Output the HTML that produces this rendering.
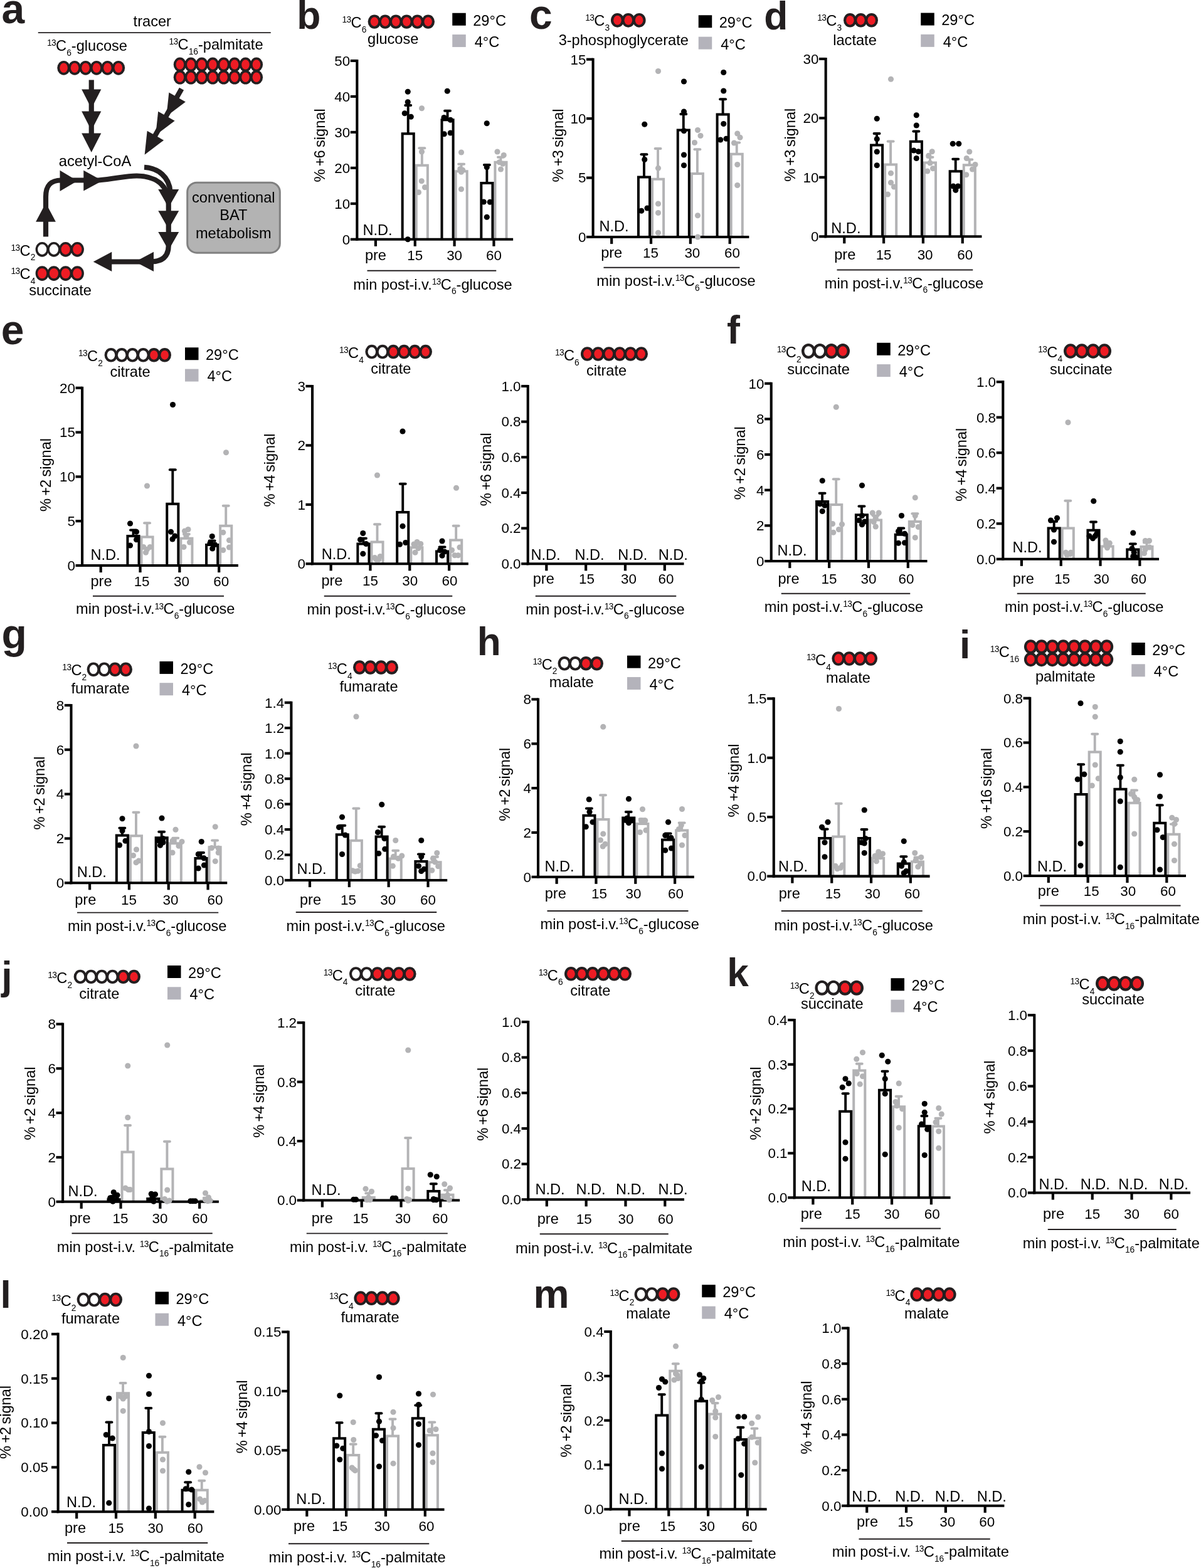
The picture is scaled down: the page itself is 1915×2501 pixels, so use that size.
<!DOCTYPE html>
<html lang="en"><head><meta charset="utf-8"><title>Figure</title>
<style>
html,body{margin:0;padding:0;background:#fff;}
body{width:1915px;height:2501px;overflow:hidden;}
svg{display:block;font-family:'Liberation Sans', 'Helvetica', 'Arial', sans-serif;}
svg text{white-space:pre;}
</style></head><body>
<svg xmlns="http://www.w3.org/2000/svg" width="1915" height="2501" viewBox="0 0 1915 2501" font-family="'Liberation Sans', 'Helvetica', 'Arial', sans-serif">
<rect width="1915" height="2501" fill="#fff"/>
<text x="242.75" y="42" font-size="23.6" text-anchor="middle">tracer</text>
<line x1="60.75" y1="52.2" x2="431.75" y2="52.2" stroke="#231f20" stroke-width="1.8" stroke-linecap="butt"/>
<text x="75" y="81.25" font-size="23.6"><tspan font-size="13.76" dy="-7.86" letter-spacing="-0.6">13</tspan><tspan dy="7.86">C</tspan><tspan font-size="13.76" dy="7.86">6</tspan><tspan dy="-7.86">-glucose</tspan></text>
<text x="269.5" y="78.75" font-size="23.6"><tspan font-size="13.76" dy="-7.86" letter-spacing="-0.6">13</tspan><tspan dy="7.86">C</tspan><tspan font-size="13.76" dy="7.86">16</tspan><tspan dy="-7.86">-palmitate</tspan></text>
<ellipse cx="101.6" cy="108.3" rx="10.3" ry="11.4" fill="#231f20"/>
<ellipse cx="119.05" cy="108.3" rx="10.3" ry="11.4" fill="#231f20"/>
<ellipse cx="136.5" cy="108.3" rx="10.3" ry="11.4" fill="#231f20"/>
<ellipse cx="153.95" cy="108.3" rx="10.3" ry="11.4" fill="#231f20"/>
<ellipse cx="171.4" cy="108.3" rx="10.3" ry="11.4" fill="#231f20"/>
<ellipse cx="188.85" cy="108.3" rx="10.3" ry="11.4" fill="#231f20"/>
<ellipse cx="101.6" cy="108.3" rx="6.3" ry="7.8" fill="#ed1c24"/>
<ellipse cx="119.05" cy="108.3" rx="6.3" ry="7.8" fill="#ed1c24"/>
<ellipse cx="136.5" cy="108.3" rx="6.3" ry="7.8" fill="#ed1c24"/>
<ellipse cx="153.95" cy="108.3" rx="6.3" ry="7.8" fill="#ed1c24"/>
<ellipse cx="171.4" cy="108.3" rx="6.3" ry="7.8" fill="#ed1c24"/>
<ellipse cx="188.85" cy="108.3" rx="6.3" ry="7.8" fill="#ed1c24"/>
<ellipse cx="286.9" cy="103" rx="10.2" ry="11.4" fill="#231f20"/>
<ellipse cx="304.33" cy="103" rx="10.2" ry="11.4" fill="#231f20"/>
<ellipse cx="321.76" cy="103" rx="10.2" ry="11.4" fill="#231f20"/>
<ellipse cx="339.19" cy="103" rx="10.2" ry="11.4" fill="#231f20"/>
<ellipse cx="356.62" cy="103" rx="10.2" ry="11.4" fill="#231f20"/>
<ellipse cx="374.05" cy="103" rx="10.2" ry="11.4" fill="#231f20"/>
<ellipse cx="391.48" cy="103" rx="10.2" ry="11.4" fill="#231f20"/>
<ellipse cx="408.91" cy="103" rx="10.2" ry="11.4" fill="#231f20"/>
<ellipse cx="286.9" cy="103" rx="6.3" ry="7.7" fill="#ed1c24"/>
<ellipse cx="304.33" cy="103" rx="6.3" ry="7.7" fill="#ed1c24"/>
<ellipse cx="321.76" cy="103" rx="6.3" ry="7.7" fill="#ed1c24"/>
<ellipse cx="339.19" cy="103" rx="6.3" ry="7.7" fill="#ed1c24"/>
<ellipse cx="356.62" cy="103" rx="6.3" ry="7.7" fill="#ed1c24"/>
<ellipse cx="374.05" cy="103" rx="6.3" ry="7.7" fill="#ed1c24"/>
<ellipse cx="391.48" cy="103" rx="6.3" ry="7.7" fill="#ed1c24"/>
<ellipse cx="408.91" cy="103" rx="6.3" ry="7.7" fill="#ed1c24"/>
<ellipse cx="286.9" cy="123.2" rx="10.2" ry="11.4" fill="#231f20"/>
<ellipse cx="304.33" cy="123.2" rx="10.2" ry="11.4" fill="#231f20"/>
<ellipse cx="321.76" cy="123.2" rx="10.2" ry="11.4" fill="#231f20"/>
<ellipse cx="339.19" cy="123.2" rx="10.2" ry="11.4" fill="#231f20"/>
<ellipse cx="356.62" cy="123.2" rx="10.2" ry="11.4" fill="#231f20"/>
<ellipse cx="374.05" cy="123.2" rx="10.2" ry="11.4" fill="#231f20"/>
<ellipse cx="391.48" cy="123.2" rx="10.2" ry="11.4" fill="#231f20"/>
<ellipse cx="408.91" cy="123.2" rx="10.2" ry="11.4" fill="#231f20"/>
<ellipse cx="286.9" cy="123.2" rx="6.3" ry="7.7" fill="#ed1c24"/>
<ellipse cx="304.33" cy="123.2" rx="6.3" ry="7.7" fill="#ed1c24"/>
<ellipse cx="321.76" cy="123.2" rx="6.3" ry="7.7" fill="#ed1c24"/>
<ellipse cx="339.19" cy="123.2" rx="6.3" ry="7.7" fill="#ed1c24"/>
<ellipse cx="356.62" cy="123.2" rx="6.3" ry="7.7" fill="#ed1c24"/>
<ellipse cx="374.05" cy="123.2" rx="6.3" ry="7.7" fill="#ed1c24"/>
<ellipse cx="391.48" cy="123.2" rx="6.3" ry="7.7" fill="#ed1c24"/>
<ellipse cx="408.91" cy="123.2" rx="6.3" ry="7.7" fill="#ed1c24"/>
<line x1="145.75" y1="127.5" x2="145.75" y2="225" stroke="#231f20" stroke-width="8.2" stroke-linecap="butt"/>
<polygon points="130.15,142.5 161.35,142.5 145.75,173" fill="#231f20"/>
<polygon points="130.15,177.5 161.35,177.5 145.75,208" fill="#231f20"/>
<polygon points="130.15,212.5 161.35,212.5 145.75,243" fill="#231f20"/>
<line x1="289.5" y1="141.75" x2="242.66" y2="224.4" stroke="#231f20" stroke-width="8.2" stroke-linecap="butt"/>
<polygon points="269.38,147.51 295.82,162.49 265.35,185.45" fill="#231f20"/>
<polygon points="252.18,177.76 278.62,192.74 248.14,215.7" fill="#231f20"/>
<polygon points="234.68,208.76 261.12,223.74 230.65,246.7" fill="#231f20"/>
<text x="151.5" y="264.5" font-size="23.6" text-anchor="middle">acetyl-CoA</text>
<path d="M73 377.5V314C73 296 80 287.5 98 287.5H157C185 285 200 280.5 218 280.5C250 281 268.75 296 268.75 326V392C268.75 410 258 417.5 240 417.5H176" fill="none" stroke="#231f20" stroke-width="8.2" stroke-linejoin="round"/>
<path d="M230 266.75C252 268 270 282 271.5 306" fill="none" stroke="#231f20" stroke-width="8.2"/>
<polygon points="88.9,353.75 57.1,353.75 73,323.75" fill="#231f20"/>
<polygon points="95.5,305 95.5,271.8 123.5,288.4" fill="#231f20"/>
<polygon points="133.25,304.6 133.25,271.8 163.25,288.2" fill="#231f20"/>
<polygon points="252.25,302 285.25,302 268.75,331" fill="#231f20"/>
<polygon points="252.25,336.25 285.25,336.25 268.75,365.25" fill="#231f20"/>
<polygon points="252.25,370 285.25,370 268.75,399" fill="#231f20"/>
<polygon points="245,401.7 245,433.1 215.5,417.4" fill="#231f20"/>
<polygon points="178.25,401.7 178.25,433.1 148.75,417.4" fill="#231f20"/>
<rect x="298.7" y="291.2" width="147.6" height="112" fill="#b3b3b3" stroke="#808080" stroke-width="3" rx="15"/>
<text x="372.3" y="322.5" font-size="23.6" text-anchor="middle">conventional</text>
<text x="372.3" y="351" font-size="23.6" text-anchor="middle">BAT</text>
<text x="372.3" y="380" font-size="23.6" text-anchor="middle">metabolism</text>
<text x="17.5" y="407.5" font-size="23.6"><tspan font-size="13.76" dy="-7.86" letter-spacing="-0.6">13</tspan><tspan dy="7.86">C</tspan><tspan font-size="13.76" dy="7.86">2</tspan></text>
<ellipse cx="67.2" cy="397.8" rx="10.6" ry="11.9" fill="#231f20"/>
<ellipse cx="85.9" cy="397.8" rx="10.6" ry="11.9" fill="#231f20"/>
<ellipse cx="104.6" cy="397.8" rx="10.6" ry="11.9" fill="#231f20"/>
<ellipse cx="123.3" cy="397.8" rx="10.6" ry="11.9" fill="#231f20"/>
<ellipse cx="67.2" cy="397.8" rx="7.1" ry="8.2" fill="#fff"/>
<ellipse cx="85.9" cy="397.8" rx="7.1" ry="8.2" fill="#fff"/>
<ellipse cx="104.6" cy="397.8" rx="7.1" ry="8.2" fill="#ed1c24"/>
<ellipse cx="123.3" cy="397.8" rx="7.1" ry="8.2" fill="#ed1c24"/>
<text x="17.5" y="445" font-size="23.6"><tspan font-size="13.76" dy="-7.86" letter-spacing="-0.6">13</tspan><tspan dy="7.86">C</tspan><tspan font-size="13.76" dy="7.86">4</tspan></text>
<ellipse cx="67.2" cy="436.1" rx="10.6" ry="11.9" fill="#231f20"/>
<ellipse cx="85.9" cy="436.1" rx="10.6" ry="11.9" fill="#231f20"/>
<ellipse cx="104.6" cy="436.1" rx="10.6" ry="11.9" fill="#231f20"/>
<ellipse cx="123.3" cy="436.1" rx="10.6" ry="11.9" fill="#231f20"/>
<ellipse cx="67.2" cy="436.1" rx="7.1" ry="8.2" fill="#ed1c24"/>
<ellipse cx="85.9" cy="436.1" rx="7.1" ry="8.2" fill="#ed1c24"/>
<ellipse cx="104.6" cy="436.1" rx="7.1" ry="8.2" fill="#ed1c24"/>
<ellipse cx="123.3" cy="436.1" rx="7.1" ry="8.2" fill="#ed1c24"/>
<text x="96" y="471" font-size="23.6" text-anchor="middle">succinate</text>
<text x="2.55" y="37.18" font-size="66" font-weight="bold" fill="#231f20">a</text>
<text x="473.14" y="46.37" font-size="62.4" font-weight="bold" fill="#231f20">b</text>
<text x="843.89" y="46.45" font-size="66" font-weight="bold" fill="#231f20">c</text>
<text x="1218.2" y="46.86" font-size="62.4" font-weight="bold" fill="#231f20">d</text>
<text x="1.67" y="548.81" font-size="66" font-weight="bold" fill="#231f20">e</text>
<text x="1158.91" y="548" font-size="62.8" font-weight="bold" fill="#231f20">f</text>
<text x="2.61" y="1034.11" font-size="66" font-weight="bold" fill="#231f20">g</text>
<text x="760.64" y="1045" font-size="62.2" font-weight="bold" fill="#231f20">h</text>
<text x="1529.94" y="1049.8" font-size="62.3" font-weight="bold" fill="#231f20">i</text>
<text x="2.17" y="1578" font-size="62.3" font-weight="bold" fill="#231f20">j</text>
<text x="1159.34" y="1573.2" font-size="62.2" font-weight="bold" fill="#231f20">k</text>
<text x="0.45" y="2086" font-size="62" font-weight="bold" fill="#231f20">l</text>
<text x="850.52" y="2086" font-size="64.2" font-weight="bold" fill="#231f20">m</text>
<line x1="672.82" y1="236.25" x2="672.82" y2="262.75" stroke="#b3b3b5" stroke-width="3.9" stroke-linecap="butt"/>
<line x1="668.32" y1="236.25" x2="677.32" y2="236.25" stroke="#b3b3b5" stroke-width="3.9" stroke-linecap="round"/>
<path d="M663.77 381.75V263.75H681.87V381.75" fill="none" stroke="#b3b3b5" stroke-width="4"/>
<line x1="735.65" y1="261.75" x2="735.65" y2="272.25" stroke="#b3b3b5" stroke-width="3.9" stroke-linecap="butt"/>
<line x1="731.15" y1="261.75" x2="740.15" y2="261.75" stroke="#b3b3b5" stroke-width="3.9" stroke-linecap="round"/>
<path d="M726.6 381.75V273.25H744.7V381.75" fill="none" stroke="#b3b3b5" stroke-width="4"/>
<line x1="798.48" y1="250.75" x2="798.48" y2="257.75" stroke="#b3b3b5" stroke-width="3.9" stroke-linecap="butt"/>
<line x1="793.98" y1="250.75" x2="802.98" y2="250.75" stroke="#b3b3b5" stroke-width="3.9" stroke-linecap="round"/>
<path d="M789.43 381.75V258.75H807.53V381.75" fill="none" stroke="#b3b3b5" stroke-width="4"/>
<line x1="650.72" y1="168" x2="650.72" y2="212.25" stroke="#000" stroke-width="3.9" stroke-linecap="butt"/>
<line x1="646.22" y1="168" x2="655.22" y2="168" stroke="#000" stroke-width="3.9" stroke-linecap="round"/>
<path d="M641.67 381.75V213.25H659.77V381.75" fill="none" stroke="#000" stroke-width="4"/>
<line x1="713.55" y1="176.75" x2="713.55" y2="190.25" stroke="#000" stroke-width="3.9" stroke-linecap="butt"/>
<line x1="709.05" y1="176.75" x2="718.05" y2="176.75" stroke="#000" stroke-width="3.9" stroke-linecap="round"/>
<path d="M704.5 381.75V191.25H722.6V381.75" fill="none" stroke="#000" stroke-width="4"/>
<line x1="776.38" y1="263" x2="776.38" y2="291" stroke="#000" stroke-width="3.9" stroke-linecap="butt"/>
<line x1="771.88" y1="263" x2="780.88" y2="263" stroke="#000" stroke-width="3.9" stroke-linecap="round"/>
<path d="M767.33 381.75V292H785.43V381.75" fill="none" stroke="#000" stroke-width="4"/>
<line x1="569.34" y1="94.9" x2="569.34" y2="383.8" stroke="#000" stroke-width="4.1" stroke-linecap="butt"/>
<line x1="567.29" y1="381.75" x2="818.13" y2="381.75" stroke="#000" stroke-width="4.1" stroke-linecap="butt"/>
<line x1="558.74" y1="381.75" x2="569.34" y2="381.75" stroke="#000" stroke-width="4.1" stroke-linecap="butt"/>
<text x="558.14" y="389.63" font-size="22.4" text-anchor="end" letter-spacing="0.0">0</text>
<line x1="558.74" y1="324.79" x2="569.34" y2="324.79" stroke="#000" stroke-width="4.1" stroke-linecap="butt"/>
<text x="558.14" y="332.67" font-size="22.4" text-anchor="end" letter-spacing="0.0">10</text>
<line x1="558.74" y1="267.83" x2="569.34" y2="267.83" stroke="#000" stroke-width="4.1" stroke-linecap="butt"/>
<text x="558.14" y="275.71" font-size="22.4" text-anchor="end" letter-spacing="0.0">20</text>
<line x1="558.74" y1="210.87" x2="569.34" y2="210.87" stroke="#000" stroke-width="4.1" stroke-linecap="butt"/>
<text x="558.14" y="218.75" font-size="22.4" text-anchor="end" letter-spacing="0.0">30</text>
<line x1="558.74" y1="153.91" x2="569.34" y2="153.91" stroke="#000" stroke-width="4.1" stroke-linecap="butt"/>
<text x="558.14" y="161.79" font-size="22.4" text-anchor="end" letter-spacing="0.0">40</text>
<line x1="558.74" y1="96.95" x2="569.34" y2="96.95" stroke="#000" stroke-width="4.1" stroke-linecap="butt"/>
<text x="558.14" y="104.83" font-size="22.4" text-anchor="end" letter-spacing="0.0">50</text>
<line x1="598.94" y1="381.75" x2="598.94" y2="392.85" stroke="#000" stroke-width="4.2" stroke-linecap="butt"/>
<text x="598.94" y="415" font-size="23.6" text-anchor="middle">pre</text>
<line x1="661.77" y1="381.75" x2="661.77" y2="392.85" stroke="#000" stroke-width="4.2" stroke-linecap="butt"/>
<text x="661.77" y="415" font-size="22.4" text-anchor="middle" letter-spacing="0.0">15</text>
<line x1="724.6" y1="381.75" x2="724.6" y2="392.85" stroke="#000" stroke-width="4.2" stroke-linecap="butt"/>
<text x="724.6" y="415" font-size="22.4" text-anchor="middle" letter-spacing="0.0">30</text>
<line x1="787.43" y1="381.75" x2="787.43" y2="392.85" stroke="#000" stroke-width="4.2" stroke-linecap="butt"/>
<text x="787.43" y="415" font-size="22.4" text-anchor="middle" letter-spacing="0.0">60</text>
<circle cx="672.5" cy="172.75" r="4.55" fill="#b3b3b5"/>
<circle cx="672.5" cy="242" r="4.55" fill="#b3b3b5"/>
<circle cx="672.25" cy="288.75" r="4.55" fill="#b3b3b5"/>
<circle cx="677.5" cy="298.75" r="4.55" fill="#b3b3b5"/>
<circle cx="667.5" cy="306.75" r="4.55" fill="#b3b3b5"/>
<circle cx="735.5" cy="243" r="4.55" fill="#b3b3b5"/>
<circle cx="733.75" cy="269.5" r="4.55" fill="#b3b3b5"/>
<circle cx="737.75" cy="271.25" r="4.55" fill="#b3b3b5"/>
<circle cx="735.5" cy="274.25" r="4.55" fill="#b3b3b5"/>
<circle cx="735.5" cy="301.75" r="4.55" fill="#b3b3b5"/>
<circle cx="793" cy="242" r="4.55" fill="#b3b3b5"/>
<circle cx="803.25" cy="247.5" r="4.55" fill="#b3b3b5"/>
<circle cx="796.25" cy="258.75" r="4.55" fill="#b3b3b5"/>
<circle cx="801.75" cy="261.25" r="4.55" fill="#b3b3b5"/>
<circle cx="798.5" cy="270" r="4.55" fill="#b3b3b5"/>
<circle cx="650.25" cy="146.25" r="4.55" fill="#000"/>
<circle cx="650.25" cy="162.75" r="4.55" fill="#000"/>
<circle cx="645.25" cy="180.75" r="4.55" fill="#000"/>
<circle cx="655.25" cy="186.25" r="4.55" fill="#000"/>
<circle cx="650.25" cy="381.75" r="4.55" fill="#000"/>
<circle cx="713.25" cy="145.25" r="4.55" fill="#000"/>
<circle cx="708" cy="187.5" r="4.55" fill="#000"/>
<circle cx="718.25" cy="191.25" r="4.55" fill="#000"/>
<circle cx="708.25" cy="213.75" r="4.55" fill="#000"/>
<circle cx="718.25" cy="212" r="4.55" fill="#000"/>
<circle cx="776.25" cy="196.75" r="4.55" fill="#000"/>
<circle cx="776.25" cy="266.75" r="4.55" fill="#000"/>
<circle cx="771.25" cy="322" r="4.55" fill="#000"/>
<circle cx="781.25" cy="322.25" r="4.55" fill="#000"/>
<circle cx="776.25" cy="346.25" r="4.55" fill="#000"/>
<text x="602" y="375.15" font-size="23.6" text-anchor="middle">N.D.</text>
<line x1="585.5" y1="431.75" x2="791.25" y2="431.75" stroke="#231f20" stroke-width="1.8" stroke-linecap="butt"/>
<text x="690" y="461.5" font-size="23.6" text-anchor="middle">min post-i.v.<tspan font-size="13.76" dy="-7.86" letter-spacing="-0.6">13</tspan><tspan dy="7.86">C</tspan><tspan font-size="13.76" dy="7.86">6</tspan><tspan dy="-7.86">-glucose</tspan></text>
<text x="518.3" y="173.3" font-size="23.6" text-anchor="end" transform="rotate(-90 518.3 173.3)"><tspan letter-spacing="-1.1">% +6 </tspan>signal</text>
<text x="545.5" y="44.15" font-size="23.6"><tspan font-size="13.76" dy="-7.86" letter-spacing="-0.6">13</tspan><tspan dy="7.86">C</tspan><tspan font-size="13.76" dy="7.86">6</tspan></text>
<ellipse cx="596.99" cy="34.6" rx="10.39" ry="11.22" fill="#231f20"/>
<ellipse cx="614.12" cy="34.6" rx="10.39" ry="11.22" fill="#231f20"/>
<ellipse cx="631.24" cy="34.6" rx="10.39" ry="11.22" fill="#231f20"/>
<ellipse cx="648.36" cy="34.6" rx="10.39" ry="11.22" fill="#231f20"/>
<ellipse cx="665.48" cy="34.6" rx="10.39" ry="11.22" fill="#231f20"/>
<ellipse cx="682.61" cy="34.6" rx="10.39" ry="11.22" fill="#231f20"/>
<ellipse cx="596.99" cy="34.6" rx="6.27" ry="7.36" fill="#ed1c24"/>
<ellipse cx="614.12" cy="34.6" rx="6.27" ry="7.36" fill="#ed1c24"/>
<ellipse cx="631.24" cy="34.6" rx="6.27" ry="7.36" fill="#ed1c24"/>
<ellipse cx="648.36" cy="34.6" rx="6.27" ry="7.36" fill="#ed1c24"/>
<ellipse cx="665.48" cy="34.6" rx="6.27" ry="7.36" fill="#ed1c24"/>
<ellipse cx="682.61" cy="34.6" rx="6.27" ry="7.36" fill="#ed1c24"/>
<text x="626.75" y="69.6" font-size="23.6" text-anchor="middle">glucose</text>
<rect x="721.25" y="20.75" width="21.5" height="20" fill="#000"/>
<rect x="721.25" y="55.05" width="21.5" height="20" fill="#b4b3bb"/>
<text x="754.25" y="40.65" font-size="23.6">29°C</text>
<text x="756.75" y="74.95" font-size="23.6">4°C</text>
<line x1="1049.07" y1="237" x2="1049.07" y2="284.75" stroke="#b3b3b5" stroke-width="3.9" stroke-linecap="butt"/>
<line x1="1044.57" y1="237" x2="1053.57" y2="237" stroke="#b3b3b5" stroke-width="3.9" stroke-linecap="round"/>
<path d="M1040.02 378V285.75H1058.12V378" fill="none" stroke="#b3b3b5" stroke-width="4"/>
<line x1="1111.9" y1="238.25" x2="1111.9" y2="276" stroke="#b3b3b5" stroke-width="3.9" stroke-linecap="butt"/>
<line x1="1107.4" y1="238.25" x2="1116.4" y2="238.25" stroke="#b3b3b5" stroke-width="3.9" stroke-linecap="round"/>
<path d="M1102.85 378V277H1120.95V378" fill="none" stroke="#b3b3b5" stroke-width="4"/>
<line x1="1174.73" y1="227.5" x2="1174.73" y2="244.75" stroke="#b3b3b5" stroke-width="3.9" stroke-linecap="butt"/>
<line x1="1170.23" y1="227.5" x2="1179.23" y2="227.5" stroke="#b3b3b5" stroke-width="3.9" stroke-linecap="round"/>
<path d="M1165.68 378V245.75H1183.78V378" fill="none" stroke="#b3b3b5" stroke-width="4"/>
<line x1="1026.97" y1="246.25" x2="1026.97" y2="281.5" stroke="#000" stroke-width="3.9" stroke-linecap="butt"/>
<line x1="1022.47" y1="246.25" x2="1031.47" y2="246.25" stroke="#000" stroke-width="3.9" stroke-linecap="round"/>
<path d="M1017.92 378V282.5H1036.02V378" fill="none" stroke="#000" stroke-width="4"/>
<line x1="1089.8" y1="182" x2="1089.8" y2="206.5" stroke="#000" stroke-width="3.9" stroke-linecap="butt"/>
<line x1="1085.3" y1="182" x2="1094.3" y2="182" stroke="#000" stroke-width="3.9" stroke-linecap="round"/>
<path d="M1080.75 378V207.5H1098.85V378" fill="none" stroke="#000" stroke-width="4"/>
<line x1="1152.63" y1="158.25" x2="1152.63" y2="181.5" stroke="#000" stroke-width="3.9" stroke-linecap="butt"/>
<line x1="1148.13" y1="158.25" x2="1157.13" y2="158.25" stroke="#000" stroke-width="3.9" stroke-linecap="round"/>
<path d="M1143.58 378V182.5H1161.68V378" fill="none" stroke="#000" stroke-width="4"/>
<line x1="945.59" y1="92.65" x2="945.59" y2="380.05" stroke="#000" stroke-width="4.1" stroke-linecap="butt"/>
<line x1="943.54" y1="378" x2="1194.38" y2="378" stroke="#000" stroke-width="4.1" stroke-linecap="butt"/>
<line x1="934.99" y1="378" x2="945.59" y2="378" stroke="#000" stroke-width="4.1" stroke-linecap="butt"/>
<text x="934.39" y="385.88" font-size="22.4" text-anchor="end" letter-spacing="0.0">0</text>
<line x1="934.99" y1="283.57" x2="945.59" y2="283.57" stroke="#000" stroke-width="4.1" stroke-linecap="butt"/>
<text x="934.39" y="291.45" font-size="22.4" text-anchor="end" letter-spacing="0.0">5</text>
<line x1="934.99" y1="189.13" x2="945.59" y2="189.13" stroke="#000" stroke-width="4.1" stroke-linecap="butt"/>
<text x="934.39" y="197.02" font-size="22.4" text-anchor="end" letter-spacing="0.0">10</text>
<line x1="934.99" y1="94.7" x2="945.59" y2="94.7" stroke="#000" stroke-width="4.1" stroke-linecap="butt"/>
<text x="934.39" y="102.58" font-size="22.4" text-anchor="end" letter-spacing="0.0">15</text>
<line x1="975.19" y1="378" x2="975.19" y2="389.1" stroke="#000" stroke-width="4.2" stroke-linecap="butt"/>
<text x="975.19" y="410.75" font-size="23.6" text-anchor="middle">pre</text>
<line x1="1038.02" y1="378" x2="1038.02" y2="389.1" stroke="#000" stroke-width="4.2" stroke-linecap="butt"/>
<text x="1037.52" y="410.75" font-size="22.4" text-anchor="middle" letter-spacing="0.0">15</text>
<line x1="1100.85" y1="378" x2="1100.85" y2="389.1" stroke="#000" stroke-width="4.2" stroke-linecap="butt"/>
<text x="1103.85" y="410.75" font-size="22.4" text-anchor="middle" letter-spacing="0.0">30</text>
<line x1="1163.68" y1="378" x2="1163.68" y2="389.1" stroke="#000" stroke-width="4.2" stroke-linecap="butt"/>
<text x="1167.48" y="410.75" font-size="22.4" text-anchor="middle" letter-spacing="0.0">60</text>
<circle cx="1049.5" cy="113.5" r="4.55" fill="#b3b3b5"/>
<circle cx="1049.5" cy="268.25" r="4.55" fill="#b3b3b5"/>
<circle cx="1049.5" cy="325" r="4.55" fill="#b3b3b5"/>
<circle cx="1049.5" cy="339.5" r="4.55" fill="#b3b3b5"/>
<circle cx="1049.5" cy="371.25" r="4.55" fill="#b3b3b5"/>
<circle cx="1112.5" cy="207.5" r="4.55" fill="#b3b3b5"/>
<circle cx="1117" cy="216.5" r="4.55" fill="#b3b3b5"/>
<circle cx="1107.5" cy="227.5" r="4.55" fill="#b3b3b5"/>
<circle cx="1112.5" cy="343.75" r="4.55" fill="#b3b3b5"/>
<circle cx="1112.5" cy="378" r="4.55" fill="#b3b3b5"/>
<circle cx="1175.75" cy="213" r="4.55" fill="#b3b3b5"/>
<circle cx="1180" cy="219.25" r="4.55" fill="#b3b3b5"/>
<circle cx="1170.5" cy="228" r="4.55" fill="#b3b3b5"/>
<circle cx="1175.75" cy="262.5" r="4.55" fill="#b3b3b5"/>
<circle cx="1175.75" cy="295.5" r="4.55" fill="#b3b3b5"/>
<circle cx="1027.75" cy="198.25" r="4.55" fill="#000"/>
<circle cx="1027.75" cy="254.5" r="4.55" fill="#000"/>
<circle cx="1022.75" cy="336.25" r="4.55" fill="#000"/>
<circle cx="1032" cy="332" r="4.55" fill="#000"/>
<circle cx="1090.5" cy="130" r="4.55" fill="#000"/>
<circle cx="1090.5" cy="178" r="4.55" fill="#000"/>
<circle cx="1090.5" cy="208.75" r="4.55" fill="#000"/>
<circle cx="1090.5" cy="247" r="4.55" fill="#000"/>
<circle cx="1090.5" cy="263.75" r="4.55" fill="#000"/>
<circle cx="1153.75" cy="115.5" r="4.55" fill="#000"/>
<circle cx="1153.75" cy="145" r="4.55" fill="#000"/>
<circle cx="1153.75" cy="197.5" r="4.55" fill="#000"/>
<circle cx="1148.75" cy="223" r="4.55" fill="#000"/>
<circle cx="1158" cy="221.25" r="4.55" fill="#000"/>
<text x="979" y="369.1" font-size="23.6" text-anchor="middle">N.D.</text>
<line x1="962.5" y1="426.75" x2="1179.5" y2="426.75" stroke="#231f20" stroke-width="1.8" stroke-linecap="butt"/>
<text x="1078" y="455.9" font-size="23.6" text-anchor="middle">min post-i.v.<tspan font-size="13.76" dy="-7.86" letter-spacing="-0.6">13</tspan><tspan dy="7.86">C</tspan><tspan font-size="13.76" dy="7.86">6</tspan><tspan dy="-7.86">-glucose</tspan></text>
<text x="898" y="232" font-size="23.6" text-anchor="middle" transform="rotate(-90 898 232)"><tspan letter-spacing="-1.1">% +3 </tspan>signal</text>
<text x="933.25" y="40.85" font-size="23.6"><tspan font-size="13.76" dy="-7.86" letter-spacing="-0.6">13</tspan><tspan dy="7.86">C</tspan><tspan font-size="13.76" dy="7.86">3</tspan></text>
<ellipse cx="984.5" cy="32.3" rx="10.5" ry="11.33" fill="#231f20"/>
<ellipse cx="1001.8" cy="32.3" rx="10.5" ry="11.33" fill="#231f20"/>
<ellipse cx="1019.1" cy="32.3" rx="10.5" ry="11.33" fill="#231f20"/>
<ellipse cx="984.5" cy="32.3" rx="6.33" ry="7.44" fill="#ed1c24"/>
<ellipse cx="1001.8" cy="32.3" rx="6.33" ry="7.44" fill="#ed1c24"/>
<ellipse cx="1019.1" cy="32.3" rx="6.33" ry="7.44" fill="#ed1c24"/>
<text x="994.25" y="72.45" font-size="23.6" text-anchor="middle">3-phosphoglycerate</text>
<rect x="1113.75" y="24.25" width="21.5" height="20" fill="#000"/>
<rect x="1113.75" y="58.65" width="21.5" height="20" fill="#b4b3bb"/>
<text x="1146.75" y="44.15" font-size="23.6">29°C</text>
<text x="1149.25" y="78.55" font-size="23.6">4°C</text>
<line x1="1420.13" y1="225.5" x2="1420.13" y2="261.5" stroke="#b3b3b5" stroke-width="3.9" stroke-linecap="butt"/>
<line x1="1415.63" y1="225.5" x2="1424.63" y2="225.5" stroke="#b3b3b5" stroke-width="3.9" stroke-linecap="round"/>
<path d="M1411.09 377.25V262.5H1429.18V377.25" fill="none" stroke="#b3b3b5" stroke-width="4"/>
<line x1="1482.97" y1="250.75" x2="1482.97" y2="258.5" stroke="#b3b3b5" stroke-width="3.9" stroke-linecap="butt"/>
<line x1="1478.47" y1="250.75" x2="1487.47" y2="250.75" stroke="#b3b3b5" stroke-width="3.9" stroke-linecap="round"/>
<path d="M1473.92 377.25V259.5H1492.02V377.25" fill="none" stroke="#b3b3b5" stroke-width="4"/>
<line x1="1545.8" y1="254.5" x2="1545.8" y2="262.25" stroke="#b3b3b5" stroke-width="3.9" stroke-linecap="butt"/>
<line x1="1541.3" y1="254.5" x2="1550.3" y2="254.5" stroke="#b3b3b5" stroke-width="3.9" stroke-linecap="round"/>
<path d="M1536.75 377.25V263.25H1554.85V377.25" fill="none" stroke="#b3b3b5" stroke-width="4"/>
<line x1="1398.04" y1="213" x2="1398.04" y2="230.5" stroke="#000" stroke-width="3.9" stroke-linecap="butt"/>
<line x1="1393.54" y1="213" x2="1402.54" y2="213" stroke="#000" stroke-width="3.9" stroke-linecap="round"/>
<path d="M1388.99 377.25V231.5H1407.09V377.25" fill="none" stroke="#000" stroke-width="4"/>
<line x1="1460.87" y1="209.5" x2="1460.87" y2="224.75" stroke="#000" stroke-width="3.9" stroke-linecap="butt"/>
<line x1="1456.37" y1="209.5" x2="1465.37" y2="209.5" stroke="#000" stroke-width="3.9" stroke-linecap="round"/>
<path d="M1451.82 377.25V225.75H1469.92V377.25" fill="none" stroke="#000" stroke-width="4"/>
<line x1="1523.7" y1="253.75" x2="1523.7" y2="272.25" stroke="#000" stroke-width="3.9" stroke-linecap="butt"/>
<line x1="1519.2" y1="253.75" x2="1528.2" y2="253.75" stroke="#000" stroke-width="3.9" stroke-linecap="round"/>
<path d="M1514.65 377.25V273.25H1532.75V377.25" fill="none" stroke="#000" stroke-width="4"/>
<line x1="1316.66" y1="91.9" x2="1316.66" y2="379.3" stroke="#000" stroke-width="4.1" stroke-linecap="butt"/>
<line x1="1314.61" y1="377.25" x2="1565.45" y2="377.25" stroke="#000" stroke-width="4.1" stroke-linecap="butt"/>
<line x1="1306.06" y1="377.25" x2="1316.66" y2="377.25" stroke="#000" stroke-width="4.1" stroke-linecap="butt"/>
<text x="1305.46" y="385.13" font-size="22.4" text-anchor="end" letter-spacing="0.0">0</text>
<line x1="1306.06" y1="282.82" x2="1316.66" y2="282.82" stroke="#000" stroke-width="4.1" stroke-linecap="butt"/>
<text x="1305.46" y="290.7" font-size="22.4" text-anchor="end" letter-spacing="0.0">10</text>
<line x1="1306.06" y1="188.38" x2="1316.66" y2="188.38" stroke="#000" stroke-width="4.1" stroke-linecap="butt"/>
<text x="1305.46" y="196.27" font-size="22.4" text-anchor="end" letter-spacing="0.0">20</text>
<line x1="1306.06" y1="93.95" x2="1316.66" y2="93.95" stroke="#000" stroke-width="4.1" stroke-linecap="butt"/>
<text x="1305.46" y="101.83" font-size="22.4" text-anchor="end" letter-spacing="0.0">30</text>
<line x1="1346.26" y1="377.25" x2="1346.26" y2="388.35" stroke="#000" stroke-width="4.2" stroke-linecap="butt"/>
<text x="1347.26" y="414.35" font-size="23.6" text-anchor="middle">pre</text>
<line x1="1409.09" y1="377.25" x2="1409.09" y2="388.35" stroke="#000" stroke-width="4.2" stroke-linecap="butt"/>
<text x="1409.09" y="414.35" font-size="22.4" text-anchor="middle" letter-spacing="0.0">15</text>
<line x1="1471.92" y1="377.25" x2="1471.92" y2="388.35" stroke="#000" stroke-width="4.2" stroke-linecap="butt"/>
<text x="1475.12" y="414.35" font-size="22.4" text-anchor="middle" letter-spacing="0.0">30</text>
<line x1="1534.75" y1="377.25" x2="1534.75" y2="388.35" stroke="#000" stroke-width="4.2" stroke-linecap="butt"/>
<text x="1538.75" y="414.35" font-size="22.4" text-anchor="middle" letter-spacing="0.0">60</text>
<circle cx="1420.5" cy="126.25" r="4.55" fill="#b3b3b5"/>
<circle cx="1420.5" cy="276.25" r="4.55" fill="#b3b3b5"/>
<circle cx="1420.5" cy="291.25" r="4.55" fill="#b3b3b5"/>
<circle cx="1425.5" cy="298" r="4.55" fill="#b3b3b5"/>
<circle cx="1415.5" cy="310" r="4.55" fill="#b3b3b5"/>
<circle cx="1486.25" cy="241.75" r="4.55" fill="#b3b3b5"/>
<circle cx="1480.75" cy="248.25" r="4.55" fill="#b3b3b5"/>
<circle cx="1487.5" cy="268.75" r="4.55" fill="#b3b3b5"/>
<circle cx="1478.75" cy="273" r="4.55" fill="#b3b3b5"/>
<circle cx="1483" cy="260" r="4.55" fill="#b3b3b5"/>
<circle cx="1545.75" cy="242" r="4.55" fill="#b3b3b5"/>
<circle cx="1541.25" cy="252.5" r="4.55" fill="#b3b3b5"/>
<circle cx="1555" cy="262.5" r="4.55" fill="#b3b3b5"/>
<circle cx="1550.5" cy="270" r="4.55" fill="#b3b3b5"/>
<circle cx="1540.75" cy="278.75" r="4.55" fill="#b3b3b5"/>
<circle cx="1398.25" cy="189.25" r="4.55" fill="#000"/>
<circle cx="1398.25" cy="221.75" r="4.55" fill="#000"/>
<circle cx="1398.25" cy="242" r="4.55" fill="#000"/>
<circle cx="1398.25" cy="263.75" r="4.55" fill="#000"/>
<circle cx="1461.25" cy="183.75" r="4.55" fill="#000"/>
<circle cx="1461.25" cy="200" r="4.55" fill="#000"/>
<circle cx="1457" cy="240" r="4.55" fill="#000"/>
<circle cx="1464.5" cy="241.75" r="4.55" fill="#000"/>
<circle cx="1461.25" cy="252.5" r="4.55" fill="#000"/>
<circle cx="1519.25" cy="229.25" r="4.55" fill="#000"/>
<circle cx="1528.75" cy="229.25" r="4.55" fill="#000"/>
<circle cx="1520" cy="297" r="4.55" fill="#000"/>
<circle cx="1527.5" cy="297" r="4.55" fill="#000"/>
<circle cx="1523.75" cy="303.25" r="4.55" fill="#000"/>
<text x="1348.85" y="371.6" font-size="23.6" text-anchor="middle">N.D.</text>
<line x1="1334.5" y1="430.5" x2="1551.25" y2="430.5" stroke="#231f20" stroke-width="1.8" stroke-linecap="butt"/>
<text x="1441.5" y="459.5" font-size="23.6" text-anchor="middle">min post-i.v.<tspan font-size="13.76" dy="-7.86" letter-spacing="-0.6">13</tspan><tspan dy="7.86">C</tspan><tspan font-size="13.76" dy="7.86">6</tspan><tspan dy="-7.86">-glucose</tspan></text>
<text x="1268.25" y="231.25" font-size="23.6" text-anchor="middle" transform="rotate(-90 1268.25 231.25)"><tspan letter-spacing="-1.1">% +3 </tspan>signal</text>
<text x="1303.25" y="40.85" font-size="23.6"><tspan font-size="13.76" dy="-7.86" letter-spacing="-0.6">13</tspan><tspan dy="7.86">C</tspan><tspan font-size="13.76" dy="7.86">3</tspan></text>
<ellipse cx="1355.39" cy="32.3" rx="10.39" ry="11.21" fill="#231f20"/>
<ellipse cx="1372.5" cy="32.3" rx="10.39" ry="11.21" fill="#231f20"/>
<ellipse cx="1389.61" cy="32.3" rx="10.39" ry="11.21" fill="#231f20"/>
<ellipse cx="1355.39" cy="32.3" rx="6.26" ry="7.36" fill="#ed1c24"/>
<ellipse cx="1372.5" cy="32.3" rx="6.26" ry="7.36" fill="#ed1c24"/>
<ellipse cx="1389.61" cy="32.3" rx="6.26" ry="7.36" fill="#ed1c24"/>
<text x="1363" y="72.15" font-size="23.6" text-anchor="middle">lactate</text>
<rect x="1468.25" y="20.55" width="21.5" height="20" fill="#000"/>
<rect x="1468.25" y="54.85" width="21.5" height="20" fill="#b4b3bb"/>
<text x="1501.25" y="40.45" font-size="23.6">29°C</text>
<text x="1503.75" y="74.75" font-size="23.6">4°C</text>
<line x1="234.57" y1="834.25" x2="234.57" y2="855.5" stroke="#b3b3b5" stroke-width="3.9" stroke-linecap="butt"/>
<line x1="230.07" y1="834.25" x2="239.07" y2="834.25" stroke="#b3b3b5" stroke-width="3.9" stroke-linecap="round"/>
<path d="M225.52 902V856.5H243.62V902" fill="none" stroke="#b3b3b5" stroke-width="4"/>
<line x1="297.4" y1="852" x2="297.4" y2="857.75" stroke="#b3b3b5" stroke-width="3.9" stroke-linecap="butt"/>
<line x1="292.9" y1="852" x2="301.9" y2="852" stroke="#b3b3b5" stroke-width="3.9" stroke-linecap="round"/>
<path d="M288.35 902V858.75H306.45V902" fill="none" stroke="#b3b3b5" stroke-width="4"/>
<line x1="360.23" y1="806.75" x2="360.23" y2="837.75" stroke="#b3b3b5" stroke-width="3.9" stroke-linecap="butt"/>
<line x1="355.73" y1="806.75" x2="364.73" y2="806.75" stroke="#b3b3b5" stroke-width="3.9" stroke-linecap="round"/>
<path d="M351.18 902V838.75H369.28V902" fill="none" stroke="#b3b3b5" stroke-width="4"/>
<line x1="212.47" y1="845.5" x2="212.47" y2="854" stroke="#000" stroke-width="3.9" stroke-linecap="butt"/>
<line x1="207.97" y1="845.5" x2="216.97" y2="845.5" stroke="#000" stroke-width="3.9" stroke-linecap="round"/>
<path d="M203.42 902V855H221.52V902" fill="none" stroke="#000" stroke-width="4"/>
<line x1="275.3" y1="749.25" x2="275.3" y2="802.75" stroke="#000" stroke-width="3.9" stroke-linecap="butt"/>
<line x1="270.8" y1="749.25" x2="279.8" y2="749.25" stroke="#000" stroke-width="3.9" stroke-linecap="round"/>
<path d="M266.25 902V803.75H284.35V902" fill="none" stroke="#000" stroke-width="4"/>
<line x1="338.13" y1="862.5" x2="338.13" y2="868" stroke="#000" stroke-width="3.9" stroke-linecap="butt"/>
<line x1="333.63" y1="862.5" x2="342.63" y2="862.5" stroke="#000" stroke-width="3.9" stroke-linecap="round"/>
<path d="M329.08 902V869H347.18V902" fill="none" stroke="#000" stroke-width="4"/>
<line x1="131.09" y1="616.65" x2="131.09" y2="904.05" stroke="#000" stroke-width="4.1" stroke-linecap="butt"/>
<line x1="129.04" y1="902" x2="379.88" y2="902" stroke="#000" stroke-width="4.1" stroke-linecap="butt"/>
<line x1="120.49" y1="902" x2="131.09" y2="902" stroke="#000" stroke-width="4.1" stroke-linecap="butt"/>
<text x="119.89" y="909.88" font-size="22.4" text-anchor="end" letter-spacing="0.0">0</text>
<line x1="120.49" y1="831.17" x2="131.09" y2="831.17" stroke="#000" stroke-width="4.1" stroke-linecap="butt"/>
<text x="119.89" y="839.06" font-size="22.4" text-anchor="end" letter-spacing="0.0">5</text>
<line x1="120.49" y1="760.35" x2="131.09" y2="760.35" stroke="#000" stroke-width="4.1" stroke-linecap="butt"/>
<text x="119.89" y="768.23" font-size="22.4" text-anchor="end" letter-spacing="0.0">10</text>
<line x1="120.49" y1="689.53" x2="131.09" y2="689.53" stroke="#000" stroke-width="4.1" stroke-linecap="butt"/>
<text x="119.89" y="697.41" font-size="22.4" text-anchor="end" letter-spacing="0.0">15</text>
<line x1="120.49" y1="618.7" x2="131.09" y2="618.7" stroke="#000" stroke-width="4.1" stroke-linecap="butt"/>
<text x="119.89" y="626.58" font-size="22.4" text-anchor="end" letter-spacing="0.0">20</text>
<line x1="160.69" y1="902" x2="160.69" y2="913.1" stroke="#000" stroke-width="4.2" stroke-linecap="butt"/>
<text x="161.49" y="935" font-size="23.6" text-anchor="middle">pre</text>
<line x1="223.52" y1="902" x2="223.52" y2="913.1" stroke="#000" stroke-width="4.2" stroke-linecap="butt"/>
<text x="226.12" y="935" font-size="22.4" text-anchor="middle" letter-spacing="0.0">15</text>
<line x1="286.35" y1="902" x2="286.35" y2="913.1" stroke="#000" stroke-width="4.2" stroke-linecap="butt"/>
<text x="289.55" y="935" font-size="22.4" text-anchor="middle" letter-spacing="0.0">30</text>
<line x1="349.18" y1="902" x2="349.18" y2="913.1" stroke="#000" stroke-width="4.2" stroke-linecap="butt"/>
<text x="352.78" y="935" font-size="22.4" text-anchor="middle" letter-spacing="0.0">60</text>
<circle cx="234.5" cy="775" r="4.55" fill="#b3b3b5"/>
<circle cx="228.75" cy="872.5" r="4.55" fill="#b3b3b5"/>
<circle cx="239.25" cy="872.5" r="4.55" fill="#b3b3b5"/>
<circle cx="232.5" cy="881.25" r="4.55" fill="#b3b3b5"/>
<circle cx="234.5" cy="876.25" r="4.55" fill="#b3b3b5"/>
<circle cx="300" cy="844.5" r="4.55" fill="#b3b3b5"/>
<circle cx="294.5" cy="847" r="4.55" fill="#b3b3b5"/>
<circle cx="297" cy="855" r="4.55" fill="#b3b3b5"/>
<circle cx="302.5" cy="865" r="4.55" fill="#b3b3b5"/>
<circle cx="293" cy="872.5" r="4.55" fill="#b3b3b5"/>
<circle cx="360.5" cy="721.75" r="4.55" fill="#b3b3b5"/>
<circle cx="355.75" cy="849.25" r="4.55" fill="#b3b3b5"/>
<circle cx="365.5" cy="861.75" r="4.55" fill="#b3b3b5"/>
<circle cx="365.5" cy="873" r="4.55" fill="#b3b3b5"/>
<circle cx="355.75" cy="877.5" r="4.55" fill="#b3b3b5"/>
<circle cx="207.5" cy="835" r="4.55" fill="#000"/>
<circle cx="217.5" cy="848.25" r="4.55" fill="#000"/>
<circle cx="217.5" cy="860.75" r="4.55" fill="#000"/>
<circle cx="207.5" cy="870" r="4.55" fill="#000"/>
<circle cx="275.5" cy="645.5" r="4.55" fill="#000"/>
<circle cx="272.5" cy="848.25" r="4.55" fill="#000"/>
<circle cx="278.75" cy="855" r="4.55" fill="#000"/>
<circle cx="275" cy="860" r="4.55" fill="#000"/>
<circle cx="338.25" cy="855.5" r="4.55" fill="#000"/>
<circle cx="335" cy="866.25" r="4.55" fill="#000"/>
<circle cx="342.5" cy="868.75" r="4.55" fill="#000"/>
<circle cx="338.75" cy="875" r="4.55" fill="#000"/>
<text x="168" y="892.85" font-size="23.6" text-anchor="middle">N.D.</text>
<line x1="148" y1="950.75" x2="357" y2="950.75" stroke="#231f20" stroke-width="1.8" stroke-linecap="butt"/>
<text x="247.75" y="979.4" font-size="23.6" text-anchor="middle">min post-i.v.<tspan font-size="13.76" dy="-7.86" letter-spacing="-0.6">13</tspan><tspan dy="7.86">C</tspan><tspan font-size="13.76" dy="7.86">6</tspan><tspan dy="-7.86">-glucose</tspan></text>
<text x="80.5" y="757.5" font-size="23.6" text-anchor="middle" transform="rotate(-90 80.5 757.5)"><tspan letter-spacing="-1.1">% +2 </tspan>signal</text>
<text x="125" y="575.7" font-size="23.6"><tspan font-size="13.76" dy="-7.86" letter-spacing="-0.6">13</tspan><tspan dy="7.86">C</tspan><tspan font-size="13.76" dy="7.86">2</tspan></text>
<ellipse cx="176.99" cy="566.3" rx="10.39" ry="11.22" fill="#231f20"/>
<ellipse cx="194.12" cy="566.3" rx="10.39" ry="11.22" fill="#231f20"/>
<ellipse cx="211.24" cy="566.3" rx="10.39" ry="11.22" fill="#231f20"/>
<ellipse cx="228.36" cy="566.3" rx="10.39" ry="11.22" fill="#231f20"/>
<ellipse cx="245.48" cy="566.3" rx="10.39" ry="11.22" fill="#231f20"/>
<ellipse cx="262.61" cy="566.3" rx="10.39" ry="11.22" fill="#231f20"/>
<ellipse cx="176.99" cy="566.3" rx="6.27" ry="7.36" fill="#fff"/>
<ellipse cx="194.12" cy="566.3" rx="6.27" ry="7.36" fill="#fff"/>
<ellipse cx="211.24" cy="566.3" rx="6.27" ry="7.36" fill="#fff"/>
<ellipse cx="228.36" cy="566.3" rx="6.27" ry="7.36" fill="#fff"/>
<ellipse cx="245.48" cy="566.3" rx="6.27" ry="7.36" fill="#ed1c24"/>
<ellipse cx="262.61" cy="566.3" rx="6.27" ry="7.36" fill="#ed1c24"/>
<text x="207.5" y="600.7" font-size="23.6" text-anchor="middle">citrate</text>
<rect x="295" y="554.25" width="21.5" height="20" fill="#000"/>
<rect x="295" y="588.55" width="21.5" height="20" fill="#b4b3bb"/>
<text x="328" y="574.15" font-size="23.6">29°C</text>
<text x="330.5" y="608.45" font-size="23.6">4°C</text>
<line x1="601.51" y1="836.25" x2="601.51" y2="863.5" stroke="#b3b3b5" stroke-width="3.9" stroke-linecap="butt"/>
<line x1="597.01" y1="836.25" x2="606.01" y2="836.25" stroke="#b3b3b5" stroke-width="3.9" stroke-linecap="round"/>
<path d="M592.46 899.25V864.5H610.56V899.25" fill="none" stroke="#b3b3b5" stroke-width="4"/>
<line x1="664.34" y1="867.5" x2="664.34" y2="872.25" stroke="#b3b3b5" stroke-width="3.9" stroke-linecap="butt"/>
<line x1="659.84" y1="867.5" x2="668.84" y2="867.5" stroke="#b3b3b5" stroke-width="3.9" stroke-linecap="round"/>
<path d="M655.29 899.25V873.25H673.39V899.25" fill="none" stroke="#b3b3b5" stroke-width="4"/>
<line x1="727.17" y1="838.75" x2="727.17" y2="860.5" stroke="#b3b3b5" stroke-width="3.9" stroke-linecap="butt"/>
<line x1="722.67" y1="838.75" x2="731.67" y2="838.75" stroke="#b3b3b5" stroke-width="3.9" stroke-linecap="round"/>
<path d="M718.12 899.25V861.5H736.22V899.25" fill="none" stroke="#b3b3b5" stroke-width="4"/>
<line x1="579.41" y1="858.75" x2="579.41" y2="866.5" stroke="#000" stroke-width="3.9" stroke-linecap="butt"/>
<line x1="574.91" y1="858.75" x2="583.91" y2="858.75" stroke="#000" stroke-width="3.9" stroke-linecap="round"/>
<path d="M570.36 899.25V867.5H588.46V899.25" fill="none" stroke="#000" stroke-width="4"/>
<line x1="642.24" y1="771.75" x2="642.24" y2="816" stroke="#000" stroke-width="3.9" stroke-linecap="butt"/>
<line x1="637.74" y1="771.75" x2="646.74" y2="771.75" stroke="#000" stroke-width="3.9" stroke-linecap="round"/>
<path d="M633.19 899.25V817H651.29V899.25" fill="none" stroke="#000" stroke-width="4"/>
<line x1="705.07" y1="872.5" x2="705.07" y2="878.5" stroke="#000" stroke-width="3.9" stroke-linecap="butt"/>
<line x1="700.57" y1="872.5" x2="709.57" y2="872.5" stroke="#000" stroke-width="3.9" stroke-linecap="round"/>
<path d="M696.02 899.25V879.5H714.12V899.25" fill="none" stroke="#000" stroke-width="4"/>
<line x1="498.03" y1="613.9" x2="498.03" y2="901.3" stroke="#000" stroke-width="4.1" stroke-linecap="butt"/>
<line x1="495.98" y1="899.25" x2="746.82" y2="899.25" stroke="#000" stroke-width="4.1" stroke-linecap="butt"/>
<line x1="487.43" y1="899.25" x2="498.03" y2="899.25" stroke="#000" stroke-width="4.1" stroke-linecap="butt"/>
<text x="486.83" y="907.13" font-size="22.4" text-anchor="end" letter-spacing="0.0">0</text>
<line x1="487.43" y1="804.82" x2="498.03" y2="804.82" stroke="#000" stroke-width="4.1" stroke-linecap="butt"/>
<text x="486.83" y="812.7" font-size="22.4" text-anchor="end" letter-spacing="0.0">1</text>
<line x1="487.43" y1="710.38" x2="498.03" y2="710.38" stroke="#000" stroke-width="4.1" stroke-linecap="butt"/>
<text x="486.83" y="718.27" font-size="22.4" text-anchor="end" letter-spacing="0.0">2</text>
<line x1="487.43" y1="615.95" x2="498.03" y2="615.95" stroke="#000" stroke-width="4.1" stroke-linecap="butt"/>
<text x="486.83" y="623.83" font-size="22.4" text-anchor="end" letter-spacing="0.0">3</text>
<line x1="527.63" y1="899.25" x2="527.63" y2="910.35" stroke="#000" stroke-width="4.2" stroke-linecap="butt"/>
<text x="529.43" y="934.35" font-size="23.6" text-anchor="middle">pre</text>
<line x1="590.46" y1="899.25" x2="590.46" y2="910.35" stroke="#000" stroke-width="4.2" stroke-linecap="butt"/>
<text x="590.46" y="934.35" font-size="22.4" text-anchor="middle" letter-spacing="0.0">15</text>
<line x1="653.29" y1="899.25" x2="653.29" y2="910.35" stroke="#000" stroke-width="4.2" stroke-linecap="butt"/>
<text x="653.69" y="934.35" font-size="22.4" text-anchor="middle" letter-spacing="0.0">30</text>
<line x1="716.12" y1="899.25" x2="716.12" y2="910.35" stroke="#000" stroke-width="4.2" stroke-linecap="butt"/>
<text x="716.92" y="934.35" font-size="22.4" text-anchor="middle" letter-spacing="0.0">60</text>
<circle cx="601.5" cy="758" r="4.55" fill="#b3b3b5"/>
<circle cx="597.5" cy="889.5" r="4.55" fill="#b3b3b5"/>
<circle cx="606.25" cy="887.5" r="4.55" fill="#b3b3b5"/>
<circle cx="600" cy="892.5" r="4.55" fill="#b3b3b5"/>
<circle cx="603.75" cy="892.5" r="4.55" fill="#b3b3b5"/>
<circle cx="665" cy="864.5" r="4.55" fill="#b3b3b5"/>
<circle cx="660" cy="868" r="4.55" fill="#b3b3b5"/>
<circle cx="670.75" cy="867.5" r="4.55" fill="#b3b3b5"/>
<circle cx="667" cy="874.5" r="4.55" fill="#b3b3b5"/>
<circle cx="662" cy="881.25" r="4.55" fill="#b3b3b5"/>
<circle cx="727.5" cy="778.25" r="4.55" fill="#b3b3b5"/>
<circle cx="733" cy="873" r="4.55" fill="#b3b3b5"/>
<circle cx="720.5" cy="877.5" r="4.55" fill="#b3b3b5"/>
<circle cx="725" cy="885.75" r="4.55" fill="#b3b3b5"/>
<circle cx="730.5" cy="885.75" r="4.55" fill="#b3b3b5"/>
<circle cx="578.75" cy="850.5" r="4.55" fill="#000"/>
<circle cx="574.5" cy="860.75" r="4.55" fill="#000"/>
<circle cx="583.75" cy="867.5" r="4.55" fill="#000"/>
<circle cx="578.75" cy="883.25" r="4.55" fill="#000"/>
<circle cx="642" cy="688" r="4.55" fill="#000"/>
<circle cx="642" cy="839.25" r="4.55" fill="#000"/>
<circle cx="637.5" cy="868.25" r="4.55" fill="#000"/>
<circle cx="646.75" cy="865.5" r="4.55" fill="#000"/>
<circle cx="705" cy="863" r="4.55" fill="#000"/>
<circle cx="701.75" cy="877.5" r="4.55" fill="#000"/>
<circle cx="708.75" cy="880" r="4.55" fill="#000"/>
<circle cx="705" cy="886.25" r="4.55" fill="#000"/>
<text x="536.25" y="891.55" font-size="23.6" text-anchor="middle">N.D.</text>
<line x1="516.75" y1="950.75" x2="721.25" y2="950.75" stroke="#231f20" stroke-width="1.8" stroke-linecap="butt"/>
<text x="616.25" y="980.2" font-size="23.6" text-anchor="middle">min post-i.v.<tspan font-size="13.76" dy="-7.86" letter-spacing="-0.6">13</tspan><tspan dy="7.86">C</tspan><tspan font-size="13.76" dy="7.86">6</tspan><tspan dy="-7.86">-glucose</tspan></text>
<text x="437.5" y="750" font-size="23.6" text-anchor="middle" transform="rotate(-90 437.5 750)"><tspan letter-spacing="-1.1">% +4 </tspan>signal</text>
<text x="541" y="571.1" font-size="23.6"><tspan font-size="13.76" dy="-7.86" letter-spacing="-0.6">13</tspan><tspan dy="7.86">C</tspan><tspan font-size="13.76" dy="7.86">4</tspan></text>
<ellipse cx="592.81" cy="561.1" rx="10.41" ry="11.24" fill="#231f20"/>
<ellipse cx="609.97" cy="561.1" rx="10.41" ry="11.24" fill="#231f20"/>
<ellipse cx="627.12" cy="561.1" rx="10.41" ry="11.24" fill="#231f20"/>
<ellipse cx="644.28" cy="561.1" rx="10.41" ry="11.24" fill="#231f20"/>
<ellipse cx="661.43" cy="561.1" rx="10.41" ry="11.24" fill="#231f20"/>
<ellipse cx="678.59" cy="561.1" rx="10.41" ry="11.24" fill="#231f20"/>
<ellipse cx="592.81" cy="561.1" rx="6.28" ry="7.38" fill="#fff"/>
<ellipse cx="609.97" cy="561.1" rx="6.28" ry="7.38" fill="#fff"/>
<ellipse cx="627.12" cy="561.1" rx="6.28" ry="7.38" fill="#ed1c24"/>
<ellipse cx="644.28" cy="561.1" rx="6.28" ry="7.38" fill="#ed1c24"/>
<ellipse cx="661.43" cy="561.1" rx="6.28" ry="7.38" fill="#ed1c24"/>
<ellipse cx="678.59" cy="561.1" rx="6.28" ry="7.38" fill="#ed1c24"/>
<text x="623.25" y="596.3" font-size="23.6" text-anchor="middle">citrate</text>
<line x1="841.72" y1="613.9" x2="841.72" y2="901.3" stroke="#000" stroke-width="4.1" stroke-linecap="butt"/>
<line x1="839.67" y1="899.25" x2="1090.51" y2="899.25" stroke="#000" stroke-width="4.1" stroke-linecap="butt"/>
<line x1="831.12" y1="899.25" x2="841.72" y2="899.25" stroke="#000" stroke-width="4.1" stroke-linecap="butt"/>
<text x="830.52" y="907.13" font-size="22.4" text-anchor="end" letter-spacing="0.0">0.0</text>
<line x1="831.12" y1="842.59" x2="841.72" y2="842.59" stroke="#000" stroke-width="4.1" stroke-linecap="butt"/>
<text x="830.52" y="850.47" font-size="22.4" text-anchor="end" letter-spacing="0.0">0.2</text>
<line x1="831.12" y1="785.93" x2="841.72" y2="785.93" stroke="#000" stroke-width="4.1" stroke-linecap="butt"/>
<text x="830.52" y="793.81" font-size="22.4" text-anchor="end" letter-spacing="0.0">0.4</text>
<line x1="831.12" y1="729.27" x2="841.72" y2="729.27" stroke="#000" stroke-width="4.1" stroke-linecap="butt"/>
<text x="830.52" y="737.15" font-size="22.4" text-anchor="end" letter-spacing="0.0">0.6</text>
<line x1="831.12" y1="672.61" x2="841.72" y2="672.61" stroke="#000" stroke-width="4.1" stroke-linecap="butt"/>
<text x="830.52" y="680.49" font-size="22.4" text-anchor="end" letter-spacing="0.0">0.8</text>
<line x1="831.12" y1="615.95" x2="841.72" y2="615.95" stroke="#000" stroke-width="4.1" stroke-linecap="butt"/>
<text x="830.52" y="623.83" font-size="22.4" text-anchor="end" letter-spacing="0.0">1.0</text>
<line x1="871.32" y1="899.25" x2="871.32" y2="910.35" stroke="#000" stroke-width="4.2" stroke-linecap="butt"/>
<text x="866.75" y="930.5" font-size="23.6" text-anchor="middle">pre</text>
<line x1="934.15" y1="899.25" x2="934.15" y2="910.35" stroke="#000" stroke-width="4.2" stroke-linecap="butt"/>
<text x="935.5" y="930.5" font-size="22.4" text-anchor="middle" letter-spacing="0.0">15</text>
<line x1="996.98" y1="899.25" x2="996.98" y2="910.35" stroke="#000" stroke-width="4.2" stroke-linecap="butt"/>
<text x="1002.5" y="930.5" font-size="22.4" text-anchor="middle" letter-spacing="0.0">30</text>
<line x1="1059.81" y1="899.25" x2="1059.81" y2="910.35" stroke="#000" stroke-width="4.2" stroke-linecap="butt"/>
<text x="1062" y="930.5" font-size="22.4" text-anchor="middle" letter-spacing="0.0">60</text>
<text x="870" y="893.15" font-size="23.6" text-anchor="middle">N.D.</text>
<text x="940" y="893.15" font-size="23.6" text-anchor="middle">N.D.</text>
<text x="1008.75" y="893.15" font-size="23.6" text-anchor="middle">N.D.</text>
<text x="1073.25" y="893.15" font-size="23.6" text-anchor="middle">N.D.</text>
<line x1="853.75" y1="950.75" x2="1078.25" y2="950.75" stroke="#231f20" stroke-width="1.8" stroke-linecap="butt"/>
<text x="965" y="979.6" font-size="23.6" text-anchor="middle">min post-i.v.<tspan font-size="13.76" dy="-7.86" letter-spacing="-0.6">13</tspan><tspan dy="7.86">C</tspan><tspan font-size="13.76" dy="7.86">6</tspan><tspan dy="-7.86">-glucose</tspan></text>
<text x="783" y="748.75" font-size="23.6" text-anchor="middle" transform="rotate(-90 783 748.75)"><tspan letter-spacing="-1.1">% +6 </tspan>signal</text>
<text x="884.95" y="574.75" font-size="23.6"><tspan font-size="13.76" dy="-7.86" letter-spacing="-0.6">13</tspan><tspan dy="7.86">C</tspan><tspan font-size="13.76" dy="7.86">6</tspan></text>
<ellipse cx="936.45" cy="564.5" rx="10.45" ry="11.28" fill="#231f20"/>
<ellipse cx="953.67" cy="564.5" rx="10.45" ry="11.28" fill="#231f20"/>
<ellipse cx="970.89" cy="564.5" rx="10.45" ry="11.28" fill="#231f20"/>
<ellipse cx="988.11" cy="564.5" rx="10.45" ry="11.28" fill="#231f20"/>
<ellipse cx="1005.33" cy="564.5" rx="10.45" ry="11.28" fill="#231f20"/>
<ellipse cx="1022.55" cy="564.5" rx="10.45" ry="11.28" fill="#231f20"/>
<ellipse cx="936.45" cy="564.5" rx="6.3" ry="7.4" fill="#ed1c24"/>
<ellipse cx="953.67" cy="564.5" rx="6.3" ry="7.4" fill="#ed1c24"/>
<ellipse cx="970.89" cy="564.5" rx="6.3" ry="7.4" fill="#ed1c24"/>
<ellipse cx="988.11" cy="564.5" rx="6.3" ry="7.4" fill="#ed1c24"/>
<ellipse cx="1005.33" cy="564.5" rx="6.3" ry="7.4" fill="#ed1c24"/>
<ellipse cx="1022.55" cy="564.5" rx="6.3" ry="7.4" fill="#ed1c24"/>
<text x="967" y="599.05" font-size="23.6" text-anchor="middle">citrate</text>
<line x1="1333.2" y1="764.25" x2="1333.2" y2="804" stroke="#b3b3b5" stroke-width="3.9" stroke-linecap="butt"/>
<line x1="1328.7" y1="764.25" x2="1337.7" y2="764.25" stroke="#b3b3b5" stroke-width="3.9" stroke-linecap="round"/>
<path d="M1324.15 895V805H1342.25V895" fill="none" stroke="#b3b3b5" stroke-width="4"/>
<line x1="1396.03" y1="822.5" x2="1396.03" y2="828.5" stroke="#b3b3b5" stroke-width="3.9" stroke-linecap="butt"/>
<line x1="1391.53" y1="822.5" x2="1400.53" y2="822.5" stroke="#b3b3b5" stroke-width="3.9" stroke-linecap="round"/>
<path d="M1386.98 895V829.5H1405.08V895" fill="none" stroke="#b3b3b5" stroke-width="4"/>
<line x1="1458.86" y1="819.25" x2="1458.86" y2="831" stroke="#b3b3b5" stroke-width="3.9" stroke-linecap="butt"/>
<line x1="1454.36" y1="819.25" x2="1463.36" y2="819.25" stroke="#b3b3b5" stroke-width="3.9" stroke-linecap="round"/>
<path d="M1449.81 895V832H1467.91V895" fill="none" stroke="#b3b3b5" stroke-width="4"/>
<line x1="1311.1" y1="786.75" x2="1311.1" y2="799" stroke="#000" stroke-width="3.9" stroke-linecap="butt"/>
<line x1="1306.6" y1="786.75" x2="1315.6" y2="786.75" stroke="#000" stroke-width="3.9" stroke-linecap="round"/>
<path d="M1302.05 895V800H1320.15V895" fill="none" stroke="#000" stroke-width="4"/>
<line x1="1373.93" y1="807.5" x2="1373.93" y2="820.25" stroke="#000" stroke-width="3.9" stroke-linecap="butt"/>
<line x1="1369.43" y1="807.5" x2="1378.43" y2="807.5" stroke="#000" stroke-width="3.9" stroke-linecap="round"/>
<path d="M1364.88 895V821.25H1382.98V895" fill="none" stroke="#000" stroke-width="4"/>
<line x1="1436.76" y1="842.5" x2="1436.76" y2="851.75" stroke="#000" stroke-width="3.9" stroke-linecap="butt"/>
<line x1="1432.26" y1="842.5" x2="1441.26" y2="842.5" stroke="#000" stroke-width="3.9" stroke-linecap="round"/>
<path d="M1427.71 895V852.75H1445.81V895" fill="none" stroke="#000" stroke-width="4"/>
<line x1="1229.72" y1="609.65" x2="1229.72" y2="897.05" stroke="#000" stroke-width="4.1" stroke-linecap="butt"/>
<line x1="1227.67" y1="895" x2="1478.51" y2="895" stroke="#000" stroke-width="4.1" stroke-linecap="butt"/>
<line x1="1219.12" y1="895" x2="1229.72" y2="895" stroke="#000" stroke-width="4.1" stroke-linecap="butt"/>
<text x="1218.52" y="902.88" font-size="22.4" text-anchor="end" letter-spacing="0.0">0</text>
<line x1="1219.12" y1="838.34" x2="1229.72" y2="838.34" stroke="#000" stroke-width="4.1" stroke-linecap="butt"/>
<text x="1218.52" y="846.22" font-size="22.4" text-anchor="end" letter-spacing="0.0">2</text>
<line x1="1219.12" y1="781.68" x2="1229.72" y2="781.68" stroke="#000" stroke-width="4.1" stroke-linecap="butt"/>
<text x="1218.52" y="789.56" font-size="22.4" text-anchor="end" letter-spacing="0.0">4</text>
<line x1="1219.12" y1="725.02" x2="1229.72" y2="725.02" stroke="#000" stroke-width="4.1" stroke-linecap="butt"/>
<text x="1218.52" y="732.9" font-size="22.4" text-anchor="end" letter-spacing="0.0">6</text>
<line x1="1219.12" y1="668.36" x2="1229.72" y2="668.36" stroke="#000" stroke-width="4.1" stroke-linecap="butt"/>
<text x="1218.52" y="676.24" font-size="22.4" text-anchor="end" letter-spacing="0.0">8</text>
<line x1="1219.12" y1="611.7" x2="1229.72" y2="611.7" stroke="#000" stroke-width="4.1" stroke-linecap="butt"/>
<text x="1218.52" y="619.58" font-size="22.4" text-anchor="end" letter-spacing="0.0">10</text>
<line x1="1259.32" y1="895" x2="1259.32" y2="906.1" stroke="#000" stroke-width="4.2" stroke-linecap="butt"/>
<text x="1257.5" y="930.5" font-size="23.6" text-anchor="middle">pre</text>
<line x1="1322.15" y1="895" x2="1322.15" y2="906.1" stroke="#000" stroke-width="4.2" stroke-linecap="butt"/>
<text x="1322" y="930.5" font-size="22.4" text-anchor="middle" letter-spacing="0.0">15</text>
<line x1="1384.98" y1="895" x2="1384.98" y2="906.1" stroke="#000" stroke-width="4.2" stroke-linecap="butt"/>
<text x="1385" y="930.5" font-size="22.4" text-anchor="middle" letter-spacing="0.0">30</text>
<line x1="1447.81" y1="895" x2="1447.81" y2="906.1" stroke="#000" stroke-width="4.2" stroke-linecap="butt"/>
<text x="1445" y="930.5" font-size="22.4" text-anchor="middle" letter-spacing="0.0">60</text>
<circle cx="1333.25" cy="649.25" r="4.55" fill="#b3b3b5"/>
<circle cx="1327.5" cy="835.5" r="4.55" fill="#b3b3b5"/>
<circle cx="1342.5" cy="836.25" r="4.55" fill="#b3b3b5"/>
<circle cx="1337.5" cy="844.5" r="4.55" fill="#b3b3b5"/>
<circle cx="1328.75" cy="849.25" r="4.55" fill="#b3b3b5"/>
<circle cx="1391.25" cy="818" r="4.55" fill="#b3b3b5"/>
<circle cx="1401.25" cy="818" r="4.55" fill="#b3b3b5"/>
<circle cx="1396.25" cy="826.25" r="4.55" fill="#b3b3b5"/>
<circle cx="1393.25" cy="832.5" r="4.55" fill="#b3b3b5"/>
<circle cx="1396.25" cy="840" r="4.55" fill="#b3b3b5"/>
<circle cx="1459.25" cy="793.75" r="4.55" fill="#b3b3b5"/>
<circle cx="1455" cy="837.5" r="4.55" fill="#b3b3b5"/>
<circle cx="1464.25" cy="840.5" r="4.55" fill="#b3b3b5"/>
<circle cx="1459.25" cy="857.5" r="4.55" fill="#b3b3b5"/>
<circle cx="1459.25" cy="822.5" r="4.55" fill="#b3b3b5"/>
<circle cx="1311.25" cy="766.75" r="4.55" fill="#000"/>
<circle cx="1307.5" cy="803.75" r="4.55" fill="#000"/>
<circle cx="1315" cy="806.25" r="4.55" fill="#000"/>
<circle cx="1311.25" cy="815.5" r="4.55" fill="#000"/>
<circle cx="1374.5" cy="774.25" r="4.55" fill="#000"/>
<circle cx="1370" cy="830" r="4.55" fill="#000"/>
<circle cx="1378.75" cy="832" r="4.55" fill="#000"/>
<circle cx="1374.5" cy="836.75" r="4.55" fill="#000"/>
<circle cx="1374.5" cy="822.5" r="4.55" fill="#000"/>
<circle cx="1437.5" cy="822.5" r="4.55" fill="#000"/>
<circle cx="1432.5" cy="847.5" r="4.55" fill="#000"/>
<circle cx="1442.5" cy="851.25" r="4.55" fill="#000"/>
<circle cx="1432.5" cy="866.25" r="4.55" fill="#000"/>
<circle cx="1442.5" cy="865.75" r="4.55" fill="#000"/>
<text x="1263" y="886.15" font-size="23.6" text-anchor="middle">N.D.</text>
<line x1="1245.75" y1="946.75" x2="1451.25" y2="946.75" stroke="#231f20" stroke-width="1.8" stroke-linecap="butt"/>
<text x="1345.5" y="975.85" font-size="23.6" text-anchor="middle">min post-i.v.<tspan font-size="13.76" dy="-7.86" letter-spacing="-0.6">13</tspan><tspan dy="7.86">C</tspan><tspan font-size="13.76" dy="7.86">6</tspan><tspan dy="-7.86">-glucose</tspan></text>
<text x="1187.5" y="738.75" font-size="23.6" text-anchor="middle" transform="rotate(-90 1187.5 738.75)"><tspan letter-spacing="-1.1">% +2 </tspan>signal</text>
<text x="1238.75" y="570" font-size="23.6"><tspan font-size="13.76" dy="-7.86" letter-spacing="-0.6">13</tspan><tspan dy="7.86">C</tspan><tspan font-size="13.76" dy="7.86">2</tspan></text>
<ellipse cx="1289.09" cy="560" rx="11.09" ry="11.97" fill="#231f20"/>
<ellipse cx="1307.36" cy="560" rx="11.09" ry="11.97" fill="#231f20"/>
<ellipse cx="1325.64" cy="560" rx="11.09" ry="11.97" fill="#231f20"/>
<ellipse cx="1343.91" cy="560" rx="11.09" ry="11.97" fill="#231f20"/>
<ellipse cx="1289.09" cy="560" rx="6.69" ry="7.86" fill="#fff"/>
<ellipse cx="1307.36" cy="560" rx="6.69" ry="7.86" fill="#fff"/>
<ellipse cx="1325.64" cy="560" rx="6.69" ry="7.86" fill="#ed1c24"/>
<ellipse cx="1343.91" cy="560" rx="6.69" ry="7.86" fill="#ed1c24"/>
<text x="1305" y="597.35" font-size="23.6" text-anchor="middle">succinate</text>
<rect x="1398.25" y="546.75" width="21.5" height="20" fill="#000"/>
<rect x="1398.25" y="581.05" width="21.5" height="20" fill="#b4b3bb"/>
<text x="1431.25" y="566.65" font-size="23.6">29°C</text>
<text x="1433.75" y="600.95" font-size="23.6">4°C</text>
<line x1="1702.76" y1="798.75" x2="1702.76" y2="841.5" stroke="#b3b3b5" stroke-width="3.9" stroke-linecap="butt"/>
<line x1="1698.26" y1="798.75" x2="1707.26" y2="798.75" stroke="#b3b3b5" stroke-width="3.9" stroke-linecap="round"/>
<path d="M1693.71 891.75V842.5H1711.81V891.75" fill="none" stroke="#b3b3b5" stroke-width="4"/>
<line x1="1765.59" y1="865.75" x2="1765.59" y2="870.5" stroke="#b3b3b5" stroke-width="3.9" stroke-linecap="butt"/>
<line x1="1761.09" y1="865.75" x2="1770.09" y2="865.75" stroke="#b3b3b5" stroke-width="3.9" stroke-linecap="round"/>
<path d="M1756.54 891.75V871.5H1774.64V891.75" fill="none" stroke="#b3b3b5" stroke-width="4"/>
<line x1="1828.42" y1="865.5" x2="1828.42" y2="871" stroke="#b3b3b5" stroke-width="3.9" stroke-linecap="butt"/>
<line x1="1823.92" y1="865.5" x2="1832.92" y2="865.5" stroke="#b3b3b5" stroke-width="3.9" stroke-linecap="round"/>
<path d="M1819.37 891.75V872H1837.47V891.75" fill="none" stroke="#b3b3b5" stroke-width="4"/>
<line x1="1680.66" y1="831.75" x2="1680.66" y2="841.5" stroke="#000" stroke-width="3.9" stroke-linecap="butt"/>
<line x1="1676.16" y1="831.75" x2="1685.16" y2="831.75" stroke="#000" stroke-width="3.9" stroke-linecap="round"/>
<path d="M1671.61 891.75V842.5H1689.71V891.75" fill="none" stroke="#000" stroke-width="4"/>
<line x1="1743.49" y1="832.5" x2="1743.49" y2="844.75" stroke="#000" stroke-width="3.9" stroke-linecap="butt"/>
<line x1="1738.99" y1="832.5" x2="1747.99" y2="832.5" stroke="#000" stroke-width="3.9" stroke-linecap="round"/>
<path d="M1734.44 891.75V845.75H1752.54V891.75" fill="none" stroke="#000" stroke-width="4"/>
<line x1="1806.32" y1="867.5" x2="1806.32" y2="875.5" stroke="#000" stroke-width="3.9" stroke-linecap="butt"/>
<line x1="1801.82" y1="867.5" x2="1810.82" y2="867.5" stroke="#000" stroke-width="3.9" stroke-linecap="round"/>
<path d="M1797.27 891.75V876.5H1815.37V891.75" fill="none" stroke="#000" stroke-width="4"/>
<line x1="1599.28" y1="607.1" x2="1599.28" y2="893.8" stroke="#000" stroke-width="4.1" stroke-linecap="butt"/>
<line x1="1597.23" y1="891.75" x2="1848.07" y2="891.75" stroke="#000" stroke-width="4.1" stroke-linecap="butt"/>
<line x1="1588.68" y1="891.75" x2="1599.28" y2="891.75" stroke="#000" stroke-width="4.1" stroke-linecap="butt"/>
<text x="1588.08" y="899.63" font-size="22.4" text-anchor="end" letter-spacing="0.0">0.0</text>
<line x1="1588.68" y1="835.23" x2="1599.28" y2="835.23" stroke="#000" stroke-width="4.1" stroke-linecap="butt"/>
<text x="1588.08" y="843.11" font-size="22.4" text-anchor="end" letter-spacing="0.0">0.2</text>
<line x1="1588.68" y1="778.71" x2="1599.28" y2="778.71" stroke="#000" stroke-width="4.1" stroke-linecap="butt"/>
<text x="1588.08" y="786.59" font-size="22.4" text-anchor="end" letter-spacing="0.0">0.4</text>
<line x1="1588.68" y1="722.19" x2="1599.28" y2="722.19" stroke="#000" stroke-width="4.1" stroke-linecap="butt"/>
<text x="1588.08" y="730.07" font-size="22.4" text-anchor="end" letter-spacing="0.0">0.6</text>
<line x1="1588.68" y1="665.67" x2="1599.28" y2="665.67" stroke="#000" stroke-width="4.1" stroke-linecap="butt"/>
<text x="1588.08" y="673.55" font-size="22.4" text-anchor="end" letter-spacing="0.0">0.8</text>
<line x1="1588.68" y1="609.15" x2="1599.28" y2="609.15" stroke="#000" stroke-width="4.1" stroke-linecap="butt"/>
<text x="1588.08" y="617.03" font-size="22.4" text-anchor="end" letter-spacing="0.0">1.0</text>
<line x1="1628.88" y1="891.75" x2="1628.88" y2="902.85" stroke="#000" stroke-width="4.2" stroke-linecap="butt"/>
<text x="1631.75" y="930.5" font-size="23.6" text-anchor="middle">pre</text>
<line x1="1691.71" y1="891.75" x2="1691.71" y2="902.85" stroke="#000" stroke-width="4.2" stroke-linecap="butt"/>
<text x="1693.75" y="930.5" font-size="22.4" text-anchor="middle" letter-spacing="0.0">15</text>
<line x1="1754.54" y1="891.75" x2="1754.54" y2="902.85" stroke="#000" stroke-width="4.2" stroke-linecap="butt"/>
<text x="1756.25" y="930.5" font-size="22.4" text-anchor="middle" letter-spacing="0.0">30</text>
<line x1="1817.37" y1="891.75" x2="1817.37" y2="902.85" stroke="#000" stroke-width="4.2" stroke-linecap="butt"/>
<text x="1815.5" y="930.5" font-size="22.4" text-anchor="middle" letter-spacing="0.0">60</text>
<circle cx="1703" cy="673.75" r="4.55" fill="#b3b3b5"/>
<circle cx="1699.5" cy="881.25" r="4.55" fill="#b3b3b5"/>
<circle cx="1707.5" cy="881.25" r="4.55" fill="#b3b3b5"/>
<circle cx="1701.25" cy="885" r="4.55" fill="#b3b3b5"/>
<circle cx="1706.25" cy="883.75" r="4.55" fill="#b3b3b5"/>
<circle cx="1763" cy="862" r="4.55" fill="#b3b3b5"/>
<circle cx="1769.25" cy="866.25" r="4.55" fill="#b3b3b5"/>
<circle cx="1765.5" cy="873.75" r="4.55" fill="#b3b3b5"/>
<circle cx="1763.75" cy="868.75" r="4.55" fill="#b3b3b5"/>
<circle cx="1826.25" cy="862.5" r="4.55" fill="#b3b3b5"/>
<circle cx="1832.5" cy="862.5" r="4.55" fill="#b3b3b5"/>
<circle cx="1833" cy="873" r="4.55" fill="#b3b3b5"/>
<circle cx="1824.5" cy="882.5" r="4.55" fill="#b3b3b5"/>
<circle cx="1826.25" cy="876.25" r="4.55" fill="#b3b3b5"/>
<circle cx="1675.5" cy="830" r="4.55" fill="#000"/>
<circle cx="1685.5" cy="826.25" r="4.55" fill="#000"/>
<circle cx="1680.5" cy="845" r="4.55" fill="#000"/>
<circle cx="1680.5" cy="864.25" r="4.55" fill="#000"/>
<circle cx="1743.75" cy="799.25" r="4.55" fill="#000"/>
<circle cx="1737" cy="855" r="4.55" fill="#000"/>
<circle cx="1748.75" cy="851.25" r="4.55" fill="#000"/>
<circle cx="1742.5" cy="858.75" r="4.55" fill="#000"/>
<circle cx="1746.25" cy="855" r="4.55" fill="#000"/>
<circle cx="1806.75" cy="850" r="4.55" fill="#000"/>
<circle cx="1805" cy="875" r="4.55" fill="#000"/>
<circle cx="1808.25" cy="881.25" r="4.55" fill="#000"/>
<circle cx="1810" cy="888.25" r="4.55" fill="#000"/>
<circle cx="1806.75" cy="887.5" r="4.55" fill="#000"/>
<text x="1638" y="881.4" font-size="23.6" text-anchor="middle">N.D.</text>
<line x1="1621.75" y1="946.75" x2="1826.75" y2="946.75" stroke="#231f20" stroke-width="1.8" stroke-linecap="butt"/>
<text x="1728.75" y="975.85" font-size="23.6" text-anchor="middle">min post-i.v.<tspan font-size="13.76" dy="-7.86" letter-spacing="-0.6">13</tspan><tspan dy="7.86">C</tspan><tspan font-size="13.76" dy="7.86">6</tspan><tspan dy="-7.86">-glucose</tspan></text>
<text x="1540.5" y="741.25" font-size="23.6" text-anchor="middle" transform="rotate(-90 1540.5 741.25)"><tspan letter-spacing="-1.1">% +4 </tspan>signal</text>
<text x="1655.25" y="569.6" font-size="23.6"><tspan font-size="13.76" dy="-7.86" letter-spacing="-0.6">13</tspan><tspan dy="7.86">C</tspan><tspan font-size="13.76" dy="7.86">4</tspan></text>
<ellipse cx="1706.95" cy="560" rx="10.95" ry="11.81" fill="#231f20"/>
<ellipse cx="1724.98" cy="560" rx="10.95" ry="11.81" fill="#231f20"/>
<ellipse cx="1743.02" cy="560" rx="10.95" ry="11.81" fill="#231f20"/>
<ellipse cx="1761.05" cy="560" rx="10.95" ry="11.81" fill="#231f20"/>
<ellipse cx="1706.95" cy="560" rx="6.6" ry="7.76" fill="#ed1c24"/>
<ellipse cx="1724.98" cy="560" rx="6.6" ry="7.76" fill="#ed1c24"/>
<ellipse cx="1743.02" cy="560" rx="6.6" ry="7.76" fill="#ed1c24"/>
<ellipse cx="1761.05" cy="560" rx="6.6" ry="7.76" fill="#ed1c24"/>
<text x="1723.75" y="597.35" font-size="23.6" text-anchor="middle">succinate</text>
<line x1="216.95" y1="1295.75" x2="216.95" y2="1332.25" stroke="#b3b3b5" stroke-width="3.9" stroke-linecap="butt"/>
<line x1="212.45" y1="1295.75" x2="221.45" y2="1295.75" stroke="#b3b3b5" stroke-width="3.9" stroke-linecap="round"/>
<path d="M207.9 1408.25V1333.25H226V1408.25" fill="none" stroke="#b3b3b5" stroke-width="4"/>
<line x1="279.78" y1="1336.75" x2="279.78" y2="1344.25" stroke="#b3b3b5" stroke-width="3.9" stroke-linecap="butt"/>
<line x1="275.28" y1="1336.75" x2="284.28" y2="1336.75" stroke="#b3b3b5" stroke-width="3.9" stroke-linecap="round"/>
<path d="M270.73 1408.25V1345.25H288.83V1408.25" fill="none" stroke="#b3b3b5" stroke-width="4"/>
<line x1="342.61" y1="1340.5" x2="342.61" y2="1350.25" stroke="#b3b3b5" stroke-width="3.9" stroke-linecap="butt"/>
<line x1="338.11" y1="1340.5" x2="347.11" y2="1340.5" stroke="#b3b3b5" stroke-width="3.9" stroke-linecap="round"/>
<path d="M333.56 1408.25V1351.25H351.66V1408.25" fill="none" stroke="#b3b3b5" stroke-width="4"/>
<line x1="194.85" y1="1320.75" x2="194.85" y2="1331.5" stroke="#000" stroke-width="3.9" stroke-linecap="butt"/>
<line x1="190.35" y1="1320.75" x2="199.35" y2="1320.75" stroke="#000" stroke-width="3.9" stroke-linecap="round"/>
<path d="M185.8 1408.25V1332.5H203.9V1408.25" fill="none" stroke="#000" stroke-width="4"/>
<line x1="257.68" y1="1326.75" x2="257.68" y2="1335.25" stroke="#000" stroke-width="3.9" stroke-linecap="butt"/>
<line x1="253.18" y1="1326.75" x2="262.18" y2="1326.75" stroke="#000" stroke-width="3.9" stroke-linecap="round"/>
<path d="M248.63 1408.25V1336.25H266.73V1408.25" fill="none" stroke="#000" stroke-width="4"/>
<line x1="320.51" y1="1360" x2="320.51" y2="1368" stroke="#000" stroke-width="3.9" stroke-linecap="butt"/>
<line x1="316.01" y1="1360" x2="325.01" y2="1360" stroke="#000" stroke-width="3.9" stroke-linecap="round"/>
<path d="M311.46 1408.25V1369H329.56V1408.25" fill="none" stroke="#000" stroke-width="4"/>
<line x1="113.47" y1="1122.9" x2="113.47" y2="1410.3" stroke="#000" stroke-width="4.1" stroke-linecap="butt"/>
<line x1="111.42" y1="1408.25" x2="362.26" y2="1408.25" stroke="#000" stroke-width="4.1" stroke-linecap="butt"/>
<line x1="102.87" y1="1408.25" x2="113.47" y2="1408.25" stroke="#000" stroke-width="4.1" stroke-linecap="butt"/>
<text x="102.27" y="1416.13" font-size="22.4" text-anchor="end" letter-spacing="0.0">0</text>
<line x1="102.87" y1="1337.42" x2="113.47" y2="1337.42" stroke="#000" stroke-width="4.1" stroke-linecap="butt"/>
<text x="102.27" y="1345.31" font-size="22.4" text-anchor="end" letter-spacing="0.0">2</text>
<line x1="102.87" y1="1266.6" x2="113.47" y2="1266.6" stroke="#000" stroke-width="4.1" stroke-linecap="butt"/>
<text x="102.27" y="1274.48" font-size="22.4" text-anchor="end" letter-spacing="0.0">4</text>
<line x1="102.87" y1="1195.78" x2="113.47" y2="1195.78" stroke="#000" stroke-width="4.1" stroke-linecap="butt"/>
<text x="102.27" y="1203.66" font-size="22.4" text-anchor="end" letter-spacing="0.0">6</text>
<line x1="102.87" y1="1124.95" x2="113.47" y2="1124.95" stroke="#000" stroke-width="4.1" stroke-linecap="butt"/>
<text x="102.27" y="1132.83" font-size="22.4" text-anchor="end" letter-spacing="0.0">8</text>
<line x1="143.07" y1="1408.25" x2="143.07" y2="1419.35" stroke="#000" stroke-width="4.2" stroke-linecap="butt"/>
<text x="136.25" y="1443.1" font-size="23.6" text-anchor="middle">pre</text>
<line x1="205.9" y1="1408.25" x2="205.9" y2="1419.35" stroke="#000" stroke-width="4.2" stroke-linecap="butt"/>
<text x="205.5" y="1443.1" font-size="22.4" text-anchor="middle" letter-spacing="0.0">15</text>
<line x1="268.73" y1="1408.25" x2="268.73" y2="1419.35" stroke="#000" stroke-width="4.2" stroke-linecap="butt"/>
<text x="272" y="1443.1" font-size="22.4" text-anchor="middle" letter-spacing="0.0">30</text>
<line x1="331.56" y1="1408.25" x2="331.56" y2="1419.35" stroke="#000" stroke-width="4.2" stroke-linecap="butt"/>
<text x="343" y="1443.1" font-size="22.4" text-anchor="middle" letter-spacing="0.0">60</text>
<circle cx="217" cy="1190" r="4.55" fill="#b3b3b5"/>
<circle cx="217.5" cy="1355" r="4.55" fill="#b3b3b5"/>
<circle cx="212.5" cy="1364.5" r="4.55" fill="#b3b3b5"/>
<circle cx="221.25" cy="1373" r="4.55" fill="#b3b3b5"/>
<circle cx="217" cy="1375.75" r="4.55" fill="#b3b3b5"/>
<circle cx="280" cy="1323.25" r="4.55" fill="#b3b3b5"/>
<circle cx="275" cy="1341.25" r="4.55" fill="#b3b3b5"/>
<circle cx="290" cy="1342.5" r="4.55" fill="#b3b3b5"/>
<circle cx="285" cy="1349.25" r="4.55" fill="#b3b3b5"/>
<circle cx="275" cy="1360" r="4.55" fill="#b3b3b5"/>
<circle cx="343.25" cy="1318.75" r="4.55" fill="#b3b3b5"/>
<circle cx="337.5" cy="1352.5" r="4.55" fill="#b3b3b5"/>
<circle cx="348.25" cy="1353" r="4.55" fill="#b3b3b5"/>
<circle cx="348.25" cy="1360" r="4.55" fill="#b3b3b5"/>
<circle cx="343.25" cy="1373.75" r="4.55" fill="#b3b3b5"/>
<circle cx="195" cy="1305.75" r="4.55" fill="#000"/>
<circle cx="195" cy="1325" r="4.55" fill="#000"/>
<circle cx="200" cy="1341.25" r="4.55" fill="#000"/>
<circle cx="190.5" cy="1348" r="4.55" fill="#000"/>
<circle cx="258" cy="1305" r="4.55" fill="#000"/>
<circle cx="260" cy="1337.5" r="4.55" fill="#000"/>
<circle cx="253.75" cy="1341.25" r="4.55" fill="#000"/>
<circle cx="260" cy="1343.75" r="4.55" fill="#000"/>
<circle cx="255.5" cy="1348.25" r="4.55" fill="#000"/>
<circle cx="321.25" cy="1342.5" r="4.55" fill="#000"/>
<circle cx="316.25" cy="1362.5" r="4.55" fill="#000"/>
<circle cx="325" cy="1368.75" r="4.55" fill="#000"/>
<circle cx="325.5" cy="1380" r="4.55" fill="#000"/>
<circle cx="316.25" cy="1385" r="4.55" fill="#000"/>
<text x="146.25" y="1398.65" font-size="23.6" text-anchor="middle">N.D.</text>
<line x1="123" y1="1455.65" x2="348.25" y2="1455.65" stroke="#231f20" stroke-width="1.8" stroke-linecap="butt"/>
<text x="234.75" y="1484.85" font-size="23.6" text-anchor="middle">min post-i.v.<tspan font-size="13.76" dy="-7.86" letter-spacing="-0.6">13</tspan><tspan dy="7.86">C</tspan><tspan font-size="13.76" dy="7.86">6</tspan><tspan dy="-7.86">-glucose</tspan></text>
<text x="71.25" y="1265" font-size="23.6" text-anchor="middle" transform="rotate(-90 71.25 1265)"><tspan letter-spacing="-1.1">% +2 </tspan>signal</text>
<text x="99.35" y="1076.85" font-size="23.6"><tspan font-size="13.76" dy="-7.86" letter-spacing="-0.6">13</tspan><tspan dy="7.86">C</tspan><tspan font-size="13.76" dy="7.86">2</tspan></text>
<ellipse cx="149.03" cy="1067.7" rx="10.43" ry="11.25" fill="#231f20"/>
<ellipse cx="166.21" cy="1067.7" rx="10.43" ry="11.25" fill="#231f20"/>
<ellipse cx="183.39" cy="1067.7" rx="10.43" ry="11.25" fill="#231f20"/>
<ellipse cx="200.57" cy="1067.7" rx="10.43" ry="11.25" fill="#231f20"/>
<ellipse cx="149.03" cy="1067.7" rx="6.29" ry="7.39" fill="#fff"/>
<ellipse cx="166.21" cy="1067.7" rx="6.29" ry="7.39" fill="#fff"/>
<ellipse cx="183.39" cy="1067.7" rx="6.29" ry="7.39" fill="#ed1c24"/>
<ellipse cx="200.57" cy="1067.7" rx="6.29" ry="7.39" fill="#ed1c24"/>
<text x="160" y="1105.5" font-size="23.6" text-anchor="middle">fumarate</text>
<rect x="254.5" y="1054.9" width="21.5" height="20" fill="#000"/>
<rect x="254.5" y="1089.2" width="21.5" height="20" fill="#b4b3bb"/>
<text x="287.5" y="1074.8" font-size="23.6">29°C</text>
<text x="290" y="1109.1" font-size="23.6">4°C</text>
<line x1="567.88" y1="1289.5" x2="567.88" y2="1339.75" stroke="#b3b3b5" stroke-width="3.9" stroke-linecap="butt"/>
<line x1="563.38" y1="1289.5" x2="572.38" y2="1289.5" stroke="#b3b3b5" stroke-width="3.9" stroke-linecap="round"/>
<path d="M558.84 1404V1340.75H576.94V1404" fill="none" stroke="#b3b3b5" stroke-width="4"/>
<line x1="630.71" y1="1356.75" x2="630.71" y2="1368.5" stroke="#b3b3b5" stroke-width="3.9" stroke-linecap="butt"/>
<line x1="626.21" y1="1356.75" x2="635.21" y2="1356.75" stroke="#b3b3b5" stroke-width="3.9" stroke-linecap="round"/>
<path d="M621.66 1404V1369.5H639.76V1404" fill="none" stroke="#b3b3b5" stroke-width="4"/>
<line x1="693.55" y1="1366.75" x2="693.55" y2="1374.25" stroke="#b3b3b5" stroke-width="3.9" stroke-linecap="butt"/>
<line x1="689.05" y1="1366.75" x2="698.05" y2="1366.75" stroke="#b3b3b5" stroke-width="3.9" stroke-linecap="round"/>
<path d="M684.5 1404V1375.25H702.6V1404" fill="none" stroke="#b3b3b5" stroke-width="4"/>
<line x1="545.79" y1="1316.75" x2="545.79" y2="1330.25" stroke="#000" stroke-width="3.9" stroke-linecap="butt"/>
<line x1="541.29" y1="1316.75" x2="550.29" y2="1316.75" stroke="#000" stroke-width="3.9" stroke-linecap="round"/>
<path d="M536.74 1404V1331.25H554.84V1404" fill="none" stroke="#000" stroke-width="4"/>
<line x1="608.62" y1="1318.75" x2="608.62" y2="1333.5" stroke="#000" stroke-width="3.9" stroke-linecap="butt"/>
<line x1="604.12" y1="1318.75" x2="613.12" y2="1318.75" stroke="#000" stroke-width="3.9" stroke-linecap="round"/>
<path d="M599.56 1404V1334.5H617.66V1404" fill="none" stroke="#000" stroke-width="4"/>
<line x1="671.44" y1="1362.5" x2="671.44" y2="1373" stroke="#000" stroke-width="3.9" stroke-linecap="butt"/>
<line x1="666.94" y1="1362.5" x2="675.94" y2="1362.5" stroke="#000" stroke-width="3.9" stroke-linecap="round"/>
<path d="M662.39 1404V1374H680.5V1404" fill="none" stroke="#000" stroke-width="4"/>
<line x1="464.4" y1="1118.65" x2="464.4" y2="1406.05" stroke="#000" stroke-width="4.1" stroke-linecap="butt"/>
<line x1="462.35" y1="1404" x2="713.2" y2="1404" stroke="#000" stroke-width="4.1" stroke-linecap="butt"/>
<line x1="453.8" y1="1404" x2="464.4" y2="1404" stroke="#000" stroke-width="4.1" stroke-linecap="butt"/>
<text x="453.2" y="1411.88" font-size="22.4" text-anchor="end" letter-spacing="0.0">0.0</text>
<line x1="453.8" y1="1363.53" x2="464.4" y2="1363.53" stroke="#000" stroke-width="4.1" stroke-linecap="butt"/>
<text x="453.2" y="1371.41" font-size="22.4" text-anchor="end" letter-spacing="0.0">0.2</text>
<line x1="453.8" y1="1323.06" x2="464.4" y2="1323.06" stroke="#000" stroke-width="4.1" stroke-linecap="butt"/>
<text x="453.2" y="1330.94" font-size="22.4" text-anchor="end" letter-spacing="0.0">0.4</text>
<line x1="453.8" y1="1282.59" x2="464.4" y2="1282.59" stroke="#000" stroke-width="4.1" stroke-linecap="butt"/>
<text x="453.2" y="1290.47" font-size="22.4" text-anchor="end" letter-spacing="0.0">0.6</text>
<line x1="453.8" y1="1242.11" x2="464.4" y2="1242.11" stroke="#000" stroke-width="4.1" stroke-linecap="butt"/>
<text x="453.2" y="1250" font-size="22.4" text-anchor="end" letter-spacing="0.0">0.8</text>
<line x1="453.8" y1="1201.64" x2="464.4" y2="1201.64" stroke="#000" stroke-width="4.1" stroke-linecap="butt"/>
<text x="453.2" y="1209.53" font-size="22.4" text-anchor="end" letter-spacing="0.0">1.0</text>
<line x1="453.8" y1="1161.17" x2="464.4" y2="1161.17" stroke="#000" stroke-width="4.1" stroke-linecap="butt"/>
<text x="453.2" y="1169.06" font-size="22.4" text-anchor="end" letter-spacing="0.0">1.2</text>
<line x1="453.8" y1="1120.7" x2="464.4" y2="1120.7" stroke="#000" stroke-width="4.1" stroke-linecap="butt"/>
<text x="453.2" y="1128.58" font-size="22.4" text-anchor="end" letter-spacing="0.0">1.4</text>
<line x1="494" y1="1404" x2="494" y2="1415.1" stroke="#000" stroke-width="4.2" stroke-linecap="butt"/>
<text x="495" y="1442.5" font-size="23.6" text-anchor="middle">pre</text>
<line x1="556.84" y1="1404" x2="556.84" y2="1415.1" stroke="#000" stroke-width="4.2" stroke-linecap="butt"/>
<text x="555.5" y="1442.5" font-size="22.4" text-anchor="middle" letter-spacing="0.0">15</text>
<line x1="619.66" y1="1404" x2="619.66" y2="1415.1" stroke="#000" stroke-width="4.2" stroke-linecap="butt"/>
<text x="618.75" y="1442.5" font-size="22.4" text-anchor="middle" letter-spacing="0.0">30</text>
<line x1="682.5" y1="1404" x2="682.5" y2="1415.1" stroke="#000" stroke-width="4.2" stroke-linecap="butt"/>
<text x="682.5" y="1442.5" font-size="22.4" text-anchor="middle" letter-spacing="0.0">60</text>
<circle cx="568" cy="1143" r="4.55" fill="#b3b3b5"/>
<circle cx="574.25" cy="1380.75" r="4.55" fill="#b3b3b5"/>
<circle cx="562" cy="1388.75" r="4.55" fill="#b3b3b5"/>
<circle cx="566.25" cy="1390" r="4.55" fill="#b3b3b5"/>
<circle cx="570.75" cy="1389.25" r="4.55" fill="#b3b3b5"/>
<circle cx="630.75" cy="1340.5" r="4.55" fill="#b3b3b5"/>
<circle cx="640.75" cy="1365" r="4.55" fill="#b3b3b5"/>
<circle cx="627.5" cy="1366.25" r="4.55" fill="#b3b3b5"/>
<circle cx="635" cy="1369.25" r="4.55" fill="#b3b3b5"/>
<circle cx="626.25" cy="1381.25" r="4.55" fill="#b3b3b5"/>
<circle cx="696.75" cy="1360.5" r="4.55" fill="#b3b3b5"/>
<circle cx="690.5" cy="1369.25" r="4.55" fill="#b3b3b5"/>
<circle cx="698.75" cy="1381.75" r="4.55" fill="#b3b3b5"/>
<circle cx="688.75" cy="1388.25" r="4.55" fill="#b3b3b5"/>
<circle cx="693.75" cy="1375" r="4.55" fill="#b3b3b5"/>
<circle cx="545.5" cy="1303.25" r="4.55" fill="#000"/>
<circle cx="540.5" cy="1319.5" r="4.55" fill="#000"/>
<circle cx="550.5" cy="1332" r="4.55" fill="#000"/>
<circle cx="545.5" cy="1362.5" r="4.55" fill="#000"/>
<circle cx="608.75" cy="1283.25" r="4.55" fill="#000"/>
<circle cx="602.5" cy="1327.5" r="4.55" fill="#000"/>
<circle cx="613" cy="1337.5" r="4.55" fill="#000"/>
<circle cx="613.75" cy="1354.25" r="4.55" fill="#000"/>
<circle cx="603.75" cy="1361.25" r="4.55" fill="#000"/>
<circle cx="671.75" cy="1340.5" r="4.55" fill="#000"/>
<circle cx="671.75" cy="1366.25" r="4.55" fill="#000"/>
<circle cx="667.5" cy="1381.25" r="4.55" fill="#000"/>
<circle cx="676.25" cy="1386.25" r="4.55" fill="#000"/>
<circle cx="671.75" cy="1389.5" r="4.55" fill="#000"/>
<text x="497" y="1394.15" font-size="23.6" text-anchor="middle">N.D.</text>
<line x1="471.75" y1="1455" x2="696.25" y2="1455" stroke="#231f20" stroke-width="1.8" stroke-linecap="butt"/>
<text x="583.25" y="1484.85" font-size="23.6" text-anchor="middle">min post-i.v.<tspan font-size="13.76" dy="-7.86" letter-spacing="-0.6">13</tspan><tspan dy="7.86">C</tspan><tspan font-size="13.76" dy="7.86">6</tspan><tspan dy="-7.86">-glucose</tspan></text>
<text x="401.25" y="1258.75" font-size="23.6" text-anchor="middle" transform="rotate(-90 401.25 1258.75)"><tspan letter-spacing="-1.1">% +4 </tspan>signal</text>
<text x="522.75" y="1075.35" font-size="23.6"><tspan font-size="13.76" dy="-7.86" letter-spacing="-0.6">13</tspan><tspan dy="7.86">C</tspan><tspan font-size="13.76" dy="7.86">4</tspan></text>
<ellipse cx="573.37" cy="1064.5" rx="10.37" ry="11.19" fill="#231f20"/>
<ellipse cx="590.46" cy="1064.5" rx="10.37" ry="11.19" fill="#231f20"/>
<ellipse cx="607.54" cy="1064.5" rx="10.37" ry="11.19" fill="#231f20"/>
<ellipse cx="624.63" cy="1064.5" rx="10.37" ry="11.19" fill="#231f20"/>
<ellipse cx="573.37" cy="1064.5" rx="6.25" ry="7.35" fill="#ed1c24"/>
<ellipse cx="590.46" cy="1064.5" rx="6.25" ry="7.35" fill="#ed1c24"/>
<ellipse cx="607.54" cy="1064.5" rx="6.25" ry="7.35" fill="#ed1c24"/>
<ellipse cx="624.63" cy="1064.5" rx="6.25" ry="7.35" fill="#ed1c24"/>
<text x="588" y="1103" font-size="23.6" text-anchor="middle">fumarate</text>
<line x1="961.51" y1="1268.25" x2="961.51" y2="1306" stroke="#b3b3b5" stroke-width="3.9" stroke-linecap="butt"/>
<line x1="957.01" y1="1268.25" x2="966.01" y2="1268.25" stroke="#b3b3b5" stroke-width="3.9" stroke-linecap="round"/>
<path d="M952.46 1398.75V1307H970.56V1398.75" fill="none" stroke="#b3b3b5" stroke-width="4"/>
<line x1="1024.34" y1="1306.25" x2="1024.34" y2="1313" stroke="#b3b3b5" stroke-width="3.9" stroke-linecap="butt"/>
<line x1="1019.84" y1="1306.25" x2="1028.84" y2="1306.25" stroke="#b3b3b5" stroke-width="3.9" stroke-linecap="round"/>
<path d="M1015.29 1398.75V1314H1033.39V1398.75" fill="none" stroke="#b3b3b5" stroke-width="4"/>
<line x1="1087.17" y1="1312.5" x2="1087.17" y2="1323.5" stroke="#b3b3b5" stroke-width="3.9" stroke-linecap="butt"/>
<line x1="1082.67" y1="1312.5" x2="1091.67" y2="1312.5" stroke="#b3b3b5" stroke-width="3.9" stroke-linecap="round"/>
<path d="M1078.12 1398.75V1324.5H1096.22V1398.75" fill="none" stroke="#b3b3b5" stroke-width="4"/>
<line x1="939.41" y1="1289.5" x2="939.41" y2="1299.75" stroke="#000" stroke-width="3.9" stroke-linecap="butt"/>
<line x1="934.91" y1="1289.5" x2="943.91" y2="1289.5" stroke="#000" stroke-width="3.9" stroke-linecap="round"/>
<path d="M930.36 1398.75V1300.75H948.46V1398.75" fill="none" stroke="#000" stroke-width="4"/>
<line x1="1002.24" y1="1295" x2="1002.24" y2="1303.5" stroke="#000" stroke-width="3.9" stroke-linecap="butt"/>
<line x1="997.74" y1="1295" x2="1006.74" y2="1295" stroke="#000" stroke-width="3.9" stroke-linecap="round"/>
<path d="M993.19 1398.75V1304.5H1011.29V1398.75" fill="none" stroke="#000" stroke-width="4"/>
<line x1="1065.07" y1="1329.5" x2="1065.07" y2="1338.5" stroke="#000" stroke-width="3.9" stroke-linecap="butt"/>
<line x1="1060.57" y1="1329.5" x2="1069.57" y2="1329.5" stroke="#000" stroke-width="3.9" stroke-linecap="round"/>
<path d="M1056.02 1398.75V1339.5H1074.12V1398.75" fill="none" stroke="#000" stroke-width="4"/>
<line x1="858.03" y1="1113.4" x2="858.03" y2="1400.8" stroke="#000" stroke-width="4.1" stroke-linecap="butt"/>
<line x1="855.98" y1="1398.75" x2="1106.82" y2="1398.75" stroke="#000" stroke-width="4.1" stroke-linecap="butt"/>
<line x1="847.43" y1="1398.75" x2="858.03" y2="1398.75" stroke="#000" stroke-width="4.1" stroke-linecap="butt"/>
<text x="846.83" y="1406.63" font-size="22.4" text-anchor="end" letter-spacing="0.0">0</text>
<line x1="847.43" y1="1327.92" x2="858.03" y2="1327.92" stroke="#000" stroke-width="4.1" stroke-linecap="butt"/>
<text x="846.83" y="1335.81" font-size="22.4" text-anchor="end" letter-spacing="0.0">2</text>
<line x1="847.43" y1="1257.1" x2="858.03" y2="1257.1" stroke="#000" stroke-width="4.1" stroke-linecap="butt"/>
<text x="846.83" y="1264.98" font-size="22.4" text-anchor="end" letter-spacing="0.0">4</text>
<line x1="847.43" y1="1186.28" x2="858.03" y2="1186.28" stroke="#000" stroke-width="4.1" stroke-linecap="butt"/>
<text x="846.83" y="1194.16" font-size="22.4" text-anchor="end" letter-spacing="0.0">6</text>
<line x1="847.43" y1="1115.45" x2="858.03" y2="1115.45" stroke="#000" stroke-width="4.1" stroke-linecap="butt"/>
<text x="846.83" y="1123.33" font-size="22.4" text-anchor="end" letter-spacing="0.0">8</text>
<line x1="887.63" y1="1398.75" x2="887.63" y2="1409.85" stroke="#000" stroke-width="4.2" stroke-linecap="butt"/>
<text x="885.75" y="1432.5" font-size="23.6" text-anchor="middle">pre</text>
<line x1="950.46" y1="1398.75" x2="950.46" y2="1409.85" stroke="#000" stroke-width="4.2" stroke-linecap="butt"/>
<text x="955.5" y="1432.5" font-size="22.4" text-anchor="middle" letter-spacing="0.0">15</text>
<line x1="1013.29" y1="1398.75" x2="1013.29" y2="1409.85" stroke="#000" stroke-width="4.2" stroke-linecap="butt"/>
<text x="1010" y="1432.5" font-size="22.4" text-anchor="middle" letter-spacing="0.0">30</text>
<line x1="1076.12" y1="1398.75" x2="1076.12" y2="1409.85" stroke="#000" stroke-width="4.2" stroke-linecap="butt"/>
<text x="1077.5" y="1432.5" font-size="22.4" text-anchor="middle" letter-spacing="0.0">60</text>
<circle cx="961.75" cy="1159.25" r="4.55" fill="#b3b3b5"/>
<circle cx="961.75" cy="1330" r="4.55" fill="#b3b3b5"/>
<circle cx="957.5" cy="1340" r="4.55" fill="#b3b3b5"/>
<circle cx="965" cy="1346.25" r="4.55" fill="#b3b3b5"/>
<circle cx="961.25" cy="1350" r="4.55" fill="#b3b3b5"/>
<circle cx="1024.5" cy="1290.75" r="4.55" fill="#b3b3b5"/>
<circle cx="1022.5" cy="1308.75" r="4.55" fill="#b3b3b5"/>
<circle cx="1028.75" cy="1308.75" r="4.55" fill="#b3b3b5"/>
<circle cx="1030" cy="1324.25" r="4.55" fill="#b3b3b5"/>
<circle cx="1020.5" cy="1327.5" r="4.55" fill="#b3b3b5"/>
<circle cx="1087.5" cy="1290.5" r="4.55" fill="#b3b3b5"/>
<circle cx="1086.25" cy="1316.25" r="4.55" fill="#b3b3b5"/>
<circle cx="1092" cy="1332.5" r="4.55" fill="#b3b3b5"/>
<circle cx="1082.5" cy="1322.5" r="4.55" fill="#b3b3b5"/>
<circle cx="1087.5" cy="1348" r="4.55" fill="#b3b3b5"/>
<circle cx="939.25" cy="1275" r="4.55" fill="#000"/>
<circle cx="940" cy="1295" r="4.55" fill="#000"/>
<circle cx="945" cy="1311.25" r="4.55" fill="#000"/>
<circle cx="934.25" cy="1318.75" r="4.55" fill="#000"/>
<circle cx="1002.5" cy="1274.25" r="4.55" fill="#000"/>
<circle cx="997.5" cy="1308.25" r="4.55" fill="#000"/>
<circle cx="1007.5" cy="1308.75" r="4.55" fill="#000"/>
<circle cx="1002.5" cy="1312.5" r="4.55" fill="#000"/>
<circle cx="1000" cy="1305" r="4.55" fill="#000"/>
<circle cx="1065.5" cy="1311.25" r="4.55" fill="#000"/>
<circle cx="1060.75" cy="1332.5" r="4.55" fill="#000"/>
<circle cx="1070" cy="1336.25" r="4.55" fill="#000"/>
<circle cx="1070.5" cy="1353" r="4.55" fill="#000"/>
<circle cx="1060.75" cy="1356.25" r="4.55" fill="#000"/>
<text x="892" y="1390.15" font-size="23.6" text-anchor="middle">N.D.</text>
<line x1="872.5" y1="1453" x2="1097.5" y2="1453" stroke="#231f20" stroke-width="1.8" stroke-linecap="butt"/>
<text x="988.25" y="1482.35" font-size="23.6" text-anchor="middle">min post-i.v.<tspan font-size="13.76" dy="-7.86" letter-spacing="-0.6">13</tspan><tspan dy="7.86">C</tspan><tspan font-size="13.76" dy="7.86">6</tspan><tspan dy="-7.86">-glucose</tspan></text>
<text x="812.5" y="1251.25" font-size="23.6" text-anchor="middle" transform="rotate(-90 812.5 1251.25)"><tspan letter-spacing="-1.1">% +2 </tspan>signal</text>
<text x="849.55" y="1067.6" font-size="23.6"><tspan font-size="13.76" dy="-7.86" letter-spacing="-0.6">13</tspan><tspan dy="7.86">C</tspan><tspan font-size="13.76" dy="7.86">2</tspan></text>
<ellipse cx="900.03" cy="1058.3" rx="10.43" ry="11.25" fill="#231f20"/>
<ellipse cx="917.21" cy="1058.3" rx="10.43" ry="11.25" fill="#231f20"/>
<ellipse cx="934.39" cy="1058.3" rx="10.43" ry="11.25" fill="#231f20"/>
<ellipse cx="951.57" cy="1058.3" rx="10.43" ry="11.25" fill="#231f20"/>
<ellipse cx="900.03" cy="1058.3" rx="6.29" ry="7.39" fill="#fff"/>
<ellipse cx="917.21" cy="1058.3" rx="6.29" ry="7.39" fill="#fff"/>
<ellipse cx="934.39" cy="1058.3" rx="6.29" ry="7.39" fill="#ed1c24"/>
<ellipse cx="951.57" cy="1058.3" rx="6.29" ry="7.39" fill="#ed1c24"/>
<text x="911.25" y="1096.25" font-size="23.6" text-anchor="middle">malate</text>
<rect x="1000" y="1045.65" width="21.5" height="20" fill="#000"/>
<rect x="1000" y="1079.95" width="21.5" height="20" fill="#b4b3bb"/>
<text x="1033" y="1065.55" font-size="23.6">29°C</text>
<text x="1035.5" y="1099.85" font-size="23.6">4°C</text>
<line x1="1337.26" y1="1281.75" x2="1337.26" y2="1333.5" stroke="#b3b3b5" stroke-width="3.9" stroke-linecap="butt"/>
<line x1="1332.76" y1="1281.75" x2="1341.76" y2="1281.75" stroke="#b3b3b5" stroke-width="3.9" stroke-linecap="round"/>
<path d="M1328.21 1397.6V1334.5H1346.31V1397.6" fill="none" stroke="#b3b3b5" stroke-width="4"/>
<line x1="1400.09" y1="1362.5" x2="1400.09" y2="1367.75" stroke="#b3b3b5" stroke-width="3.9" stroke-linecap="butt"/>
<line x1="1395.59" y1="1362.5" x2="1404.59" y2="1362.5" stroke="#b3b3b5" stroke-width="3.9" stroke-linecap="round"/>
<path d="M1391.04 1397.6V1368.75H1409.14V1397.6" fill="none" stroke="#b3b3b5" stroke-width="4"/>
<line x1="1462.92" y1="1367.5" x2="1462.92" y2="1373.5" stroke="#b3b3b5" stroke-width="3.9" stroke-linecap="butt"/>
<line x1="1458.42" y1="1367.5" x2="1467.42" y2="1367.5" stroke="#b3b3b5" stroke-width="3.9" stroke-linecap="round"/>
<path d="M1453.87 1397.6V1374.5H1471.97V1397.6" fill="none" stroke="#b3b3b5" stroke-width="4"/>
<line x1="1315.16" y1="1322.5" x2="1315.16" y2="1336" stroke="#000" stroke-width="3.9" stroke-linecap="butt"/>
<line x1="1310.66" y1="1322.5" x2="1319.66" y2="1322.5" stroke="#000" stroke-width="3.9" stroke-linecap="round"/>
<path d="M1306.11 1397.6V1337H1324.21V1397.6" fill="none" stroke="#000" stroke-width="4"/>
<line x1="1377.99" y1="1323" x2="1377.99" y2="1336" stroke="#000" stroke-width="3.9" stroke-linecap="butt"/>
<line x1="1373.49" y1="1323" x2="1382.49" y2="1323" stroke="#000" stroke-width="3.9" stroke-linecap="round"/>
<path d="M1368.94 1397.6V1337H1387.04V1397.6" fill="none" stroke="#000" stroke-width="4"/>
<line x1="1440.82" y1="1366.25" x2="1440.82" y2="1376.5" stroke="#000" stroke-width="3.9" stroke-linecap="butt"/>
<line x1="1436.32" y1="1366.25" x2="1445.32" y2="1366.25" stroke="#000" stroke-width="3.9" stroke-linecap="round"/>
<path d="M1431.77 1397.6V1377.5H1449.87V1397.6" fill="none" stroke="#000" stroke-width="4"/>
<line x1="1233.78" y1="1112.25" x2="1233.78" y2="1399.65" stroke="#000" stroke-width="4.1" stroke-linecap="butt"/>
<line x1="1231.73" y1="1397.6" x2="1482.57" y2="1397.6" stroke="#000" stroke-width="4.1" stroke-linecap="butt"/>
<line x1="1223.18" y1="1397.6" x2="1233.78" y2="1397.6" stroke="#000" stroke-width="4.1" stroke-linecap="butt"/>
<text x="1222.58" y="1405.48" font-size="22.4" text-anchor="end" letter-spacing="0.0">0.0</text>
<line x1="1223.18" y1="1303.17" x2="1233.78" y2="1303.17" stroke="#000" stroke-width="4.1" stroke-linecap="butt"/>
<text x="1222.58" y="1311.05" font-size="22.4" text-anchor="end" letter-spacing="0.0">0.5</text>
<line x1="1223.18" y1="1208.73" x2="1233.78" y2="1208.73" stroke="#000" stroke-width="4.1" stroke-linecap="butt"/>
<text x="1222.58" y="1216.62" font-size="22.4" text-anchor="end" letter-spacing="0.0">1.0</text>
<line x1="1223.18" y1="1114.3" x2="1233.78" y2="1114.3" stroke="#000" stroke-width="4.1" stroke-linecap="butt"/>
<text x="1222.58" y="1122.18" font-size="22.4" text-anchor="end" letter-spacing="0.0">1.5</text>
<line x1="1263.38" y1="1397.6" x2="1263.38" y2="1408.7" stroke="#000" stroke-width="4.2" stroke-linecap="butt"/>
<text x="1258.75" y="1433.1" font-size="23.6" text-anchor="middle">pre</text>
<line x1="1326.21" y1="1397.6" x2="1326.21" y2="1408.7" stroke="#000" stroke-width="4.2" stroke-linecap="butt"/>
<text x="1328.25" y="1433.1" font-size="22.4" text-anchor="middle" letter-spacing="0.0">15</text>
<line x1="1389.04" y1="1397.6" x2="1389.04" y2="1408.7" stroke="#000" stroke-width="4.2" stroke-linecap="butt"/>
<text x="1391.25" y="1433.1" font-size="22.4" text-anchor="middle" letter-spacing="0.0">30</text>
<line x1="1451.87" y1="1397.6" x2="1451.87" y2="1408.7" stroke="#000" stroke-width="4.2" stroke-linecap="butt"/>
<text x="1454.5" y="1433.1" font-size="22.4" text-anchor="middle" letter-spacing="0.0">60</text>
<circle cx="1337.5" cy="1130.5" r="4.55" fill="#b3b3b5"/>
<circle cx="1343.25" cy="1380" r="4.55" fill="#b3b3b5"/>
<circle cx="1332" cy="1381.25" r="4.55" fill="#b3b3b5"/>
<circle cx="1340" cy="1384.25" r="4.55" fill="#b3b3b5"/>
<circle cx="1335" cy="1385.75" r="4.55" fill="#b3b3b5"/>
<circle cx="1400.75" cy="1358.75" r="4.55" fill="#b3b3b5"/>
<circle cx="1407.5" cy="1361.75" r="4.55" fill="#b3b3b5"/>
<circle cx="1395" cy="1365.5" r="4.55" fill="#b3b3b5"/>
<circle cx="1403.75" cy="1366.75" r="4.55" fill="#b3b3b5"/>
<circle cx="1397.5" cy="1373.75" r="4.55" fill="#b3b3b5"/>
<circle cx="1458.75" cy="1360.5" r="4.55" fill="#b3b3b5"/>
<circle cx="1468.75" cy="1367.5" r="4.55" fill="#b3b3b5"/>
<circle cx="1460" cy="1372.5" r="4.55" fill="#b3b3b5"/>
<circle cx="1467.5" cy="1377.5" r="4.55" fill="#b3b3b5"/>
<circle cx="1463.75" cy="1382.5" r="4.55" fill="#b3b3b5"/>
<circle cx="1320" cy="1311.25" r="4.55" fill="#000"/>
<circle cx="1310.5" cy="1319.25" r="4.55" fill="#000"/>
<circle cx="1315" cy="1343.75" r="4.55" fill="#000"/>
<circle cx="1315" cy="1366.75" r="4.55" fill="#000"/>
<circle cx="1378.25" cy="1292" r="4.55" fill="#000"/>
<circle cx="1380" cy="1337.5" r="4.55" fill="#000"/>
<circle cx="1373.75" cy="1343.75" r="4.55" fill="#000"/>
<circle cx="1378.25" cy="1345" r="4.55" fill="#000"/>
<circle cx="1378.25" cy="1360.5" r="4.55" fill="#000"/>
<circle cx="1441.25" cy="1341.75" r="4.55" fill="#000"/>
<circle cx="1441.25" cy="1375" r="4.55" fill="#000"/>
<circle cx="1437.5" cy="1381.25" r="4.55" fill="#000"/>
<circle cx="1445" cy="1389.5" r="4.55" fill="#000"/>
<circle cx="1441.25" cy="1392.5" r="4.55" fill="#000"/>
<text x="1264.5" y="1389.9" font-size="23.6" text-anchor="middle">N.D.</text>
<line x1="1245.75" y1="1453" x2="1470.75" y2="1453" stroke="#231f20" stroke-width="1.8" stroke-linecap="butt"/>
<text x="1361.25" y="1483.95" font-size="23.6" text-anchor="middle">min post-i.v.<tspan font-size="13.76" dy="-7.86" letter-spacing="-0.6">13</tspan><tspan dy="7.86">C</tspan><tspan font-size="13.76" dy="7.86">6</tspan><tspan dy="-7.86">-glucose</tspan></text>
<text x="1177.5" y="1245" font-size="23.6" text-anchor="middle" transform="rotate(-90 1177.5 1245)"><tspan letter-spacing="-1.1">% +4 </tspan>signal</text>
<text x="1286" y="1060.75" font-size="23.6"><tspan font-size="13.76" dy="-7.86" letter-spacing="-0.6">13</tspan><tspan dy="7.86">C</tspan><tspan font-size="13.76" dy="7.86">4</tspan></text>
<ellipse cx="1336.86" cy="1050.5" rx="10.46" ry="11.28" fill="#231f20"/>
<ellipse cx="1354.09" cy="1050.5" rx="10.46" ry="11.28" fill="#231f20"/>
<ellipse cx="1371.31" cy="1050.5" rx="10.46" ry="11.28" fill="#231f20"/>
<ellipse cx="1388.54" cy="1050.5" rx="10.46" ry="11.28" fill="#231f20"/>
<ellipse cx="1336.86" cy="1050.5" rx="6.31" ry="7.41" fill="#ed1c24"/>
<ellipse cx="1354.09" cy="1050.5" rx="6.31" ry="7.41" fill="#ed1c24"/>
<ellipse cx="1371.31" cy="1050.5" rx="6.31" ry="7.41" fill="#ed1c24"/>
<ellipse cx="1388.54" cy="1050.5" rx="6.31" ry="7.41" fill="#ed1c24"/>
<text x="1352.5" y="1088.5" font-size="23.6" text-anchor="middle">malate</text>
<line x1="1745.7" y1="1170.75" x2="1745.7" y2="1198.5" stroke="#b3b3b5" stroke-width="3.9" stroke-linecap="butt"/>
<line x1="1741.2" y1="1170.75" x2="1750.2" y2="1170.75" stroke="#b3b3b5" stroke-width="3.9" stroke-linecap="round"/>
<path d="M1736.65 1397V1199.5H1754.75V1397" fill="none" stroke="#b3b3b5" stroke-width="4"/>
<line x1="1808.53" y1="1260.5" x2="1808.53" y2="1279.75" stroke="#b3b3b5" stroke-width="3.9" stroke-linecap="butt"/>
<line x1="1804.03" y1="1260.5" x2="1813.03" y2="1260.5" stroke="#b3b3b5" stroke-width="3.9" stroke-linecap="round"/>
<path d="M1799.48 1397V1280.75H1817.58V1397" fill="none" stroke="#b3b3b5" stroke-width="4"/>
<line x1="1871.36" y1="1314.5" x2="1871.36" y2="1329.75" stroke="#b3b3b5" stroke-width="3.9" stroke-linecap="butt"/>
<line x1="1866.86" y1="1314.5" x2="1875.86" y2="1314.5" stroke="#b3b3b5" stroke-width="3.9" stroke-linecap="round"/>
<path d="M1862.31 1397V1330.75H1880.41V1397" fill="none" stroke="#b3b3b5" stroke-width="4"/>
<line x1="1723.6" y1="1219.25" x2="1723.6" y2="1266" stroke="#000" stroke-width="3.9" stroke-linecap="butt"/>
<line x1="1719.1" y1="1219.25" x2="1728.1" y2="1219.25" stroke="#000" stroke-width="3.9" stroke-linecap="round"/>
<path d="M1714.55 1397V1267H1732.65V1397" fill="none" stroke="#000" stroke-width="4"/>
<line x1="1786.43" y1="1220.75" x2="1786.43" y2="1257.75" stroke="#000" stroke-width="3.9" stroke-linecap="butt"/>
<line x1="1781.93" y1="1220.75" x2="1790.93" y2="1220.75" stroke="#000" stroke-width="3.9" stroke-linecap="round"/>
<path d="M1777.38 1397V1258.75H1795.48V1397" fill="none" stroke="#000" stroke-width="4"/>
<line x1="1849.26" y1="1284.25" x2="1849.26" y2="1311.75" stroke="#000" stroke-width="3.9" stroke-linecap="butt"/>
<line x1="1844.76" y1="1284.25" x2="1853.76" y2="1284.25" stroke="#000" stroke-width="3.9" stroke-linecap="round"/>
<path d="M1840.21 1397V1312.75H1858.31V1397" fill="none" stroke="#000" stroke-width="4"/>
<line x1="1642.22" y1="1111.65" x2="1642.22" y2="1399.05" stroke="#000" stroke-width="4.1" stroke-linecap="butt"/>
<line x1="1640.17" y1="1397" x2="1891.01" y2="1397" stroke="#000" stroke-width="4.1" stroke-linecap="butt"/>
<line x1="1631.62" y1="1397" x2="1642.22" y2="1397" stroke="#000" stroke-width="4.1" stroke-linecap="butt"/>
<text x="1631.02" y="1404.88" font-size="22.4" text-anchor="end" letter-spacing="0.0">0.0</text>
<line x1="1631.62" y1="1326.17" x2="1642.22" y2="1326.17" stroke="#000" stroke-width="4.1" stroke-linecap="butt"/>
<text x="1631.02" y="1334.06" font-size="22.4" text-anchor="end" letter-spacing="0.0">0.2</text>
<line x1="1631.62" y1="1255.35" x2="1642.22" y2="1255.35" stroke="#000" stroke-width="4.1" stroke-linecap="butt"/>
<text x="1631.02" y="1263.23" font-size="22.4" text-anchor="end" letter-spacing="0.0">0.4</text>
<line x1="1631.62" y1="1184.53" x2="1642.22" y2="1184.53" stroke="#000" stroke-width="4.1" stroke-linecap="butt"/>
<text x="1631.02" y="1192.41" font-size="22.4" text-anchor="end" letter-spacing="0.0">0.6</text>
<line x1="1631.62" y1="1113.7" x2="1642.22" y2="1113.7" stroke="#000" stroke-width="4.1" stroke-linecap="butt"/>
<text x="1631.02" y="1121.58" font-size="22.4" text-anchor="end" letter-spacing="0.0">0.8</text>
<line x1="1671.82" y1="1397" x2="1671.82" y2="1408.1" stroke="#000" stroke-width="4.2" stroke-linecap="butt"/>
<text x="1671.75" y="1428.5" font-size="23.6" text-anchor="middle">pre</text>
<line x1="1734.65" y1="1397" x2="1734.65" y2="1408.1" stroke="#000" stroke-width="4.2" stroke-linecap="butt"/>
<text x="1740.25" y="1428.5" font-size="22.4" text-anchor="middle" letter-spacing="0.0">15</text>
<line x1="1797.48" y1="1397" x2="1797.48" y2="1408.1" stroke="#000" stroke-width="4.2" stroke-linecap="butt"/>
<text x="1798.75" y="1428.5" font-size="22.4" text-anchor="middle" letter-spacing="0.0">30</text>
<line x1="1860.31" y1="1397" x2="1860.31" y2="1408.1" stroke="#000" stroke-width="4.2" stroke-linecap="butt"/>
<text x="1862.5" y="1428.5" font-size="22.4" text-anchor="middle" letter-spacing="0.0">60</text>
<circle cx="1746.25" cy="1127.5" r="4.55" fill="#b3b3b5"/>
<circle cx="1746.25" cy="1143.25" r="4.55" fill="#b3b3b5"/>
<circle cx="1746.25" cy="1220" r="4.55" fill="#b3b3b5"/>
<circle cx="1751.25" cy="1241.75" r="4.55" fill="#b3b3b5"/>
<circle cx="1741.25" cy="1253" r="4.55" fill="#b3b3b5"/>
<circle cx="1808.75" cy="1243.25" r="4.55" fill="#b3b3b5"/>
<circle cx="1803.25" cy="1266.25" r="4.55" fill="#b3b3b5"/>
<circle cx="1813.75" cy="1275.75" r="4.55" fill="#b3b3b5"/>
<circle cx="1808.75" cy="1271.25" r="4.55" fill="#b3b3b5"/>
<circle cx="1808.75" cy="1330" r="4.55" fill="#b3b3b5"/>
<circle cx="1868.75" cy="1304.25" r="4.55" fill="#b3b3b5"/>
<circle cx="1875.5" cy="1307.5" r="4.55" fill="#b3b3b5"/>
<circle cx="1872.5" cy="1314.25" r="4.55" fill="#b3b3b5"/>
<circle cx="1872.5" cy="1346.25" r="4.55" fill="#b3b3b5"/>
<circle cx="1872.5" cy="1372.5" r="4.55" fill="#b3b3b5"/>
<circle cx="1723" cy="1121.75" r="4.55" fill="#000"/>
<circle cx="1728.75" cy="1235" r="4.55" fill="#000"/>
<circle cx="1718.25" cy="1243" r="4.55" fill="#000"/>
<circle cx="1723" cy="1345.5" r="4.55" fill="#000"/>
<circle cx="1723" cy="1380.75" r="4.55" fill="#000"/>
<circle cx="1786.25" cy="1182.5" r="4.55" fill="#000"/>
<circle cx="1786.25" cy="1199.25" r="4.55" fill="#000"/>
<circle cx="1786.25" cy="1240" r="4.55" fill="#000"/>
<circle cx="1786.25" cy="1278" r="4.55" fill="#000"/>
<circle cx="1786.25" cy="1383.25" r="4.55" fill="#000"/>
<circle cx="1849.5" cy="1235.75" r="4.55" fill="#000"/>
<circle cx="1849.5" cy="1270.5" r="4.55" fill="#000"/>
<circle cx="1845" cy="1323.75" r="4.55" fill="#000"/>
<circle cx="1854.25" cy="1335.5" r="4.55" fill="#000"/>
<circle cx="1849.5" cy="1387" r="4.55" fill="#000"/>
<text x="1677.5" y="1390.15" font-size="23.6" text-anchor="middle">N.D.</text>
<line x1="1658.25" y1="1444.5" x2="1882.5" y2="1444.5" stroke="#231f20" stroke-width="1.8" stroke-linecap="butt"/>
<text x="1630.75" y="1474.1" font-size="23.6">min post-i.v. <tspan font-size="13.76" dy="-7.86" letter-spacing="-0.6">13</tspan><tspan dy="7.86">C</tspan><tspan font-size="13.76" dy="7.86">16</tspan><tspan dy="-7.86">-palmitate</tspan></text>
<text x="1581.25" y="1257.5" font-size="23.6" text-anchor="middle" transform="rotate(-90 1581.25 1257.5)"><tspan letter-spacing="-1.1">% +16 </tspan>signal</text>
<text x="1578.75" y="1047.85" font-size="23.6"><tspan font-size="13.76" dy="-7.86" letter-spacing="-0.6">13</tspan><tspan dy="7.86">C</tspan><tspan font-size="13.76" dy="7.86">16</tspan></text>
<ellipse cx="1643.42" cy="1031.6" rx="10.52" ry="11.35" fill="#231f20"/>
<ellipse cx="1660.74" cy="1031.6" rx="10.52" ry="11.35" fill="#231f20"/>
<ellipse cx="1678.06" cy="1031.6" rx="10.52" ry="11.35" fill="#231f20"/>
<ellipse cx="1695.39" cy="1031.6" rx="10.52" ry="11.35" fill="#231f20"/>
<ellipse cx="1712.71" cy="1031.6" rx="10.52" ry="11.35" fill="#231f20"/>
<ellipse cx="1730.04" cy="1031.6" rx="10.52" ry="11.35" fill="#231f20"/>
<ellipse cx="1747.36" cy="1031.6" rx="10.52" ry="11.35" fill="#231f20"/>
<ellipse cx="1764.68" cy="1031.6" rx="10.52" ry="11.35" fill="#231f20"/>
<ellipse cx="1643.42" cy="1031.6" rx="6.34" ry="7.45" fill="#ed1c24"/>
<ellipse cx="1660.74" cy="1031.6" rx="6.34" ry="7.45" fill="#ed1c24"/>
<ellipse cx="1678.06" cy="1031.6" rx="6.34" ry="7.45" fill="#ed1c24"/>
<ellipse cx="1695.39" cy="1031.6" rx="6.34" ry="7.45" fill="#ed1c24"/>
<ellipse cx="1712.71" cy="1031.6" rx="6.34" ry="7.45" fill="#ed1c24"/>
<ellipse cx="1730.04" cy="1031.6" rx="6.34" ry="7.45" fill="#ed1c24"/>
<ellipse cx="1747.36" cy="1031.6" rx="6.34" ry="7.45" fill="#ed1c24"/>
<ellipse cx="1764.68" cy="1031.6" rx="6.34" ry="7.45" fill="#ed1c24"/>
<ellipse cx="1643.42" cy="1051.83" rx="10.52" ry="11.35" fill="#231f20"/>
<ellipse cx="1660.74" cy="1051.83" rx="10.52" ry="11.35" fill="#231f20"/>
<ellipse cx="1678.06" cy="1051.83" rx="10.52" ry="11.35" fill="#231f20"/>
<ellipse cx="1695.39" cy="1051.83" rx="10.52" ry="11.35" fill="#231f20"/>
<ellipse cx="1712.71" cy="1051.83" rx="10.52" ry="11.35" fill="#231f20"/>
<ellipse cx="1730.04" cy="1051.83" rx="10.52" ry="11.35" fill="#231f20"/>
<ellipse cx="1747.36" cy="1051.83" rx="10.52" ry="11.35" fill="#231f20"/>
<ellipse cx="1764.68" cy="1051.83" rx="10.52" ry="11.35" fill="#231f20"/>
<ellipse cx="1643.42" cy="1051.83" rx="6.34" ry="7.45" fill="#ed1c24"/>
<ellipse cx="1660.74" cy="1051.83" rx="6.34" ry="7.45" fill="#ed1c24"/>
<ellipse cx="1678.06" cy="1051.83" rx="6.34" ry="7.45" fill="#ed1c24"/>
<ellipse cx="1695.39" cy="1051.83" rx="6.34" ry="7.45" fill="#ed1c24"/>
<ellipse cx="1712.71" cy="1051.83" rx="6.34" ry="7.45" fill="#ed1c24"/>
<ellipse cx="1730.04" cy="1051.83" rx="6.34" ry="7.45" fill="#ed1c24"/>
<ellipse cx="1747.36" cy="1051.83" rx="6.34" ry="7.45" fill="#ed1c24"/>
<ellipse cx="1764.68" cy="1051.83" rx="6.34" ry="7.45" fill="#ed1c24"/>
<text x="1698.75" y="1087.35" font-size="23.6" text-anchor="middle">palmitate</text>
<rect x="1804.25" y="1025" width="21.5" height="20" fill="#000"/>
<rect x="1804.25" y="1059.3" width="21.5" height="20" fill="#b4b3bb"/>
<text x="1837.25" y="1044.9" font-size="23.6">29°C</text>
<text x="1839.75" y="1079.2" font-size="23.6">4°C</text>
<line x1="203.57" y1="1795" x2="203.57" y2="1836.5" stroke="#b3b3b5" stroke-width="3.9" stroke-linecap="butt"/>
<line x1="199.07" y1="1795" x2="208.07" y2="1795" stroke="#b3b3b5" stroke-width="3.9" stroke-linecap="round"/>
<path d="M194.52 1916.75V1837.5H212.62V1916.75" fill="none" stroke="#b3b3b5" stroke-width="4"/>
<line x1="266.4" y1="1820.75" x2="266.4" y2="1863.5" stroke="#b3b3b5" stroke-width="3.9" stroke-linecap="butt"/>
<line x1="261.9" y1="1820.75" x2="270.9" y2="1820.75" stroke="#b3b3b5" stroke-width="3.9" stroke-linecap="round"/>
<path d="M257.35 1916.75V1864.5H275.45V1916.75" fill="none" stroke="#b3b3b5" stroke-width="4"/>
<line x1="329.23" y1="1910.75" x2="329.23" y2="1914.25" stroke="#b3b3b5" stroke-width="3.9" stroke-linecap="butt"/>
<line x1="324.73" y1="1910.75" x2="333.73" y2="1910.75" stroke="#b3b3b5" stroke-width="3.9" stroke-linecap="round"/>
<path d="M320.18 1916.75V1915.25H338.28V1916.75" fill="none" stroke="#b3b3b5" stroke-width="4"/>
<line x1="181.47" y1="1908" x2="181.47" y2="1912.25" stroke="#000" stroke-width="3.9" stroke-linecap="butt"/>
<line x1="176.97" y1="1908" x2="185.97" y2="1908" stroke="#000" stroke-width="3.9" stroke-linecap="round"/>
<path d="M172.42 1916.75V1913.25H190.52V1916.75" fill="none" stroke="#000" stroke-width="4"/>
<line x1="244.3" y1="1907" x2="244.3" y2="1911" stroke="#000" stroke-width="3.9" stroke-linecap="butt"/>
<line x1="239.8" y1="1907" x2="248.8" y2="1907" stroke="#000" stroke-width="3.9" stroke-linecap="round"/>
<path d="M235.25 1916.75V1912H253.35V1916.75" fill="none" stroke="#000" stroke-width="4"/>
<line x1="100.09" y1="1631.4" x2="100.09" y2="1918.8" stroke="#000" stroke-width="4.1" stroke-linecap="butt"/>
<line x1="98.04" y1="1916.75" x2="348.88" y2="1916.75" stroke="#000" stroke-width="4.1" stroke-linecap="butt"/>
<line x1="89.49" y1="1916.75" x2="100.09" y2="1916.75" stroke="#000" stroke-width="4.1" stroke-linecap="butt"/>
<text x="88.89" y="1924.63" font-size="22.4" text-anchor="end" letter-spacing="0.0">0</text>
<line x1="89.49" y1="1845.92" x2="100.09" y2="1845.92" stroke="#000" stroke-width="4.1" stroke-linecap="butt"/>
<text x="88.89" y="1853.81" font-size="22.4" text-anchor="end" letter-spacing="0.0">2</text>
<line x1="89.49" y1="1775.1" x2="100.09" y2="1775.1" stroke="#000" stroke-width="4.1" stroke-linecap="butt"/>
<text x="88.89" y="1782.98" font-size="22.4" text-anchor="end" letter-spacing="0.0">4</text>
<line x1="89.49" y1="1704.28" x2="100.09" y2="1704.28" stroke="#000" stroke-width="4.1" stroke-linecap="butt"/>
<text x="88.89" y="1712.16" font-size="22.4" text-anchor="end" letter-spacing="0.0">6</text>
<line x1="89.49" y1="1633.45" x2="100.09" y2="1633.45" stroke="#000" stroke-width="4.1" stroke-linecap="butt"/>
<text x="88.89" y="1641.33" font-size="22.4" text-anchor="end" letter-spacing="0.0">8</text>
<line x1="129.69" y1="1916.75" x2="129.69" y2="1927.85" stroke="#000" stroke-width="4.2" stroke-linecap="butt"/>
<text x="127.5" y="1951.35" font-size="23.6" text-anchor="middle">pre</text>
<line x1="192.52" y1="1916.75" x2="192.52" y2="1927.85" stroke="#000" stroke-width="4.2" stroke-linecap="butt"/>
<text x="192" y="1951.35" font-size="22.4" text-anchor="middle" letter-spacing="0.0">15</text>
<line x1="255.35" y1="1916.75" x2="255.35" y2="1927.85" stroke="#000" stroke-width="4.2" stroke-linecap="butt"/>
<text x="255" y="1951.35" font-size="22.4" text-anchor="middle" letter-spacing="0.0">30</text>
<line x1="318.18" y1="1916.75" x2="318.18" y2="1927.85" stroke="#000" stroke-width="4.2" stroke-linecap="butt"/>
<text x="318.75" y="1951.35" font-size="22.4" text-anchor="middle" letter-spacing="0.0">60</text>
<circle cx="203.75" cy="1700" r="4.55" fill="#b3b3b5"/>
<circle cx="203.75" cy="1782.5" r="4.55" fill="#b3b3b5"/>
<circle cx="200" cy="1895" r="4.55" fill="#b3b3b5"/>
<circle cx="204.5" cy="1897.5" r="4.55" fill="#b3b3b5"/>
<circle cx="207.5" cy="1897.5" r="4.55" fill="#b3b3b5"/>
<circle cx="266.75" cy="1667" r="4.55" fill="#b3b3b5"/>
<circle cx="266.75" cy="1898" r="4.55" fill="#b3b3b5"/>
<circle cx="262.5" cy="1912.5" r="4.55" fill="#b3b3b5"/>
<circle cx="270" cy="1915" r="4.55" fill="#b3b3b5"/>
<circle cx="266.25" cy="1916.25" r="4.55" fill="#b3b3b5"/>
<circle cx="327.5" cy="1903" r="4.55" fill="#b3b3b5"/>
<circle cx="332.5" cy="1910" r="4.55" fill="#b3b3b5"/>
<circle cx="327.5" cy="1913.75" r="4.55" fill="#b3b3b5"/>
<circle cx="331.25" cy="1915.75" r="4.55" fill="#b3b3b5"/>
<circle cx="335" cy="1915" r="4.55" fill="#b3b3b5"/>
<circle cx="181.25" cy="1901.75" r="4.55" fill="#000"/>
<circle cx="187" cy="1906.25" r="4.55" fill="#000"/>
<circle cx="175.75" cy="1910.75" r="4.55" fill="#000"/>
<circle cx="186.25" cy="1913.75" r="4.55" fill="#000"/>
<circle cx="180" cy="1916.25" r="4.55" fill="#000"/>
<circle cx="241.25" cy="1904.25" r="4.55" fill="#000"/>
<circle cx="247.5" cy="1905" r="4.55" fill="#000"/>
<circle cx="243.75" cy="1910" r="4.55" fill="#000"/>
<circle cx="240" cy="1913.75" r="4.55" fill="#000"/>
<circle cx="245" cy="1916.25" r="4.55" fill="#000"/>
<circle cx="303.75" cy="1915.75" r="4.55" fill="#000"/>
<circle cx="307.5" cy="1915.75" r="4.55" fill="#000"/>
<circle cx="311.25" cy="1915.75" r="4.55" fill="#000"/>
<text x="132" y="1908.15" font-size="23.6" text-anchor="middle">N.D.</text>
<line x1="114.5" y1="1967.25" x2="338.75" y2="1967.25" stroke="#231f20" stroke-width="1.8" stroke-linecap="butt"/>
<text x="231.75" y="1996.6" font-size="23.6" text-anchor="middle">min post-i.v. <tspan font-size="13.76" dy="-7.86" letter-spacing="-0.6">13</tspan><tspan dy="7.86">C</tspan><tspan font-size="13.76" dy="7.86">16</tspan><tspan dy="-7.86">-palmitate</tspan></text>
<text x="55.5" y="1760" font-size="23.6" text-anchor="middle" transform="rotate(-90 55.5 1760)"><tspan letter-spacing="-1.1">% +2 </tspan>signal</text>
<text x="76.25" y="1568.35" font-size="23.6"><tspan font-size="13.76" dy="-7.86" letter-spacing="-0.6">13</tspan><tspan dy="7.86">C</tspan><tspan font-size="13.76" dy="7.86">2</tspan></text>
<ellipse cx="127.99" cy="1557.9" rx="10.39" ry="11.22" fill="#231f20"/>
<ellipse cx="145.12" cy="1557.9" rx="10.39" ry="11.22" fill="#231f20"/>
<ellipse cx="162.24" cy="1557.9" rx="10.39" ry="11.22" fill="#231f20"/>
<ellipse cx="179.36" cy="1557.9" rx="10.39" ry="11.22" fill="#231f20"/>
<ellipse cx="196.48" cy="1557.9" rx="10.39" ry="11.22" fill="#231f20"/>
<ellipse cx="213.61" cy="1557.9" rx="10.39" ry="11.22" fill="#231f20"/>
<ellipse cx="127.99" cy="1557.9" rx="6.27" ry="7.36" fill="#fff"/>
<ellipse cx="145.12" cy="1557.9" rx="6.27" ry="7.36" fill="#fff"/>
<ellipse cx="162.24" cy="1557.9" rx="6.27" ry="7.36" fill="#fff"/>
<ellipse cx="179.36" cy="1557.9" rx="6.27" ry="7.36" fill="#fff"/>
<ellipse cx="196.48" cy="1557.9" rx="6.27" ry="7.36" fill="#ed1c24"/>
<ellipse cx="213.61" cy="1557.9" rx="6.27" ry="7.36" fill="#ed1c24"/>
<text x="158.25" y="1592.5" font-size="23.6" text-anchor="middle">citrate</text>
<rect x="267" y="1540" width="21.5" height="20" fill="#000"/>
<rect x="267" y="1574.3" width="21.5" height="20" fill="#b4b3bb"/>
<text x="300" y="1559.9" font-size="23.6">29°C</text>
<text x="302.5" y="1594.2" font-size="23.6">4°C</text>
<line x1="587.76" y1="1903.25" x2="587.76" y2="1909" stroke="#b3b3b5" stroke-width="3.9" stroke-linecap="butt"/>
<line x1="583.26" y1="1903.25" x2="592.26" y2="1903.25" stroke="#b3b3b5" stroke-width="3.9" stroke-linecap="round"/>
<path d="M578.71 1914.5V1910H596.81V1914.5" fill="none" stroke="#b3b3b5" stroke-width="4"/>
<line x1="650.59" y1="1815" x2="650.59" y2="1863" stroke="#b3b3b5" stroke-width="3.9" stroke-linecap="butt"/>
<line x1="646.09" y1="1815" x2="655.09" y2="1815" stroke="#b3b3b5" stroke-width="3.9" stroke-linecap="round"/>
<path d="M641.54 1914.5V1864H659.64V1914.5" fill="none" stroke="#b3b3b5" stroke-width="4"/>
<line x1="713.42" y1="1898.25" x2="713.42" y2="1904.75" stroke="#b3b3b5" stroke-width="3.9" stroke-linecap="butt"/>
<line x1="708.92" y1="1898.25" x2="717.92" y2="1898.25" stroke="#b3b3b5" stroke-width="3.9" stroke-linecap="round"/>
<path d="M704.37 1914.5V1905.75H722.47V1914.5" fill="none" stroke="#b3b3b5" stroke-width="4"/>
<line x1="691.32" y1="1888.25" x2="691.32" y2="1899" stroke="#000" stroke-width="3.9" stroke-linecap="butt"/>
<line x1="686.82" y1="1888.25" x2="695.82" y2="1888.25" stroke="#000" stroke-width="3.9" stroke-linecap="round"/>
<path d="M682.27 1914.5V1900H700.37V1914.5" fill="none" stroke="#000" stroke-width="4"/>
<line x1="484.28" y1="1629.15" x2="484.28" y2="1916.55" stroke="#000" stroke-width="4.1" stroke-linecap="butt"/>
<line x1="482.23" y1="1914.5" x2="733.07" y2="1914.5" stroke="#000" stroke-width="4.1" stroke-linecap="butt"/>
<line x1="473.68" y1="1914.5" x2="484.28" y2="1914.5" stroke="#000" stroke-width="4.1" stroke-linecap="butt"/>
<text x="473.08" y="1922.38" font-size="22.4" text-anchor="end" letter-spacing="0.0">0.0</text>
<line x1="473.68" y1="1820.07" x2="484.28" y2="1820.07" stroke="#000" stroke-width="4.1" stroke-linecap="butt"/>
<text x="473.08" y="1827.95" font-size="22.4" text-anchor="end" letter-spacing="0.0">0.4</text>
<line x1="473.68" y1="1725.63" x2="484.28" y2="1725.63" stroke="#000" stroke-width="4.1" stroke-linecap="butt"/>
<text x="473.08" y="1733.52" font-size="22.4" text-anchor="end" letter-spacing="0.0">0.8</text>
<line x1="473.68" y1="1631.2" x2="484.28" y2="1631.2" stroke="#000" stroke-width="4.1" stroke-linecap="butt"/>
<text x="473.08" y="1639.08" font-size="22.4" text-anchor="end" letter-spacing="0.0">1.2</text>
<line x1="513.88" y1="1914.5" x2="513.88" y2="1925.6" stroke="#000" stroke-width="4.2" stroke-linecap="butt"/>
<text x="513.75" y="1950.75" font-size="23.6" text-anchor="middle">pre</text>
<line x1="576.71" y1="1914.5" x2="576.71" y2="1925.6" stroke="#000" stroke-width="4.2" stroke-linecap="butt"/>
<text x="575" y="1950.75" font-size="22.4" text-anchor="middle" letter-spacing="0.0">15</text>
<line x1="639.54" y1="1914.5" x2="639.54" y2="1925.6" stroke="#000" stroke-width="4.2" stroke-linecap="butt"/>
<text x="642.5" y="1950.75" font-size="22.4" text-anchor="middle" letter-spacing="0.0">30</text>
<line x1="702.37" y1="1914.5" x2="702.37" y2="1925.6" stroke="#000" stroke-width="4.2" stroke-linecap="butt"/>
<text x="701.75" y="1950.75" font-size="22.4" text-anchor="middle" letter-spacing="0.0">60</text>
<circle cx="583" cy="1896.25" r="4.55" fill="#b3b3b5"/>
<circle cx="592.5" cy="1900.5" r="4.55" fill="#b3b3b5"/>
<circle cx="585" cy="1913.75" r="4.55" fill="#b3b3b5"/>
<circle cx="590" cy="1913.75" r="4.55" fill="#b3b3b5"/>
<circle cx="587.5" cy="1910" r="4.55" fill="#b3b3b5"/>
<circle cx="650.75" cy="1675" r="4.55" fill="#b3b3b5"/>
<circle cx="650.75" cy="1895.75" r="4.55" fill="#b3b3b5"/>
<circle cx="648.75" cy="1912.5" r="4.55" fill="#b3b3b5"/>
<circle cx="652.5" cy="1913.75" r="4.55" fill="#b3b3b5"/>
<circle cx="650.75" cy="1915" r="4.55" fill="#b3b3b5"/>
<circle cx="708.75" cy="1888.75" r="4.55" fill="#b3b3b5"/>
<circle cx="717.5" cy="1895" r="4.55" fill="#b3b3b5"/>
<circle cx="710.5" cy="1910" r="4.55" fill="#b3b3b5"/>
<circle cx="716.25" cy="1913.75" r="4.55" fill="#b3b3b5"/>
<circle cx="713.75" cy="1906.25" r="4.55" fill="#b3b3b5"/>
<circle cx="563.75" cy="1913.25" r="4.55" fill="#000"/>
<circle cx="567.5" cy="1913.25" r="4.55" fill="#000"/>
<circle cx="626.25" cy="1911.25" r="4.55" fill="#000"/>
<circle cx="630.75" cy="1911.25" r="4.55" fill="#000"/>
<circle cx="686.25" cy="1873.75" r="4.55" fill="#000"/>
<circle cx="696.25" cy="1876.75" r="4.55" fill="#000"/>
<circle cx="691.25" cy="1913.75" r="4.55" fill="#000"/>
<circle cx="695.5" cy="1913.75" r="4.55" fill="#000"/>
<circle cx="691.25" cy="1912.5" r="4.55" fill="#000"/>
<text x="520" y="1905.65" font-size="23.6" text-anchor="middle">N.D.</text>
<line x1="488.75" y1="1967.45" x2="713.75" y2="1967.45" stroke="#231f20" stroke-width="1.8" stroke-linecap="butt"/>
<text x="603" y="1996.6" font-size="23.6" text-anchor="middle">min post-i.v. <tspan font-size="13.76" dy="-7.86" letter-spacing="-0.6">13</tspan><tspan dy="7.86">C</tspan><tspan font-size="13.76" dy="7.86">16</tspan><tspan dy="-7.86">-palmitate</tspan></text>
<text x="421.25" y="1756.25" font-size="23.6" text-anchor="middle" transform="rotate(-90 421.25 1756.25)"><tspan letter-spacing="-1.1">% +4 </tspan>signal</text>
<text x="515.65" y="1563.6" font-size="23.6"><tspan font-size="13.76" dy="-7.86" letter-spacing="-0.6">13</tspan><tspan dy="7.86">C</tspan><tspan font-size="13.76" dy="7.86">4</tspan></text>
<ellipse cx="567.41" cy="1553.5" rx="10.41" ry="11.24" fill="#231f20"/>
<ellipse cx="584.57" cy="1553.5" rx="10.41" ry="11.24" fill="#231f20"/>
<ellipse cx="601.72" cy="1553.5" rx="10.41" ry="11.24" fill="#231f20"/>
<ellipse cx="618.88" cy="1553.5" rx="10.41" ry="11.24" fill="#231f20"/>
<ellipse cx="636.03" cy="1553.5" rx="10.41" ry="11.24" fill="#231f20"/>
<ellipse cx="653.19" cy="1553.5" rx="10.41" ry="11.24" fill="#231f20"/>
<ellipse cx="567.41" cy="1553.5" rx="6.28" ry="7.38" fill="#fff"/>
<ellipse cx="584.57" cy="1553.5" rx="6.28" ry="7.38" fill="#fff"/>
<ellipse cx="601.72" cy="1553.5" rx="6.28" ry="7.38" fill="#ed1c24"/>
<ellipse cx="618.88" cy="1553.5" rx="6.28" ry="7.38" fill="#ed1c24"/>
<ellipse cx="636.03" cy="1553.5" rx="6.28" ry="7.38" fill="#ed1c24"/>
<ellipse cx="653.19" cy="1553.5" rx="6.28" ry="7.38" fill="#ed1c24"/>
<text x="598.25" y="1588" font-size="23.6" text-anchor="middle">citrate</text>
<line x1="842.22" y1="1627.9" x2="842.22" y2="1915.3" stroke="#000" stroke-width="4.1" stroke-linecap="butt"/>
<line x1="840.17" y1="1913.25" x2="1091.01" y2="1913.25" stroke="#000" stroke-width="4.1" stroke-linecap="butt"/>
<line x1="831.62" y1="1913.25" x2="842.22" y2="1913.25" stroke="#000" stroke-width="4.1" stroke-linecap="butt"/>
<text x="831.02" y="1921.13" font-size="22.4" text-anchor="end" letter-spacing="0.0">0.0</text>
<line x1="831.62" y1="1856.59" x2="842.22" y2="1856.59" stroke="#000" stroke-width="4.1" stroke-linecap="butt"/>
<text x="831.02" y="1864.47" font-size="22.4" text-anchor="end" letter-spacing="0.0">0.2</text>
<line x1="831.62" y1="1799.93" x2="842.22" y2="1799.93" stroke="#000" stroke-width="4.1" stroke-linecap="butt"/>
<text x="831.02" y="1807.81" font-size="22.4" text-anchor="end" letter-spacing="0.0">0.4</text>
<line x1="831.62" y1="1743.27" x2="842.22" y2="1743.27" stroke="#000" stroke-width="4.1" stroke-linecap="butt"/>
<text x="831.02" y="1751.15" font-size="22.4" text-anchor="end" letter-spacing="0.0">0.6</text>
<line x1="831.62" y1="1686.61" x2="842.22" y2="1686.61" stroke="#000" stroke-width="4.1" stroke-linecap="butt"/>
<text x="831.02" y="1694.49" font-size="22.4" text-anchor="end" letter-spacing="0.0">0.8</text>
<line x1="831.62" y1="1629.95" x2="842.22" y2="1629.95" stroke="#000" stroke-width="4.1" stroke-linecap="butt"/>
<text x="831.02" y="1637.83" font-size="22.4" text-anchor="end" letter-spacing="0.0">1.0</text>
<line x1="871.82" y1="1913.25" x2="871.82" y2="1924.35" stroke="#000" stroke-width="4.2" stroke-linecap="butt"/>
<text x="873.75" y="1952.25" font-size="23.6" text-anchor="middle">pre</text>
<line x1="934.65" y1="1913.25" x2="934.65" y2="1924.35" stroke="#000" stroke-width="4.2" stroke-linecap="butt"/>
<text x="931.25" y="1952.25" font-size="22.4" text-anchor="middle" letter-spacing="0.0">15</text>
<line x1="997.48" y1="1913.25" x2="997.48" y2="1924.35" stroke="#000" stroke-width="4.2" stroke-linecap="butt"/>
<text x="998" y="1952.25" font-size="22.4" text-anchor="middle" letter-spacing="0.0">30</text>
<line x1="1060.31" y1="1913.25" x2="1060.31" y2="1924.35" stroke="#000" stroke-width="4.2" stroke-linecap="butt"/>
<text x="1061.25" y="1952.25" font-size="22.4" text-anchor="middle" letter-spacing="0.0">60</text>
<text x="877" y="1905.4" font-size="23.6" text-anchor="middle">N.D.</text>
<text x="942" y="1905.4" font-size="23.6" text-anchor="middle">N.D.</text>
<text x="1005.5" y="1905.4" font-size="23.6" text-anchor="middle">N.D.</text>
<text x="1073" y="1905.4" font-size="23.6" text-anchor="middle">N.D.</text>
<line x1="860.75" y1="1968.25" x2="1065.75" y2="1968.25" stroke="#231f20" stroke-width="1.8" stroke-linecap="butt"/>
<text x="963" y="1998.6" font-size="23.6" text-anchor="middle">min post-i.v. <tspan font-size="13.76" dy="-7.86" letter-spacing="-0.6">13</tspan><tspan dy="7.86">C</tspan><tspan font-size="13.76" dy="7.86">16</tspan><tspan dy="-7.86">-palmitate</tspan></text>
<text x="777.5" y="1761.25" font-size="23.6" text-anchor="middle" transform="rotate(-90 777.5 1761.25)"><tspan letter-spacing="-1.1">% +6 </tspan>signal</text>
<text x="858.75" y="1563.6" font-size="23.6"><tspan font-size="13.76" dy="-7.86" letter-spacing="-0.6">13</tspan><tspan dy="7.86">C</tspan><tspan font-size="13.76" dy="7.86">6</tspan></text>
<ellipse cx="910.45" cy="1553.3" rx="10.45" ry="11.28" fill="#231f20"/>
<ellipse cx="927.67" cy="1553.3" rx="10.45" ry="11.28" fill="#231f20"/>
<ellipse cx="944.89" cy="1553.3" rx="10.45" ry="11.28" fill="#231f20"/>
<ellipse cx="962.11" cy="1553.3" rx="10.45" ry="11.28" fill="#231f20"/>
<ellipse cx="979.33" cy="1553.3" rx="10.45" ry="11.28" fill="#231f20"/>
<ellipse cx="996.55" cy="1553.3" rx="10.45" ry="11.28" fill="#231f20"/>
<ellipse cx="910.45" cy="1553.3" rx="6.3" ry="7.4" fill="#ed1c24"/>
<ellipse cx="927.67" cy="1553.3" rx="6.3" ry="7.4" fill="#ed1c24"/>
<ellipse cx="944.89" cy="1553.3" rx="6.3" ry="7.4" fill="#ed1c24"/>
<ellipse cx="962.11" cy="1553.3" rx="6.3" ry="7.4" fill="#ed1c24"/>
<ellipse cx="979.33" cy="1553.3" rx="6.3" ry="7.4" fill="#ed1c24"/>
<ellipse cx="996.55" cy="1553.3" rx="6.3" ry="7.4" fill="#ed1c24"/>
<text x="941.25" y="1588" font-size="23.6" text-anchor="middle">citrate</text>
<line x1="1370.26" y1="1696.75" x2="1370.26" y2="1706.5" stroke="#b3b3b5" stroke-width="3.9" stroke-linecap="butt"/>
<line x1="1365.76" y1="1696.75" x2="1374.76" y2="1696.75" stroke="#b3b3b5" stroke-width="3.9" stroke-linecap="round"/>
<path d="M1361.21 1910.25V1707.5H1379.31V1910.25" fill="none" stroke="#b3b3b5" stroke-width="4"/>
<line x1="1433.09" y1="1748.75" x2="1433.09" y2="1764.25" stroke="#b3b3b5" stroke-width="3.9" stroke-linecap="butt"/>
<line x1="1428.59" y1="1748.75" x2="1437.59" y2="1748.75" stroke="#b3b3b5" stroke-width="3.9" stroke-linecap="round"/>
<path d="M1424.04 1910.25V1765.25H1442.14V1910.25" fill="none" stroke="#b3b3b5" stroke-width="4"/>
<line x1="1495.92" y1="1783.75" x2="1495.92" y2="1795.5" stroke="#b3b3b5" stroke-width="3.9" stroke-linecap="butt"/>
<line x1="1491.42" y1="1783.75" x2="1500.42" y2="1783.75" stroke="#b3b3b5" stroke-width="3.9" stroke-linecap="round"/>
<path d="M1486.87 1910.25V1796.5H1504.97V1910.25" fill="none" stroke="#b3b3b5" stroke-width="4"/>
<line x1="1348.16" y1="1744.25" x2="1348.16" y2="1771.75" stroke="#000" stroke-width="3.9" stroke-linecap="butt"/>
<line x1="1343.66" y1="1744.25" x2="1352.66" y2="1744.25" stroke="#000" stroke-width="3.9" stroke-linecap="round"/>
<path d="M1339.11 1910.25V1772.75H1357.21V1910.25" fill="none" stroke="#000" stroke-width="4"/>
<line x1="1410.99" y1="1708.75" x2="1410.99" y2="1737.75" stroke="#000" stroke-width="3.9" stroke-linecap="butt"/>
<line x1="1406.49" y1="1708.75" x2="1415.49" y2="1708.75" stroke="#000" stroke-width="3.9" stroke-linecap="round"/>
<path d="M1401.94 1910.25V1738.75H1420.04V1910.25" fill="none" stroke="#000" stroke-width="4"/>
<line x1="1473.82" y1="1780" x2="1473.82" y2="1795.25" stroke="#000" stroke-width="3.9" stroke-linecap="butt"/>
<line x1="1469.32" y1="1780" x2="1478.32" y2="1780" stroke="#000" stroke-width="3.9" stroke-linecap="round"/>
<path d="M1464.77 1910.25V1796.25H1482.87V1910.25" fill="none" stroke="#000" stroke-width="4"/>
<line x1="1266.78" y1="1624.9" x2="1266.78" y2="1912.3" stroke="#000" stroke-width="4.1" stroke-linecap="butt"/>
<line x1="1264.73" y1="1910.25" x2="1515.57" y2="1910.25" stroke="#000" stroke-width="4.1" stroke-linecap="butt"/>
<line x1="1256.18" y1="1910.25" x2="1266.78" y2="1910.25" stroke="#000" stroke-width="4.1" stroke-linecap="butt"/>
<text x="1255.58" y="1918.13" font-size="22.4" text-anchor="end" letter-spacing="0.0">0.0</text>
<line x1="1256.18" y1="1839.42" x2="1266.78" y2="1839.42" stroke="#000" stroke-width="4.1" stroke-linecap="butt"/>
<text x="1255.58" y="1847.31" font-size="22.4" text-anchor="end" letter-spacing="0.0">0.1</text>
<line x1="1256.18" y1="1768.6" x2="1266.78" y2="1768.6" stroke="#000" stroke-width="4.1" stroke-linecap="butt"/>
<text x="1255.58" y="1776.48" font-size="22.4" text-anchor="end" letter-spacing="0.0">0.2</text>
<line x1="1256.18" y1="1697.78" x2="1266.78" y2="1697.78" stroke="#000" stroke-width="4.1" stroke-linecap="butt"/>
<text x="1255.58" y="1705.66" font-size="22.4" text-anchor="end" letter-spacing="0.0">0.3</text>
<line x1="1256.18" y1="1626.95" x2="1266.78" y2="1626.95" stroke="#000" stroke-width="4.1" stroke-linecap="butt"/>
<text x="1255.58" y="1634.83" font-size="22.4" text-anchor="end" letter-spacing="0.0">0.4</text>
<line x1="1296.38" y1="1910.25" x2="1296.38" y2="1921.35" stroke="#000" stroke-width="4.2" stroke-linecap="butt"/>
<text x="1293.75" y="1944" font-size="23.6" text-anchor="middle">pre</text>
<line x1="1359.21" y1="1910.25" x2="1359.21" y2="1921.35" stroke="#000" stroke-width="4.2" stroke-linecap="butt"/>
<text x="1359.25" y="1944" font-size="22.4" text-anchor="middle" letter-spacing="0.0">15</text>
<line x1="1422.04" y1="1910.25" x2="1422.04" y2="1921.35" stroke="#000" stroke-width="4.2" stroke-linecap="butt"/>
<text x="1422" y="1944" font-size="22.4" text-anchor="middle" letter-spacing="0.0">30</text>
<line x1="1484.87" y1="1910.25" x2="1484.87" y2="1921.35" stroke="#000" stroke-width="4.2" stroke-linecap="butt"/>
<text x="1486.25" y="1944" font-size="22.4" text-anchor="middle" letter-spacing="0.0">60</text>
<circle cx="1375.5" cy="1678.75" r="4.55" fill="#b3b3b5"/>
<circle cx="1365.75" cy="1689.25" r="4.55" fill="#b3b3b5"/>
<circle cx="1366.25" cy="1712.5" r="4.55" fill="#b3b3b5"/>
<circle cx="1375.5" cy="1716.75" r="4.55" fill="#b3b3b5"/>
<circle cx="1371.25" cy="1729.25" r="4.55" fill="#b3b3b5"/>
<circle cx="1433.25" cy="1728" r="4.55" fill="#b3b3b5"/>
<circle cx="1428" cy="1757.5" r="4.55" fill="#b3b3b5"/>
<circle cx="1438.75" cy="1768.75" r="4.55" fill="#b3b3b5"/>
<circle cx="1430" cy="1763.75" r="4.55" fill="#b3b3b5"/>
<circle cx="1433.25" cy="1798.75" r="4.55" fill="#b3b3b5"/>
<circle cx="1496.75" cy="1767.5" r="4.55" fill="#b3b3b5"/>
<circle cx="1501.25" cy="1777" r="4.55" fill="#b3b3b5"/>
<circle cx="1492" cy="1790" r="4.55" fill="#b3b3b5"/>
<circle cx="1496.75" cy="1804.5" r="4.55" fill="#b3b3b5"/>
<circle cx="1496.75" cy="1831.25" r="4.55" fill="#b3b3b5"/>
<circle cx="1348" cy="1720.75" r="4.55" fill="#000"/>
<circle cx="1353.25" cy="1728" r="4.55" fill="#000"/>
<circle cx="1343.25" cy="1734.25" r="4.55" fill="#000"/>
<circle cx="1348" cy="1822" r="4.55" fill="#000"/>
<circle cx="1348" cy="1848.25" r="4.55" fill="#000"/>
<circle cx="1406.25" cy="1683.25" r="4.55" fill="#000"/>
<circle cx="1415.75" cy="1693.25" r="4.55" fill="#000"/>
<circle cx="1411.25" cy="1720.75" r="4.55" fill="#000"/>
<circle cx="1411.25" cy="1744.5" r="4.55" fill="#000"/>
<circle cx="1411.25" cy="1841.25" r="4.55" fill="#000"/>
<circle cx="1474.25" cy="1760.5" r="4.55" fill="#000"/>
<circle cx="1474.25" cy="1774.25" r="4.55" fill="#000"/>
<circle cx="1469.5" cy="1793" r="4.55" fill="#000"/>
<circle cx="1478.75" cy="1801.25" r="4.55" fill="#000"/>
<circle cx="1474.25" cy="1842.5" r="4.55" fill="#000"/>
<text x="1301.25" y="1900.15" font-size="23.6" text-anchor="middle">N.D.</text>
<line x1="1275.75" y1="1959.5" x2="1500" y2="1959.5" stroke="#231f20" stroke-width="1.8" stroke-linecap="butt"/>
<text x="1389.25" y="1989.1" font-size="23.6" text-anchor="middle">min post-i.v. <tspan font-size="13.76" dy="-7.86" letter-spacing="-0.6">13</tspan><tspan dy="7.86">C</tspan><tspan font-size="13.76" dy="7.86">16</tspan><tspan dy="-7.86">-palmitate</tspan></text>
<text x="1212.5" y="1760" font-size="23.6" text-anchor="middle" transform="rotate(-90 1212.5 1760)"><tspan letter-spacing="-1.1">% +2 </tspan>signal</text>
<text x="1259.75" y="1584.85" font-size="23.6"><tspan font-size="13.76" dy="-7.86" letter-spacing="-0.6">13</tspan><tspan dy="7.86">C</tspan><tspan font-size="13.76" dy="7.86">2</tspan></text>
<ellipse cx="1310.58" cy="1575.7" rx="11.18" ry="12.06" fill="#231f20"/>
<ellipse cx="1328.99" cy="1575.7" rx="11.18" ry="12.06" fill="#231f20"/>
<ellipse cx="1347.41" cy="1575.7" rx="11.18" ry="12.06" fill="#231f20"/>
<ellipse cx="1365.82" cy="1575.7" rx="11.18" ry="12.06" fill="#231f20"/>
<ellipse cx="1310.58" cy="1575.7" rx="6.74" ry="7.92" fill="#fff"/>
<ellipse cx="1328.99" cy="1575.7" rx="6.74" ry="7.92" fill="#fff"/>
<ellipse cx="1347.41" cy="1575.7" rx="6.74" ry="7.92" fill="#ed1c24"/>
<ellipse cx="1365.82" cy="1575.7" rx="6.74" ry="7.92" fill="#ed1c24"/>
<text x="1326.75" y="1609.25" font-size="23.6" text-anchor="middle">succinate</text>
<rect x="1420.5" y="1560.25" width="21.5" height="20" fill="#000"/>
<rect x="1420.5" y="1594.55" width="21.5" height="20" fill="#b4b3bb"/>
<text x="1453.5" y="1580.15" font-size="23.6">29°C</text>
<text x="1456" y="1614.45" font-size="23.6">4°C</text>
<line x1="1649.28" y1="1617.15" x2="1649.28" y2="1904.55" stroke="#000" stroke-width="4.1" stroke-linecap="butt"/>
<line x1="1647.23" y1="1902.5" x2="1898.07" y2="1902.5" stroke="#000" stroke-width="4.1" stroke-linecap="butt"/>
<line x1="1638.68" y1="1902.5" x2="1649.28" y2="1902.5" stroke="#000" stroke-width="4.1" stroke-linecap="butt"/>
<text x="1638.08" y="1910.38" font-size="22.4" text-anchor="end" letter-spacing="0.0">0.0</text>
<line x1="1638.68" y1="1845.84" x2="1649.28" y2="1845.84" stroke="#000" stroke-width="4.1" stroke-linecap="butt"/>
<text x="1638.08" y="1853.72" font-size="22.4" text-anchor="end" letter-spacing="0.0">0.2</text>
<line x1="1638.68" y1="1789.18" x2="1649.28" y2="1789.18" stroke="#000" stroke-width="4.1" stroke-linecap="butt"/>
<text x="1638.08" y="1797.06" font-size="22.4" text-anchor="end" letter-spacing="0.0">0.4</text>
<line x1="1638.68" y1="1732.52" x2="1649.28" y2="1732.52" stroke="#000" stroke-width="4.1" stroke-linecap="butt"/>
<text x="1638.08" y="1740.4" font-size="22.4" text-anchor="end" letter-spacing="0.0">0.6</text>
<line x1="1638.68" y1="1675.86" x2="1649.28" y2="1675.86" stroke="#000" stroke-width="4.1" stroke-linecap="butt"/>
<text x="1638.08" y="1683.74" font-size="22.4" text-anchor="end" letter-spacing="0.0">0.8</text>
<line x1="1638.68" y1="1619.2" x2="1649.28" y2="1619.2" stroke="#000" stroke-width="4.1" stroke-linecap="butt"/>
<text x="1638.08" y="1627.08" font-size="22.4" text-anchor="end" letter-spacing="0.0">1.0</text>
<line x1="1678.88" y1="1902.5" x2="1678.88" y2="1913.6" stroke="#000" stroke-width="4.2" stroke-linecap="butt"/>
<text x="1680" y="1944" font-size="23.6" text-anchor="middle">pre</text>
<line x1="1741.71" y1="1902.5" x2="1741.71" y2="1913.6" stroke="#000" stroke-width="4.2" stroke-linecap="butt"/>
<text x="1741.75" y="1944" font-size="22.4" text-anchor="middle" letter-spacing="0.0">15</text>
<line x1="1804.54" y1="1902.5" x2="1804.54" y2="1913.6" stroke="#000" stroke-width="4.2" stroke-linecap="butt"/>
<text x="1804.5" y="1944" font-size="22.4" text-anchor="middle" letter-spacing="0.0">30</text>
<line x1="1867.37" y1="1902.5" x2="1867.37" y2="1913.6" stroke="#000" stroke-width="4.2" stroke-linecap="butt"/>
<text x="1867.5" y="1944" font-size="22.4" text-anchor="middle" letter-spacing="0.0">60</text>
<text x="1680" y="1897.15" font-size="23.6" text-anchor="middle">N.D.</text>
<text x="1746.25" y="1897.15" font-size="23.6" text-anchor="middle">N.D.</text>
<text x="1806.75" y="1897.15" font-size="23.6" text-anchor="middle">N.D.</text>
<text x="1871.25" y="1897.15" font-size="23.6" text-anchor="middle">N.D.</text>
<line x1="1670.75" y1="1961" x2="1875.75" y2="1961" stroke="#231f20" stroke-width="1.8" stroke-linecap="butt"/>
<text x="1630.75" y="1990.6" font-size="23.6">min post-i.v. <tspan font-size="13.76" dy="-7.86" letter-spacing="-0.6">13</tspan><tspan dy="7.86">C</tspan><tspan font-size="13.76" dy="7.86">16</tspan><tspan dy="-7.86">-palmitate</tspan></text>
<text x="1585.5" y="1750" font-size="23.6" text-anchor="middle" transform="rotate(-90 1585.5 1750)"><tspan letter-spacing="-1.1">% +4 </tspan>signal</text>
<text x="1706.5" y="1577.75" font-size="23.6"><tspan font-size="13.76" dy="-7.86" letter-spacing="-0.6">13</tspan><tspan dy="7.86">C</tspan><tspan font-size="13.76" dy="7.86">4</tspan></text>
<ellipse cx="1758.09" cy="1568.7" rx="11.09" ry="11.97" fill="#231f20"/>
<ellipse cx="1776.36" cy="1568.7" rx="11.09" ry="11.97" fill="#231f20"/>
<ellipse cx="1794.64" cy="1568.7" rx="11.09" ry="11.97" fill="#231f20"/>
<ellipse cx="1812.91" cy="1568.7" rx="11.09" ry="11.97" fill="#231f20"/>
<ellipse cx="1758.09" cy="1568.7" rx="6.69" ry="7.86" fill="#ed1c24"/>
<ellipse cx="1776.36" cy="1568.7" rx="6.69" ry="7.86" fill="#ed1c24"/>
<ellipse cx="1794.64" cy="1568.7" rx="6.69" ry="7.86" fill="#ed1c24"/>
<ellipse cx="1812.91" cy="1568.7" rx="6.69" ry="7.86" fill="#ed1c24"/>
<text x="1775" y="1601.75" font-size="23.6" text-anchor="middle">succinate</text>
<line x1="196.07" y1="2206" x2="196.07" y2="2221.25" stroke="#b3b3b5" stroke-width="3.9" stroke-linecap="butt"/>
<line x1="191.57" y1="2206" x2="200.57" y2="2206" stroke="#b3b3b5" stroke-width="3.9" stroke-linecap="round"/>
<path d="M187.02 2411.2V2222.25H205.12V2411.2" fill="none" stroke="#b3b3b5" stroke-width="4"/>
<line x1="258.9" y1="2291.75" x2="258.9" y2="2315.75" stroke="#b3b3b5" stroke-width="3.9" stroke-linecap="butt"/>
<line x1="254.4" y1="2291.75" x2="263.4" y2="2291.75" stroke="#b3b3b5" stroke-width="3.9" stroke-linecap="round"/>
<path d="M249.85 2411.2V2316.75H267.95V2411.2" fill="none" stroke="#b3b3b5" stroke-width="4"/>
<line x1="321.73" y1="2361.75" x2="321.73" y2="2375.75" stroke="#b3b3b5" stroke-width="3.9" stroke-linecap="butt"/>
<line x1="317.23" y1="2361.75" x2="326.23" y2="2361.75" stroke="#b3b3b5" stroke-width="3.9" stroke-linecap="round"/>
<path d="M312.68 2411.2V2376.75H330.78V2411.2" fill="none" stroke="#b3b3b5" stroke-width="4"/>
<line x1="173.97" y1="2268.5" x2="173.97" y2="2304" stroke="#000" stroke-width="3.9" stroke-linecap="butt"/>
<line x1="169.47" y1="2268.5" x2="178.47" y2="2268.5" stroke="#000" stroke-width="3.9" stroke-linecap="round"/>
<path d="M164.92 2411.2V2305H183.02V2411.2" fill="none" stroke="#000" stroke-width="4"/>
<line x1="236.8" y1="2246" x2="236.8" y2="2284" stroke="#000" stroke-width="3.9" stroke-linecap="butt"/>
<line x1="232.3" y1="2246" x2="241.3" y2="2246" stroke="#000" stroke-width="3.9" stroke-linecap="round"/>
<path d="M227.75 2411.2V2285H245.85V2411.2" fill="none" stroke="#000" stroke-width="4"/>
<line x1="299.63" y1="2364.25" x2="299.63" y2="2375.75" stroke="#000" stroke-width="3.9" stroke-linecap="butt"/>
<line x1="295.13" y1="2364.25" x2="304.13" y2="2364.25" stroke="#000" stroke-width="3.9" stroke-linecap="round"/>
<path d="M290.58 2411.2V2376.75H308.68V2411.2" fill="none" stroke="#000" stroke-width="4"/>
<line x1="92.59" y1="2125.85" x2="92.59" y2="2413.25" stroke="#000" stroke-width="4.1" stroke-linecap="butt"/>
<line x1="90.54" y1="2411.2" x2="341.38" y2="2411.2" stroke="#000" stroke-width="4.1" stroke-linecap="butt"/>
<line x1="81.99" y1="2411.2" x2="92.59" y2="2411.2" stroke="#000" stroke-width="4.1" stroke-linecap="butt"/>
<text x="76.89" y="2419.08" font-size="22.4" text-anchor="end" letter-spacing="0.0">0.00</text>
<line x1="81.99" y1="2340.38" x2="92.59" y2="2340.38" stroke="#000" stroke-width="4.1" stroke-linecap="butt"/>
<text x="76.89" y="2348.26" font-size="22.4" text-anchor="end" letter-spacing="0.0">0.05</text>
<line x1="81.99" y1="2269.55" x2="92.59" y2="2269.55" stroke="#000" stroke-width="4.1" stroke-linecap="butt"/>
<text x="76.89" y="2277.43" font-size="22.4" text-anchor="end" letter-spacing="0.0">0.10</text>
<line x1="81.99" y1="2198.72" x2="92.59" y2="2198.72" stroke="#000" stroke-width="4.1" stroke-linecap="butt"/>
<text x="76.89" y="2206.61" font-size="22.4" text-anchor="end" letter-spacing="0.0">0.15</text>
<line x1="81.99" y1="2127.9" x2="92.59" y2="2127.9" stroke="#000" stroke-width="4.1" stroke-linecap="butt"/>
<text x="76.89" y="2135.78" font-size="22.4" text-anchor="end" letter-spacing="0.0">0.20</text>
<line x1="122.19" y1="2411.2" x2="122.19" y2="2422.3" stroke="#000" stroke-width="4.2" stroke-linecap="butt"/>
<text x="120" y="2445.25" font-size="23.6" text-anchor="middle">pre</text>
<line x1="185.02" y1="2411.2" x2="185.02" y2="2422.3" stroke="#000" stroke-width="4.2" stroke-linecap="butt"/>
<text x="185" y="2445.25" font-size="22.4" text-anchor="middle" letter-spacing="0.0">15</text>
<line x1="247.85" y1="2411.2" x2="247.85" y2="2422.3" stroke="#000" stroke-width="4.2" stroke-linecap="butt"/>
<text x="248" y="2445.25" font-size="22.4" text-anchor="middle" letter-spacing="0.0">30</text>
<line x1="310.68" y1="2411.2" x2="310.68" y2="2422.3" stroke="#000" stroke-width="4.2" stroke-linecap="butt"/>
<text x="311.25" y="2445.25" font-size="22.4" text-anchor="middle" letter-spacing="0.0">60</text>
<circle cx="196.25" cy="2165.5" r="4.55" fill="#b3b3b5"/>
<circle cx="192.5" cy="2227.25" r="4.55" fill="#b3b3b5"/>
<circle cx="200" cy="2227.25" r="4.55" fill="#b3b3b5"/>
<circle cx="196.25" cy="2231" r="4.55" fill="#b3b3b5"/>
<circle cx="196.25" cy="2250.5" r="4.55" fill="#b3b3b5"/>
<circle cx="259.5" cy="2269.75" r="4.55" fill="#b3b3b5"/>
<circle cx="259.5" cy="2328" r="4.55" fill="#b3b3b5"/>
<circle cx="259.5" cy="2346" r="4.55" fill="#b3b3b5"/>
<circle cx="318" cy="2339.75" r="4.55" fill="#b3b3b5"/>
<circle cx="327.5" cy="2349" r="4.55" fill="#b3b3b5"/>
<circle cx="318.75" cy="2391" r="4.55" fill="#b3b3b5"/>
<circle cx="326.25" cy="2393.5" r="4.55" fill="#b3b3b5"/>
<circle cx="322.5" cy="2396" r="4.55" fill="#b3b3b5"/>
<circle cx="173.75" cy="2230.5" r="4.55" fill="#000"/>
<circle cx="169.25" cy="2288.5" r="4.55" fill="#000"/>
<circle cx="179.25" cy="2294" r="4.55" fill="#000"/>
<circle cx="173.75" cy="2397.25" r="4.55" fill="#000"/>
<circle cx="237.5" cy="2194.25" r="4.55" fill="#000"/>
<circle cx="237.5" cy="2223.5" r="4.55" fill="#000"/>
<circle cx="237.5" cy="2283.5" r="4.55" fill="#000"/>
<circle cx="237.5" cy="2306.5" r="4.55" fill="#000"/>
<circle cx="237.5" cy="2406" r="4.55" fill="#000"/>
<circle cx="300.75" cy="2347.75" r="4.55" fill="#000"/>
<circle cx="296.25" cy="2374.75" r="4.55" fill="#000"/>
<circle cx="305.5" cy="2376" r="4.55" fill="#000"/>
<circle cx="300.75" cy="2399.75" r="4.55" fill="#000"/>
<text x="129.5" y="2404.15" font-size="23.6" text-anchor="middle">N.D.</text>
<line x1="107" y1="2461" x2="331.25" y2="2461" stroke="#231f20" stroke-width="1.8" stroke-linecap="butt"/>
<text x="216.75" y="2489.85" font-size="23.6" text-anchor="middle">min post-i.v. <tspan font-size="13.76" dy="-7.86" letter-spacing="-0.6">13</tspan><tspan dy="7.86">C</tspan><tspan font-size="13.76" dy="7.86">16</tspan><tspan dy="-7.86">-palmitate</tspan></text>
<text x="17" y="2268.5" font-size="23.6" text-anchor="middle" transform="rotate(-90 17 2268.5)"><tspan letter-spacing="-1.1">% +2 </tspan>signal</text>
<text x="82.55" y="2082.75" font-size="23.6"><tspan font-size="13.76" dy="-7.86" letter-spacing="-0.6">13</tspan><tspan dy="7.86">C</tspan><tspan font-size="13.76" dy="7.86">2</tspan></text>
<ellipse cx="133.03" cy="2073" rx="10.43" ry="11.25" fill="#231f20"/>
<ellipse cx="150.21" cy="2073" rx="10.43" ry="11.25" fill="#231f20"/>
<ellipse cx="167.39" cy="2073" rx="10.43" ry="11.25" fill="#231f20"/>
<ellipse cx="184.57" cy="2073" rx="10.43" ry="11.25" fill="#231f20"/>
<ellipse cx="133.03" cy="2073" rx="6.29" ry="7.39" fill="#fff"/>
<ellipse cx="150.21" cy="2073" rx="6.29" ry="7.39" fill="#fff"/>
<ellipse cx="167.39" cy="2073" rx="6.29" ry="7.39" fill="#ed1c24"/>
<ellipse cx="184.57" cy="2073" rx="6.29" ry="7.39" fill="#ed1c24"/>
<text x="144.5" y="2111.35" font-size="23.6" text-anchor="middle">fumarate</text>
<rect x="247.5" y="2060.4" width="21.5" height="20" fill="#000"/>
<rect x="247.5" y="2094.7" width="21.5" height="20" fill="#b4b3bb"/>
<text x="280.5" y="2080.3" font-size="23.6">29°C</text>
<text x="283" y="2114.6" font-size="23.6">4°C</text>
<line x1="563.2" y1="2303.5" x2="563.2" y2="2320" stroke="#b3b3b5" stroke-width="3.9" stroke-linecap="butt"/>
<line x1="558.7" y1="2303.5" x2="567.7" y2="2303.5" stroke="#b3b3b5" stroke-width="3.9" stroke-linecap="round"/>
<path d="M554.15 2407.75V2321H572.25V2407.75" fill="none" stroke="#b3b3b5" stroke-width="4"/>
<line x1="626.03" y1="2263.5" x2="626.03" y2="2289.5" stroke="#b3b3b5" stroke-width="3.9" stroke-linecap="butt"/>
<line x1="621.53" y1="2263.5" x2="630.53" y2="2263.5" stroke="#b3b3b5" stroke-width="3.9" stroke-linecap="round"/>
<path d="M616.98 2407.75V2290.5H635.08V2407.75" fill="none" stroke="#b3b3b5" stroke-width="4"/>
<line x1="688.86" y1="2268.5" x2="688.86" y2="2288.25" stroke="#b3b3b5" stroke-width="3.9" stroke-linecap="butt"/>
<line x1="684.36" y1="2268.5" x2="693.36" y2="2268.5" stroke="#b3b3b5" stroke-width="3.9" stroke-linecap="round"/>
<path d="M679.81 2407.75V2289.25H697.91V2407.75" fill="none" stroke="#b3b3b5" stroke-width="4"/>
<line x1="541.1" y1="2269.25" x2="541.1" y2="2293.25" stroke="#000" stroke-width="3.9" stroke-linecap="butt"/>
<line x1="536.6" y1="2269.25" x2="545.6" y2="2269.25" stroke="#000" stroke-width="3.9" stroke-linecap="round"/>
<path d="M532.05 2407.75V2294.25H550.15V2407.75" fill="none" stroke="#000" stroke-width="4"/>
<line x1="603.93" y1="2254.25" x2="603.93" y2="2278.75" stroke="#000" stroke-width="3.9" stroke-linecap="butt"/>
<line x1="599.43" y1="2254.25" x2="608.43" y2="2254.25" stroke="#000" stroke-width="3.9" stroke-linecap="round"/>
<path d="M594.88 2407.75V2279.75H612.98V2407.75" fill="none" stroke="#000" stroke-width="4"/>
<line x1="666.76" y1="2241.5" x2="666.76" y2="2261.25" stroke="#000" stroke-width="3.9" stroke-linecap="butt"/>
<line x1="662.26" y1="2241.5" x2="671.26" y2="2241.5" stroke="#000" stroke-width="3.9" stroke-linecap="round"/>
<path d="M657.71 2407.75V2262.25H675.81V2407.75" fill="none" stroke="#000" stroke-width="4"/>
<line x1="459.72" y1="2122.4" x2="459.72" y2="2409.8" stroke="#000" stroke-width="4.1" stroke-linecap="butt"/>
<line x1="457.67" y1="2407.75" x2="708.51" y2="2407.75" stroke="#000" stroke-width="4.1" stroke-linecap="butt"/>
<line x1="449.12" y1="2407.75" x2="459.72" y2="2407.75" stroke="#000" stroke-width="4.1" stroke-linecap="butt"/>
<text x="448.52" y="2415.63" font-size="22.4" text-anchor="end" letter-spacing="0.0">0.00</text>
<line x1="449.12" y1="2313.32" x2="459.72" y2="2313.32" stroke="#000" stroke-width="4.1" stroke-linecap="butt"/>
<text x="448.52" y="2321.2" font-size="22.4" text-anchor="end" letter-spacing="0.0">0.05</text>
<line x1="449.12" y1="2218.88" x2="459.72" y2="2218.88" stroke="#000" stroke-width="4.1" stroke-linecap="butt"/>
<text x="448.52" y="2226.77" font-size="22.4" text-anchor="end" letter-spacing="0.0">0.10</text>
<line x1="449.12" y1="2124.45" x2="459.72" y2="2124.45" stroke="#000" stroke-width="4.1" stroke-linecap="butt"/>
<text x="448.52" y="2132.33" font-size="22.4" text-anchor="end" letter-spacing="0.0">0.15</text>
<line x1="489.32" y1="2407.75" x2="489.32" y2="2418.85" stroke="#000" stroke-width="4.2" stroke-linecap="butt"/>
<text x="485" y="2441.75" font-size="23.6" text-anchor="middle">pre</text>
<line x1="552.15" y1="2407.75" x2="552.15" y2="2418.85" stroke="#000" stroke-width="4.2" stroke-linecap="butt"/>
<text x="541.75" y="2441.75" font-size="22.4" text-anchor="middle" letter-spacing="0.0">15</text>
<line x1="614.98" y1="2407.75" x2="614.98" y2="2418.85" stroke="#000" stroke-width="4.2" stroke-linecap="butt"/>
<text x="609.25" y="2441.75" font-size="22.4" text-anchor="middle" letter-spacing="0.0">30</text>
<line x1="677.81" y1="2407.75" x2="677.81" y2="2418.85" stroke="#000" stroke-width="4.2" stroke-linecap="butt"/>
<text x="680" y="2441.75" font-size="22.4" text-anchor="middle" letter-spacing="0.0">60</text>
<circle cx="563.25" cy="2268.5" r="4.55" fill="#b3b3b5"/>
<circle cx="563.75" cy="2296.5" r="4.55" fill="#b3b3b5"/>
<circle cx="561.25" cy="2341" r="4.55" fill="#b3b3b5"/>
<circle cx="566.25" cy="2345.5" r="4.55" fill="#b3b3b5"/>
<circle cx="563.75" cy="2343.5" r="4.55" fill="#b3b3b5"/>
<circle cx="627" cy="2252.25" r="4.55" fill="#b3b3b5"/>
<circle cx="627" cy="2277.75" r="4.55" fill="#b3b3b5"/>
<circle cx="627" cy="2334.25" r="4.55" fill="#b3b3b5"/>
<circle cx="690.5" cy="2224.25" r="4.55" fill="#b3b3b5"/>
<circle cx="685" cy="2281.75" r="4.55" fill="#b3b3b5"/>
<circle cx="695" cy="2279.75" r="4.55" fill="#b3b3b5"/>
<circle cx="690" cy="2318" r="4.55" fill="#b3b3b5"/>
<circle cx="690" cy="2332.25" r="4.55" fill="#b3b3b5"/>
<circle cx="541.75" cy="2226" r="4.55" fill="#000"/>
<circle cx="536.75" cy="2306" r="4.55" fill="#000"/>
<circle cx="546.75" cy="2310.25" r="4.55" fill="#000"/>
<circle cx="541.75" cy="2328" r="4.55" fill="#000"/>
<circle cx="604.5" cy="2196.5" r="4.55" fill="#000"/>
<circle cx="604.5" cy="2267.25" r="4.55" fill="#000"/>
<circle cx="599.5" cy="2289.75" r="4.55" fill="#000"/>
<circle cx="609.5" cy="2297.75" r="4.55" fill="#000"/>
<circle cx="604.5" cy="2339" r="4.55" fill="#000"/>
<circle cx="667.5" cy="2223" r="4.55" fill="#000"/>
<circle cx="667.5" cy="2240.5" r="4.55" fill="#000"/>
<circle cx="667.5" cy="2271.5" r="4.55" fill="#000"/>
<circle cx="667.5" cy="2304.75" r="4.55" fill="#000"/>
<text x="495.75" y="2398.9" font-size="23.6" text-anchor="middle">N.D.</text>
<line x1="460" y1="2462.25" x2="684.25" y2="2462.25" stroke="#231f20" stroke-width="1.8" stroke-linecap="butt"/>
<text x="569.5" y="2491.65" font-size="23.6" text-anchor="middle">min post-i.v. <tspan font-size="13.76" dy="-7.86" letter-spacing="-0.6">13</tspan><tspan dy="7.86">C</tspan><tspan font-size="13.76" dy="7.86">16</tspan><tspan dy="-7.86">-palmitate</tspan></text>
<text x="393.75" y="2259.75" font-size="23.6" text-anchor="middle" transform="rotate(-90 393.75 2259.75)"><tspan letter-spacing="-1.1">% +4 </tspan>signal</text>
<text x="524.95" y="2080.35" font-size="23.6"><tspan font-size="13.76" dy="-7.86" letter-spacing="-0.6">13</tspan><tspan dy="7.86">C</tspan><tspan font-size="13.76" dy="7.86">4</tspan></text>
<ellipse cx="574.94" cy="2070.7" rx="10.54" ry="11.38" fill="#231f20"/>
<ellipse cx="592.31" cy="2070.7" rx="10.54" ry="11.38" fill="#231f20"/>
<ellipse cx="609.69" cy="2070.7" rx="10.54" ry="11.38" fill="#231f20"/>
<ellipse cx="627.06" cy="2070.7" rx="10.54" ry="11.38" fill="#231f20"/>
<ellipse cx="574.94" cy="2070.7" rx="6.36" ry="7.47" fill="#ed1c24"/>
<ellipse cx="592.31" cy="2070.7" rx="6.36" ry="7.47" fill="#ed1c24"/>
<ellipse cx="609.69" cy="2070.7" rx="6.36" ry="7.47" fill="#ed1c24"/>
<ellipse cx="627.06" cy="2070.7" rx="6.36" ry="7.47" fill="#ed1c24"/>
<text x="590" y="2109" font-size="23.6" text-anchor="middle">fumarate</text>
<line x1="1077.32" y1="2175.25" x2="1077.32" y2="2185.75" stroke="#b3b3b5" stroke-width="3.9" stroke-linecap="butt"/>
<line x1="1072.82" y1="2175.25" x2="1081.82" y2="2175.25" stroke="#b3b3b5" stroke-width="3.9" stroke-linecap="round"/>
<path d="M1068.27 2407.3V2186.75H1086.37V2407.3" fill="none" stroke="#b3b3b5" stroke-width="4"/>
<line x1="1140.15" y1="2238" x2="1140.15" y2="2254.5" stroke="#b3b3b5" stroke-width="3.9" stroke-linecap="butt"/>
<line x1="1135.65" y1="2238" x2="1144.65" y2="2238" stroke="#b3b3b5" stroke-width="3.9" stroke-linecap="round"/>
<path d="M1131.1 2407.3V2255.5H1149.2V2407.3" fill="none" stroke="#b3b3b5" stroke-width="4"/>
<line x1="1202.98" y1="2278.5" x2="1202.98" y2="2292.75" stroke="#b3b3b5" stroke-width="3.9" stroke-linecap="butt"/>
<line x1="1198.48" y1="2278.5" x2="1207.48" y2="2278.5" stroke="#b3b3b5" stroke-width="3.9" stroke-linecap="round"/>
<path d="M1193.93 2407.3V2293.75H1212.03V2407.3" fill="none" stroke="#b3b3b5" stroke-width="4"/>
<line x1="1055.22" y1="2224.25" x2="1055.22" y2="2256.5" stroke="#000" stroke-width="3.9" stroke-linecap="butt"/>
<line x1="1050.72" y1="2224.25" x2="1059.72" y2="2224.25" stroke="#000" stroke-width="3.9" stroke-linecap="round"/>
<path d="M1046.17 2407.3V2257.5H1064.27V2407.3" fill="none" stroke="#000" stroke-width="4"/>
<line x1="1118.05" y1="2205.5" x2="1118.05" y2="2233.75" stroke="#000" stroke-width="3.9" stroke-linecap="butt"/>
<line x1="1113.55" y1="2205.5" x2="1122.55" y2="2205.5" stroke="#000" stroke-width="3.9" stroke-linecap="round"/>
<path d="M1109 2407.3V2234.75H1127.1V2407.3" fill="none" stroke="#000" stroke-width="4"/>
<line x1="1180.88" y1="2276.75" x2="1180.88" y2="2295" stroke="#000" stroke-width="3.9" stroke-linecap="butt"/>
<line x1="1176.38" y1="2276.75" x2="1185.38" y2="2276.75" stroke="#000" stroke-width="3.9" stroke-linecap="round"/>
<path d="M1171.83 2407.3V2296H1189.93V2407.3" fill="none" stroke="#000" stroke-width="4"/>
<line x1="973.84" y1="2121.95" x2="973.84" y2="2409.35" stroke="#000" stroke-width="4.1" stroke-linecap="butt"/>
<line x1="971.79" y1="2407.3" x2="1222.63" y2="2407.3" stroke="#000" stroke-width="4.1" stroke-linecap="butt"/>
<line x1="963.24" y1="2407.3" x2="973.84" y2="2407.3" stroke="#000" stroke-width="4.1" stroke-linecap="butt"/>
<text x="962.64" y="2415.18" font-size="22.4" text-anchor="end" letter-spacing="0.0">0.0</text>
<line x1="963.24" y1="2336.48" x2="973.84" y2="2336.48" stroke="#000" stroke-width="4.1" stroke-linecap="butt"/>
<text x="962.64" y="2344.36" font-size="22.4" text-anchor="end" letter-spacing="0.0">0.1</text>
<line x1="963.24" y1="2265.65" x2="973.84" y2="2265.65" stroke="#000" stroke-width="4.1" stroke-linecap="butt"/>
<text x="962.64" y="2273.53" font-size="22.4" text-anchor="end" letter-spacing="0.0">0.2</text>
<line x1="963.24" y1="2194.82" x2="973.84" y2="2194.82" stroke="#000" stroke-width="4.1" stroke-linecap="butt"/>
<text x="962.64" y="2202.71" font-size="22.4" text-anchor="end" letter-spacing="0.0">0.3</text>
<line x1="963.24" y1="2124" x2="973.84" y2="2124" stroke="#000" stroke-width="4.1" stroke-linecap="butt"/>
<text x="962.64" y="2131.88" font-size="22.4" text-anchor="end" letter-spacing="0.0">0.4</text>
<line x1="1003.44" y1="2407.3" x2="1003.44" y2="2418.4" stroke="#000" stroke-width="4.2" stroke-linecap="butt"/>
<text x="1003.75" y="2441.65" font-size="23.6" text-anchor="middle">pre</text>
<line x1="1066.27" y1="2407.3" x2="1066.27" y2="2418.4" stroke="#000" stroke-width="4.2" stroke-linecap="butt"/>
<text x="1064.5" y="2441.65" font-size="22.4" text-anchor="middle" letter-spacing="0.0">15</text>
<line x1="1129.1" y1="2407.3" x2="1129.1" y2="2418.4" stroke="#000" stroke-width="4.2" stroke-linecap="butt"/>
<text x="1127.5" y="2441.65" font-size="22.4" text-anchor="middle" letter-spacing="0.0">30</text>
<line x1="1191.93" y1="2407.3" x2="1191.93" y2="2418.4" stroke="#000" stroke-width="4.2" stroke-linecap="butt"/>
<text x="1195" y="2441.65" font-size="22.4" text-anchor="middle" letter-spacing="0.0">60</text>
<circle cx="1077.5" cy="2147.25" r="4.55" fill="#b3b3b5"/>
<circle cx="1080" cy="2193.5" r="4.55" fill="#b3b3b5"/>
<circle cx="1075" cy="2201" r="4.55" fill="#b3b3b5"/>
<circle cx="1081.25" cy="2198.5" r="4.55" fill="#b3b3b5"/>
<circle cx="1077.5" cy="2191" r="4.55" fill="#b3b3b5"/>
<circle cx="1145.5" cy="2228.5" r="4.55" fill="#b3b3b5"/>
<circle cx="1135.75" cy="2233.5" r="4.55" fill="#b3b3b5"/>
<circle cx="1140.75" cy="2261" r="4.55" fill="#b3b3b5"/>
<circle cx="1140.75" cy="2291.5" r="4.55" fill="#b3b3b5"/>
<circle cx="1140.75" cy="2251" r="4.55" fill="#b3b3b5"/>
<circle cx="1208.75" cy="2260.25" r="4.55" fill="#b3b3b5"/>
<circle cx="1198.75" cy="2270.25" r="4.55" fill="#b3b3b5"/>
<circle cx="1198.75" cy="2292.25" r="4.55" fill="#b3b3b5"/>
<circle cx="1208.25" cy="2301" r="4.55" fill="#b3b3b5"/>
<circle cx="1203.75" cy="2333" r="4.55" fill="#b3b3b5"/>
<circle cx="1055.5" cy="2199.75" r="4.55" fill="#000"/>
<circle cx="1060.75" cy="2204" r="4.55" fill="#000"/>
<circle cx="1050.5" cy="2213.5" r="4.55" fill="#000"/>
<circle cx="1055.5" cy="2318" r="4.55" fill="#000"/>
<circle cx="1055.5" cy="2342.75" r="4.55" fill="#000"/>
<circle cx="1115.5" cy="2192.75" r="4.55" fill="#000"/>
<circle cx="1121.75" cy="2198.5" r="4.55" fill="#000"/>
<circle cx="1118.25" cy="2203.5" r="4.55" fill="#000"/>
<circle cx="1118.25" cy="2232.25" r="4.55" fill="#000"/>
<circle cx="1118.25" cy="2339.75" r="4.55" fill="#000"/>
<circle cx="1177" cy="2259.75" r="4.55" fill="#000"/>
<circle cx="1186.75" cy="2259.75" r="4.55" fill="#000"/>
<circle cx="1177" cy="2294.75" r="4.55" fill="#000"/>
<circle cx="1186.75" cy="2302.75" r="4.55" fill="#000"/>
<circle cx="1181.75" cy="2352.75" r="4.55" fill="#000"/>
<text x="1010" y="2398.9" font-size="23.6" text-anchor="middle">N.D.</text>
<line x1="990.75" y1="2458" x2="1199.25" y2="2458" stroke="#231f20" stroke-width="1.8" stroke-linecap="butt"/>
<text x="1096.5" y="2486.2" font-size="23.6" text-anchor="middle">min post-i.v. <tspan font-size="13.76" dy="-7.86" letter-spacing="-0.6">13</tspan><tspan dy="7.86">C</tspan><tspan font-size="13.76" dy="7.86">16</tspan><tspan dy="-7.86">-palmitate</tspan></text>
<text x="911.25" y="2266" font-size="23.6" text-anchor="middle" transform="rotate(-90 911.25 2266)"><tspan letter-spacing="-1.1">% +2 </tspan>signal</text>
<text x="972.5" y="2074.6" font-size="23.6"><tspan font-size="13.76" dy="-7.86" letter-spacing="-0.6">13</tspan><tspan dy="7.86">C</tspan><tspan font-size="13.76" dy="7.86">2</tspan></text>
<ellipse cx="1022.09" cy="2064.5" rx="10.49" ry="11.32" fill="#231f20"/>
<ellipse cx="1039.36" cy="2064.5" rx="10.49" ry="11.32" fill="#231f20"/>
<ellipse cx="1056.64" cy="2064.5" rx="10.49" ry="11.32" fill="#231f20"/>
<ellipse cx="1073.91" cy="2064.5" rx="10.49" ry="11.32" fill="#231f20"/>
<ellipse cx="1022.09" cy="2064.5" rx="6.32" ry="7.43" fill="#fff"/>
<ellipse cx="1039.36" cy="2064.5" rx="6.32" ry="7.43" fill="#fff"/>
<ellipse cx="1056.64" cy="2064.5" rx="6.32" ry="7.43" fill="#ed1c24"/>
<ellipse cx="1073.91" cy="2064.5" rx="6.32" ry="7.43" fill="#ed1c24"/>
<text x="1033.75" y="2102.75" font-size="23.6" text-anchor="middle">malate</text>
<rect x="1119.25" y="2049.25" width="21.5" height="20" fill="#000"/>
<rect x="1119.25" y="2083.55" width="21.5" height="20" fill="#b4b3bb"/>
<text x="1152.25" y="2069.15" font-size="23.6">29°C</text>
<text x="1154.75" y="2103.45" font-size="23.6">4°C</text>
<line x1="1352.59" y1="2116.4" x2="1352.59" y2="2403.8" stroke="#000" stroke-width="4.1" stroke-linecap="butt"/>
<line x1="1350.54" y1="2401.75" x2="1601.38" y2="2401.75" stroke="#000" stroke-width="4.1" stroke-linecap="butt"/>
<line x1="1341.99" y1="2401.75" x2="1352.59" y2="2401.75" stroke="#000" stroke-width="4.1" stroke-linecap="butt"/>
<text x="1341.39" y="2409.63" font-size="22.4" text-anchor="end" letter-spacing="0.0">0.0</text>
<line x1="1341.99" y1="2345.09" x2="1352.59" y2="2345.09" stroke="#000" stroke-width="4.1" stroke-linecap="butt"/>
<text x="1341.39" y="2352.97" font-size="22.4" text-anchor="end" letter-spacing="0.0">0.2</text>
<line x1="1341.99" y1="2288.43" x2="1352.59" y2="2288.43" stroke="#000" stroke-width="4.1" stroke-linecap="butt"/>
<text x="1341.39" y="2296.31" font-size="22.4" text-anchor="end" letter-spacing="0.0">0.4</text>
<line x1="1341.99" y1="2231.77" x2="1352.59" y2="2231.77" stroke="#000" stroke-width="4.1" stroke-linecap="butt"/>
<text x="1341.39" y="2239.65" font-size="22.4" text-anchor="end" letter-spacing="0.0">0.6</text>
<line x1="1341.99" y1="2175.11" x2="1352.59" y2="2175.11" stroke="#000" stroke-width="4.1" stroke-linecap="butt"/>
<text x="1341.39" y="2182.99" font-size="22.4" text-anchor="end" letter-spacing="0.0">0.8</text>
<line x1="1341.99" y1="2118.45" x2="1352.59" y2="2118.45" stroke="#000" stroke-width="4.1" stroke-linecap="butt"/>
<text x="1341.39" y="2126.33" font-size="22.4" text-anchor="end" letter-spacing="0.0">1.0</text>
<line x1="1382.19" y1="2401.75" x2="1382.19" y2="2412.85" stroke="#000" stroke-width="4.2" stroke-linecap="butt"/>
<text x="1383" y="2435.25" font-size="23.6" text-anchor="middle">pre</text>
<line x1="1445.02" y1="2401.75" x2="1445.02" y2="2412.85" stroke="#000" stroke-width="4.2" stroke-linecap="butt"/>
<text x="1443.75" y="2435.25" font-size="22.4" text-anchor="middle" letter-spacing="0.0">15</text>
<line x1="1507.85" y1="2401.75" x2="1507.85" y2="2412.85" stroke="#000" stroke-width="4.2" stroke-linecap="butt"/>
<text x="1510.75" y="2435.25" font-size="22.4" text-anchor="middle" letter-spacing="0.0">30</text>
<line x1="1570.68" y1="2401.75" x2="1570.68" y2="2412.85" stroke="#000" stroke-width="4.2" stroke-linecap="butt"/>
<text x="1573.75" y="2435.25" font-size="22.4" text-anchor="middle" letter-spacing="0.0">60</text>
<text x="1381.75" y="2394.65" font-size="23.6" text-anchor="middle">N.D.</text>
<text x="1450.75" y="2394.65" font-size="23.6" text-anchor="middle">N.D.</text>
<text x="1514.25" y="2394.65" font-size="23.6" text-anchor="middle">N.D.</text>
<text x="1581.25" y="2394.65" font-size="23.6" text-anchor="middle">N.D.</text>
<line x1="1369.5" y1="2454.75" x2="1578.75" y2="2454.75" stroke="#231f20" stroke-width="1.8" stroke-linecap="butt"/>
<text x="1467.75" y="2483.35" font-size="23.6" text-anchor="middle">min post-i.v. <tspan font-size="13.76" dy="-7.86" letter-spacing="-0.6">13</tspan><tspan dy="7.86">C</tspan><tspan font-size="13.76" dy="7.86">16</tspan><tspan dy="-7.86">-palmitate</tspan></text>
<text x="1293.75" y="2261" font-size="23.6" text-anchor="middle" transform="rotate(-90 1293.75 2261)"><tspan letter-spacing="-1.1">% +4 </tspan>signal</text>
<text x="1412.5" y="2074.6" font-size="23.6"><tspan font-size="13.76" dy="-7.86" letter-spacing="-0.6">13</tspan><tspan dy="7.86">C</tspan><tspan font-size="13.76" dy="7.86">4</tspan></text>
<ellipse cx="1461.94" cy="2064.7" rx="10.54" ry="11.38" fill="#231f20"/>
<ellipse cx="1479.31" cy="2064.7" rx="10.54" ry="11.38" fill="#231f20"/>
<ellipse cx="1496.69" cy="2064.7" rx="10.54" ry="11.38" fill="#231f20"/>
<ellipse cx="1514.06" cy="2064.7" rx="10.54" ry="11.38" fill="#231f20"/>
<ellipse cx="1461.94" cy="2064.7" rx="6.36" ry="7.47" fill="#ed1c24"/>
<ellipse cx="1479.31" cy="2064.7" rx="6.36" ry="7.47" fill="#ed1c24"/>
<ellipse cx="1496.69" cy="2064.7" rx="6.36" ry="7.47" fill="#ed1c24"/>
<ellipse cx="1514.06" cy="2064.7" rx="6.36" ry="7.47" fill="#ed1c24"/>
<text x="1477.5" y="2102.75" font-size="23.6" text-anchor="middle">malate</text>
</svg>
</body></html>
